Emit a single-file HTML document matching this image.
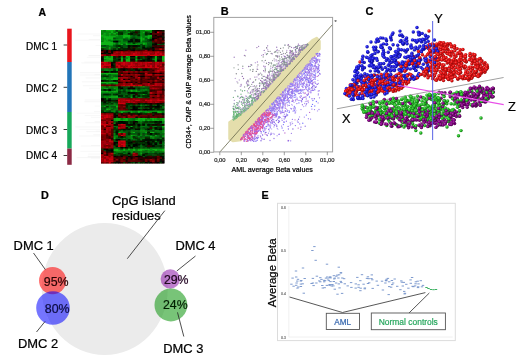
<!DOCTYPE html>
<html><head><meta charset="utf-8"><style>
html,body{margin:0;padding:0;background:#fff;width:520px;height:358px;overflow:hidden}
svg{display:block;font-family:"Liberation Sans", sans-serif}
</style></head><body>
<svg width="520" height="358" viewBox="0 0 520 358">
<defs><filter id="blur1" x="-5%" y="-5%" width="110%" height="110%"><feGaussianBlur stdDeviation="0.6"/></filter>
<radialGradient id="gb" cx="0.38" cy="0.38" r="0.62"><stop offset="0" stop-color="#5050ff"/><stop offset="0.5" stop-color="#1c1cdc"/><stop offset="1" stop-color="#0c0c8c"/></radialGradient>
<radialGradient id="gr" cx="0.38" cy="0.38" r="0.62"><stop offset="0" stop-color="#ff5050"/><stop offset="0.5" stop-color="#e01010"/><stop offset="1" stop-color="#8a0808"/></radialGradient>
<radialGradient id="gg" cx="0.38" cy="0.38" r="0.62"><stop offset="0" stop-color="#66e066"/><stop offset="0.55" stop-color="#22b422"/><stop offset="1" stop-color="#0e660e"/></radialGradient>
<radialGradient id="gp" cx="0.38" cy="0.38" r="0.62"><stop offset="0" stop-color="#b040b0"/><stop offset="0.55" stop-color="#800080"/><stop offset="1" stop-color="#400040"/></radialGradient>
<filter id="gblur" x="0" y="0" width="100%" height="100%"><feGaussianBlur stdDeviation="0.35"/></filter>
<filter id="blur2" x="-5%" y="-5%" width="110%" height="110%"><feGaussianBlur stdDeviation="0.3"/></filter></defs>
<rect width="520" height="358" fill="#fff"/>
<g filter="url(#gblur)">
<text x="38.4" y="15.9" font-size="10.5" font-weight="bold" stroke="#000" stroke-width="0.22">A</text>
<text x="26" y="50.2" font-size="10" stroke="#000" stroke-width="0.22">DMC 1</text>
<line x1="63.6" x2="67.4" y1="45.0" y2="45.0" stroke="#222" stroke-width="0.9"/>
<text x="26" y="91.8" font-size="10" stroke="#000" stroke-width="0.22">DMC 2</text>
<line x1="63.6" x2="67.4" y1="87.3" y2="87.3" stroke="#222" stroke-width="0.9"/>
<text x="26" y="134" font-size="10" stroke="#000" stroke-width="0.22">DMC 3</text>
<line x1="63.6" x2="67.4" y1="129.5" y2="129.5" stroke="#222" stroke-width="0.9"/>
<text x="26" y="158.8" font-size="10" stroke="#000" stroke-width="0.22">DMC 4</text>
<line x1="63.6" x2="67.4" y1="155.5" y2="155.5" stroke="#222" stroke-width="0.9"/>
<rect x="67.2" y="28.7" width="4.5" height="33.3" fill="#e8121c"/>
<rect x="67.2" y="62" width="4.5" height="50" fill="#2274b8"/>
<rect x="67.2" y="112" width="4.5" height="36.6" fill="#19a85a"/>
<rect x="67.2" y="148.6" width="4.5" height="16.2" fill="#8c2a45"/>
<g filter="url(#blur1)"><rect x="101" y="30" width="63.2" height="133.3" fill="#300"/><path fill="#07a013" d="M101 30h2.73v1.81h-2.73zM113.2 30h2.73v1.81h-2.73zM125.3 30h2.73v1.81h-2.73zM149.6 30h2.73v1.81h-2.73zM115.6 31.5h2.73v1.81h-2.73zM103.4 34.5h2.73v1.81h-2.73zM108.3 34.5h2.73v1.81h-2.73zM115.6 34.5h2.73v1.81h-2.73zM147.2 34.5h2.73v1.81h-2.73zM101 36.1h2.73v1.81h-2.73zM139.9 36.1h2.73v1.81h-2.73zM149.6 36.1h2.73v1.81h-2.73zM103.4 37.6h2.73v1.81h-2.73zM142.3 37.6h2.73v1.81h-2.73zM103.4 39.1h2.73v1.81h-2.73zM105.9 39.1h2.73v1.81h-2.73zM110.7 39.1h2.73v1.81h-2.73zM113.2 39.1h2.73v1.81h-2.73zM115.6 39.1h2.73v1.81h-2.73zM142.3 39.1h2.73v1.81h-2.73zM105.9 40.6h2.73v1.81h-2.73zM108.3 40.6h2.73v1.81h-2.73zM139.9 40.6h2.73v1.81h-2.73zM122.9 42.1h2.73v1.81h-2.73zM125.3 42.1h2.73v1.81h-2.73zM144.8 42.1h2.73v1.81h-2.73zM135 43.6h2.73v1.81h-2.73zM142.3 43.6h2.73v1.81h-2.73zM108.3 46.7h2.73v1.81h-2.73zM108.3 48.2h2.73v1.81h-2.73zM127.7 55.8h2.73v1.81h-2.73zM105.9 58.8h2.73v1.81h-2.73zM108.3 60.3h2.73v1.81h-2.73zM110.7 60.3h2.73v1.81h-2.73zM161.8 60.3h2.73v1.81h-2.73zM101 72.4h2.73v1.81h-2.73zM105.9 73.9h2.73v1.81h-2.73zM105.9 78.5h2.73v1.81h-2.73zM105.9 81.5h2.73v1.81h-2.73zM105.9 83h2.73v1.81h-2.73zM115.6 83h2.73v1.81h-2.73zM101 86h2.73v1.81h-2.73zM103.4 87.6h2.73v1.81h-2.73zM105.9 87.6h2.73v1.81h-2.73zM113.2 87.6h2.73v1.81h-2.73zM115.6 89.1h2.73v1.81h-2.73zM125.3 89.1h2.73v1.81h-2.73zM135 89.1h2.73v1.81h-2.73zM101 90.6h2.73v1.81h-2.73zM103.4 90.6h2.73v1.81h-2.73zM110.7 90.6h2.73v1.81h-2.73zM115.6 90.6h2.73v1.81h-2.73zM130.2 90.6h2.73v1.81h-2.73zM135 90.6h2.73v1.81h-2.73zM108.3 92.1h2.73v1.81h-2.73zM142.3 93.6h2.73v1.81h-2.73zM110.7 95.1h2.73v1.81h-2.73zM113.2 95.1h2.73v1.81h-2.73zM108.3 96.7h2.73v1.81h-2.73zM110.7 96.7h2.73v1.81h-2.73zM113.2 96.7h2.73v1.81h-2.73zM115.6 96.7h2.73v1.81h-2.73zM130.2 96.7h2.73v1.81h-2.73zM105.9 104.2h2.73v1.81h-2.73zM113.2 104.2h2.73v1.81h-2.73zM103.4 105.7h2.73v1.81h-2.73zM108.3 108.8h2.73v1.81h-2.73zM103.4 110.3h2.73v1.81h-2.73zM110.7 110.3h2.73v1.81h-2.73zM113.2 110.3h2.73v1.81h-2.73zM118 110.3h2.73v1.81h-2.73zM120.4 110.3h2.73v1.81h-2.73zM125.3 110.3h2.73v1.81h-2.73zM127.7 110.3h2.73v1.81h-2.73zM130.2 110.3h2.73v1.81h-2.73zM142.3 110.3h2.73v1.81h-2.73zM144.8 110.3h2.73v1.81h-2.73zM149.6 110.3h2.73v1.81h-2.73zM159.3 110.3h2.73v1.81h-2.73zM130.2 111.8h2.73v1.81h-2.73zM137.5 111.8h2.73v1.81h-2.73zM147.2 111.8h2.73v1.81h-2.73zM113.2 117.9h2.73v1.81h-2.73zM122.9 117.9h2.73v1.81h-2.73zM144.8 117.9h2.73v1.81h-2.73zM149.6 117.9h2.73v1.81h-2.73zM154.5 117.9h2.73v1.81h-2.73zM159.3 117.9h2.73v1.81h-2.73zM113.2 119.4h2.73v1.81h-2.73zM120.4 119.4h2.73v1.81h-2.73zM139.9 119.4h2.73v1.81h-2.73zM154.5 119.4h2.73v1.81h-2.73zM156.9 119.4h2.73v1.81h-2.73zM142.3 130h2.73v1.81h-2.73zM154.5 130h2.73v1.81h-2.73zM161.8 130h2.73v1.81h-2.73zM144.8 131.5h2.73v1.81h-2.73zM149.6 131.5h2.73v1.81h-2.73zM113.2 133h2.73v1.81h-2.73zM154.5 134.5h2.73v1.81h-2.73zM113.2 136h2.73v1.81h-2.73zM137.5 136h2.73v1.81h-2.73zM152 136h2.73v1.81h-2.73zM161.8 136h2.73v1.81h-2.73zM113.2 148.2h2.73v1.81h-2.73zM137.5 148.2h2.73v1.81h-2.73zM156.9 148.2h2.73v1.81h-2.73zM159.3 148.2h2.73v1.81h-2.73zM118 149.7h2.73v1.81h-2.73zM159.3 149.7h2.73v1.81h-2.73zM147.2 151.2h2.73v1.81h-2.73zM152 151.2h2.73v1.81h-2.73zM139.9 152.7h2.73v1.81h-2.73z"/><path fill="#057c0f" d="M103.4 30h2.73v1.81h-2.73zM132.6 30h2.73v1.81h-2.73zM113.2 31.5h2.73v1.81h-2.73zM125.3 31.5h2.73v1.81h-2.73zM101 33h2.73v1.81h-2.73zM110.7 33h2.73v1.81h-2.73zM115.6 33h2.73v1.81h-2.73zM122.9 33h2.73v1.81h-2.73zM142.3 33h2.73v1.81h-2.73zM118 34.5h2.73v1.81h-2.73zM142.3 34.5h2.73v1.81h-2.73zM118 36.1h2.73v1.81h-2.73zM120.4 36.1h2.73v1.81h-2.73zM130.2 36.1h2.73v1.81h-2.73zM135 36.1h2.73v1.81h-2.73zM142.3 36.1h2.73v1.81h-2.73zM118 37.6h2.73v1.81h-2.73zM120.4 37.6h2.73v1.81h-2.73zM122.9 37.6h2.73v1.81h-2.73zM108.3 39.1h2.73v1.81h-2.73zM144.8 39.1h2.73v1.81h-2.73zM101 40.6h2.73v1.81h-2.73zM110.7 40.6h2.73v1.81h-2.73zM125.3 40.6h2.73v1.81h-2.73zM115.6 42.1h2.73v1.81h-2.73zM135 42.1h2.73v1.81h-2.73zM108.3 45.1h2.73v1.81h-2.73zM110.7 45.1h2.73v1.81h-2.73zM105.9 48.2h2.73v1.81h-2.73zM120.4 55.8h2.73v1.81h-2.73zM103.4 58.8h2.73v1.81h-2.73zM152 58.8h2.73v1.81h-2.73zM135 60.3h2.73v1.81h-2.73zM103.4 67.9h2.73v1.81h-2.73zM105.9 67.9h2.73v1.81h-2.73zM110.7 67.9h2.73v1.81h-2.73zM103.4 69.4h2.73v1.81h-2.73zM108.3 69.4h2.73v1.81h-2.73zM110.7 69.4h2.73v1.81h-2.73zM101 73.9h2.73v1.81h-2.73zM110.7 73.9h2.73v1.81h-2.73zM113.2 73.9h2.73v1.81h-2.73zM101 77h2.73v1.81h-2.73zM105.9 77h2.73v1.81h-2.73zM108.3 77h2.73v1.81h-2.73zM110.7 77h2.73v1.81h-2.73zM101 78.5h2.73v1.81h-2.73zM103.4 78.5h2.73v1.81h-2.73zM132.6 86h2.73v1.81h-2.73zM127.7 89.1h2.73v1.81h-2.73zM147.2 89.1h2.73v1.81h-2.73zM132.6 90.6h2.73v1.81h-2.73zM110.7 92.1h2.73v1.81h-2.73zM115.6 92.1h2.73v1.81h-2.73zM147.2 92.1h2.73v1.81h-2.73zM105.9 95.1h2.73v1.81h-2.73zM137.5 96.7h2.73v1.81h-2.73zM139.9 96.7h2.73v1.81h-2.73zM105.9 98.2h2.73v1.81h-2.73zM113.2 102.7h2.73v1.81h-2.73zM108.3 104.2h2.73v1.81h-2.73zM135 104.2h2.73v1.81h-2.73zM154.5 104.2h2.73v1.81h-2.73zM101 105.7h2.73v1.81h-2.73zM108.3 105.7h2.73v1.81h-2.73zM105.9 107.3h2.73v1.81h-2.73zM115.6 107.3h2.73v1.81h-2.73zM137.5 107.3h2.73v1.81h-2.73zM139.9 107.3h2.73v1.81h-2.73zM152 107.3h2.73v1.81h-2.73zM113.2 108.8h2.73v1.81h-2.73zM115.6 108.8h2.73v1.81h-2.73zM135 110.3h2.73v1.81h-2.73zM149.6 111.8h2.73v1.81h-2.73zM120.4 117.9h2.73v1.81h-2.73zM130.2 117.9h2.73v1.81h-2.73zM147.2 117.9h2.73v1.81h-2.73zM127.7 119.4h2.73v1.81h-2.73zM130.2 119.4h2.73v1.81h-2.73zM144.8 119.4h2.73v1.81h-2.73zM161.8 120.9h2.73v1.81h-2.73zM161.8 122.4h2.73v1.81h-2.73zM113.2 125.4h2.73v1.81h-2.73zM125.3 125.4h2.73v1.81h-2.73zM139.9 125.4h2.73v1.81h-2.73zM142.3 125.4h2.73v1.81h-2.73zM152 125.4h2.73v1.81h-2.73zM154.5 125.4h2.73v1.81h-2.73zM161.8 126.9h2.73v1.81h-2.73zM139.9 128.5h2.73v1.81h-2.73zM120.4 130h2.73v1.81h-2.73zM130.2 130h2.73v1.81h-2.73zM137.5 130h2.73v1.81h-2.73zM159.3 130h2.73v1.81h-2.73zM120.4 131.5h2.73v1.81h-2.73zM122.9 131.5h2.73v1.81h-2.73zM139.9 131.5h2.73v1.81h-2.73zM142.3 131.5h2.73v1.81h-2.73zM139.9 133h2.73v1.81h-2.73zM113.2 134.5h2.73v1.81h-2.73zM135 134.5h2.73v1.81h-2.73zM147.2 134.5h2.73v1.81h-2.73zM161.8 134.5h2.73v1.81h-2.73zM127.7 136h2.73v1.81h-2.73zM154.5 136h2.73v1.81h-2.73zM122.9 137.5h2.73v1.81h-2.73zM142.3 137.5h2.73v1.81h-2.73zM159.3 137.5h2.73v1.81h-2.73zM132.6 139.1h2.73v1.81h-2.73zM139.9 139.1h2.73v1.81h-2.73zM154.5 140.6h2.73v1.81h-2.73zM161.8 142.1h2.73v1.81h-2.73zM118 148.2h2.73v1.81h-2.73zM135 148.2h2.73v1.81h-2.73zM135 149.7h2.73v1.81h-2.73zM152 149.7h2.73v1.81h-2.73zM115.6 151.2h2.73v1.81h-2.73zM120.4 151.2h2.73v1.81h-2.73zM125.3 151.2h2.73v1.81h-2.73zM144.8 151.2h2.73v1.81h-2.73zM159.3 151.2h2.73v1.81h-2.73zM161.8 151.2h2.73v1.81h-2.73zM122.9 152.7h2.73v1.81h-2.73zM139.9 154.2h2.73v1.81h-2.73z"/><path fill="#08b216" d="M105.9 30h2.73v1.81h-2.73zM108.3 30h2.73v1.81h-2.73zM110.7 30h2.73v1.81h-2.73zM144.8 30h2.73v1.81h-2.73zM147.2 30h2.73v1.81h-2.73zM110.7 31.5h2.73v1.81h-2.73zM142.3 31.5h2.73v1.81h-2.73zM103.4 33h2.73v1.81h-2.73zM108.3 33h2.73v1.81h-2.73zM113.2 33h2.73v1.81h-2.73zM101 34.5h2.73v1.81h-2.73zM122.9 34.5h2.73v1.81h-2.73zM125.3 34.5h2.73v1.81h-2.73zM127.7 34.5h2.73v1.81h-2.73zM149.6 34.5h2.73v1.81h-2.73zM103.4 36.1h2.73v1.81h-2.73zM105.9 36.1h2.73v1.81h-2.73zM108.3 36.1h2.73v1.81h-2.73zM110.7 36.1h2.73v1.81h-2.73zM113.2 36.1h2.73v1.81h-2.73zM122.9 36.1h2.73v1.81h-2.73zM125.3 36.1h2.73v1.81h-2.73zM127.7 36.1h2.73v1.81h-2.73zM144.8 36.1h2.73v1.81h-2.73zM147.2 36.1h2.73v1.81h-2.73zM105.9 37.6h2.73v1.81h-2.73zM108.3 37.6h2.73v1.81h-2.73zM110.7 37.6h2.73v1.81h-2.73zM139.9 37.6h2.73v1.81h-2.73zM147.2 37.6h2.73v1.81h-2.73zM139.9 39.1h2.73v1.81h-2.73zM103.4 40.6h2.73v1.81h-2.73zM101 42.1h2.73v1.81h-2.73zM103.4 42.1h2.73v1.81h-2.73zM105.9 42.1h2.73v1.81h-2.73zM108.3 42.1h2.73v1.81h-2.73zM110.7 42.1h2.73v1.81h-2.73zM113.2 42.1h2.73v1.81h-2.73zM118 42.1h2.73v1.81h-2.73zM142.3 42.1h2.73v1.81h-2.73zM101 43.6h2.73v1.81h-2.73zM103.4 43.6h2.73v1.81h-2.73zM105.9 43.6h2.73v1.81h-2.73zM108.3 43.6h2.73v1.81h-2.73zM110.7 43.6h2.73v1.81h-2.73zM120.4 43.6h2.73v1.81h-2.73zM125.3 43.6h2.73v1.81h-2.73zM105.9 55.8h2.73v1.81h-2.73zM110.7 55.8h2.73v1.81h-2.73zM125.3 55.8h2.73v1.81h-2.73zM135 55.8h2.73v1.81h-2.73zM154.5 55.8h2.73v1.81h-2.73zM161.8 55.8h2.73v1.81h-2.73zM103.4 57.3h2.73v1.81h-2.73zM105.9 57.3h2.73v1.81h-2.73zM108.3 57.3h2.73v1.81h-2.73zM110.7 57.3h2.73v1.81h-2.73zM120.4 57.3h2.73v1.81h-2.73zM127.7 57.3h2.73v1.81h-2.73zM154.5 57.3h2.73v1.81h-2.73zM161.8 57.3h2.73v1.81h-2.73zM108.3 58.8h2.73v1.81h-2.73zM110.7 58.8h2.73v1.81h-2.73zM120.4 58.8h2.73v1.81h-2.73zM125.3 58.8h2.73v1.81h-2.73zM127.7 58.8h2.73v1.81h-2.73zM135 58.8h2.73v1.81h-2.73zM154.5 58.8h2.73v1.81h-2.73zM161.8 58.8h2.73v1.81h-2.73zM103.4 60.3h2.73v1.81h-2.73zM105.9 60.3h2.73v1.81h-2.73zM120.4 60.3h2.73v1.81h-2.73zM125.3 60.3h2.73v1.81h-2.73zM127.7 60.3h2.73v1.81h-2.73zM154.5 60.3h2.73v1.81h-2.73zM103.4 72.4h2.73v1.81h-2.73zM105.9 72.4h2.73v1.81h-2.73zM108.3 72.4h2.73v1.81h-2.73zM110.7 72.4h2.73v1.81h-2.73zM113.2 72.4h2.73v1.81h-2.73zM115.6 72.4h2.73v1.81h-2.73zM103.4 77h2.73v1.81h-2.73zM113.2 77h2.73v1.81h-2.73zM115.6 77h2.73v1.81h-2.73zM110.7 78.5h2.73v1.81h-2.73zM113.2 78.5h2.73v1.81h-2.73zM115.6 78.5h2.73v1.81h-2.73zM101 81.5h2.73v1.81h-2.73zM103.4 81.5h2.73v1.81h-2.73zM108.3 81.5h2.73v1.81h-2.73zM110.7 81.5h2.73v1.81h-2.73zM113.2 81.5h2.73v1.81h-2.73zM108.3 86h2.73v1.81h-2.73zM142.3 86h2.73v1.81h-2.73zM120.4 89.1h2.73v1.81h-2.73zM130.2 89.1h2.73v1.81h-2.73zM142.3 89.1h2.73v1.81h-2.73zM144.8 89.1h2.73v1.81h-2.73zM105.9 90.6h2.73v1.81h-2.73zM113.2 90.6h2.73v1.81h-2.73zM115.6 95.1h2.73v1.81h-2.73zM115.6 105.7h2.73v1.81h-2.73zM105.9 108.8h2.73v1.81h-2.73zM122.9 110.3h2.73v1.81h-2.73zM137.5 110.3h2.73v1.81h-2.73zM139.9 110.3h2.73v1.81h-2.73zM152 110.3h2.73v1.81h-2.73zM154.5 110.3h2.73v1.81h-2.73zM156.9 110.3h2.73v1.81h-2.73zM120.4 111.8h2.73v1.81h-2.73zM156.9 111.8h2.73v1.81h-2.73zM159.3 111.8h2.73v1.81h-2.73zM115.6 117.9h2.73v1.81h-2.73zM118 117.9h2.73v1.81h-2.73zM125.3 117.9h2.73v1.81h-2.73zM137.5 117.9h2.73v1.81h-2.73zM139.9 117.9h2.73v1.81h-2.73zM142.3 117.9h2.73v1.81h-2.73zM152 117.9h2.73v1.81h-2.73zM161.8 117.9h2.73v1.81h-2.73zM115.6 119.4h2.73v1.81h-2.73zM118 119.4h2.73v1.81h-2.73zM122.9 119.4h2.73v1.81h-2.73zM125.3 119.4h2.73v1.81h-2.73zM135 119.4h2.73v1.81h-2.73zM137.5 119.4h2.73v1.81h-2.73zM142.3 119.4h2.73v1.81h-2.73zM147.2 119.4h2.73v1.81h-2.73zM152 119.4h2.73v1.81h-2.73zM161.8 119.4h2.73v1.81h-2.73zM130.2 125.4h2.73v1.81h-2.73zM161.8 125.4h2.73v1.81h-2.73zM118 131.5h2.73v1.81h-2.73zM132.6 131.5h2.73v1.81h-2.73zM152 131.5h2.73v1.81h-2.73zM130.2 134.5h2.73v1.81h-2.73zM149.6 136h2.73v1.81h-2.73zM113.2 137.5h2.73v1.81h-2.73zM115.6 148.2h2.73v1.81h-2.73zM122.9 148.2h2.73v1.81h-2.73zM127.7 148.2h2.73v1.81h-2.73zM132.6 148.2h2.73v1.81h-2.73zM139.9 148.2h2.73v1.81h-2.73zM142.3 148.2h2.73v1.81h-2.73zM144.8 148.2h2.73v1.81h-2.73zM147.2 148.2h2.73v1.81h-2.73zM152 148.2h2.73v1.81h-2.73zM154.5 148.2h2.73v1.81h-2.73zM161.8 148.2h2.73v1.81h-2.73zM113.2 149.7h2.73v1.81h-2.73zM115.6 149.7h2.73v1.81h-2.73zM122.9 149.7h2.73v1.81h-2.73zM132.6 149.7h2.73v1.81h-2.73zM137.5 149.7h2.73v1.81h-2.73zM139.9 149.7h2.73v1.81h-2.73zM154.5 149.7h2.73v1.81h-2.73zM161.8 149.7h2.73v1.81h-2.73z"/><path fill="#034708" d="M115.6 30h2.73v1.81h-2.73zM135 30h2.73v1.81h-2.73zM137.5 30h2.73v1.81h-2.73zM137.5 33h2.73v1.81h-2.73zM132.6 34.5h2.73v1.81h-2.73zM113.2 37.6h2.73v1.81h-2.73zM130.2 37.6h2.73v1.81h-2.73zM122.9 39.1h2.73v1.81h-2.73zM132.6 39.1h2.73v1.81h-2.73zM147.2 39.1h2.73v1.81h-2.73zM147.2 40.6h2.73v1.81h-2.73zM149.6 40.6h2.73v1.81h-2.73zM152 42.1h2.73v1.81h-2.73zM139.9 43.6h2.73v1.81h-2.73zM159.3 43.6h2.73v1.81h-2.73zM161.8 43.6h2.73v1.81h-2.73zM103.4 45.1h2.73v1.81h-2.73zM120.4 45.1h2.73v1.81h-2.73zM147.2 45.1h2.73v1.81h-2.73zM149.6 45.1h2.73v1.81h-2.73zM115.6 46.7h2.73v1.81h-2.73zM144.8 46.7h2.73v1.81h-2.73zM120.4 48.2h2.73v1.81h-2.73zM135 48.2h2.73v1.81h-2.73zM139.9 48.2h2.73v1.81h-2.73zM142.3 55.8h2.73v1.81h-2.73zM115.6 57.3h2.73v1.81h-2.73zM122.9 57.3h2.73v1.81h-2.73zM137.5 58.8h2.73v1.81h-2.73zM118 60.3h2.73v1.81h-2.73zM137.5 67.9h2.73v1.81h-2.73zM108.3 70.9h2.73v1.81h-2.73zM101 75.4h2.73v1.81h-2.73zM108.3 80h2.73v1.81h-2.73zM110.7 80h2.73v1.81h-2.73zM120.4 86h2.73v1.81h-2.73zM122.9 86h2.73v1.81h-2.73zM122.9 87.6h2.73v1.81h-2.73zM125.3 87.6h2.73v1.81h-2.73zM142.3 87.6h2.73v1.81h-2.73zM147.2 87.6h2.73v1.81h-2.73zM105.9 89.1h2.73v1.81h-2.73zM122.9 89.1h2.73v1.81h-2.73zM120.4 90.6h2.73v1.81h-2.73zM125.3 92.1h2.73v1.81h-2.73zM120.4 93.6h2.73v1.81h-2.73zM132.6 93.6h2.73v1.81h-2.73zM137.5 93.6h2.73v1.81h-2.73zM120.4 96.7h2.73v1.81h-2.73zM122.9 96.7h2.73v1.81h-2.73zM125.3 96.7h2.73v1.81h-2.73zM135 96.7h2.73v1.81h-2.73zM142.3 96.7h2.73v1.81h-2.73zM101 101.2h2.73v1.81h-2.73zM113.2 101.2h2.73v1.81h-2.73zM127.7 104.2h2.73v1.81h-2.73zM127.7 105.7h2.73v1.81h-2.73zM139.9 105.7h2.73v1.81h-2.73zM103.4 107.3h2.73v1.81h-2.73zM125.3 107.3h2.73v1.81h-2.73zM127.7 107.3h2.73v1.81h-2.73zM144.8 107.3h2.73v1.81h-2.73zM159.3 107.3h2.73v1.81h-2.73zM154.5 108.8h2.73v1.81h-2.73zM108.3 110.3h2.73v1.81h-2.73zM115.6 110.3h2.73v1.81h-2.73zM115.6 116.3h2.73v1.81h-2.73zM115.6 120.9h2.73v1.81h-2.73zM127.7 120.9h2.73v1.81h-2.73zM147.2 120.9h2.73v1.81h-2.73zM137.5 122.4h2.73v1.81h-2.73zM147.2 122.4h2.73v1.81h-2.73zM159.3 122.4h2.73v1.81h-2.73zM135 123.9h2.73v1.81h-2.73zM139.9 123.9h2.73v1.81h-2.73zM127.7 125.4h2.73v1.81h-2.73zM147.2 125.4h2.73v1.81h-2.73zM156.9 125.4h2.73v1.81h-2.73zM159.3 125.4h2.73v1.81h-2.73zM142.3 126.9h2.73v1.81h-2.73zM130.2 128.5h2.73v1.81h-2.73zM132.6 128.5h2.73v1.81h-2.73zM122.9 130h2.73v1.81h-2.73zM113.2 131.5h2.73v1.81h-2.73zM142.3 133h2.73v1.81h-2.73zM152 133h2.73v1.81h-2.73zM137.5 134.5h2.73v1.81h-2.73zM152 134.5h2.73v1.81h-2.73zM139.9 136h2.73v1.81h-2.73zM144.8 136h2.73v1.81h-2.73zM159.3 136h2.73v1.81h-2.73zM120.4 137.5h2.73v1.81h-2.73zM132.6 137.5h2.73v1.81h-2.73zM137.5 137.5h2.73v1.81h-2.73zM156.9 137.5h2.73v1.81h-2.73zM113.2 140.6h2.73v1.81h-2.73zM115.6 140.6h2.73v1.81h-2.73zM144.8 140.6h2.73v1.81h-2.73zM161.8 140.6h2.73v1.81h-2.73zM137.5 142.1h2.73v1.81h-2.73zM152 142.1h2.73v1.81h-2.73zM125.3 143.6h2.73v1.81h-2.73zM139.9 143.6h2.73v1.81h-2.73zM152 143.6h2.73v1.81h-2.73zM159.3 143.6h2.73v1.81h-2.73zM137.5 145.1h2.73v1.81h-2.73zM142.3 145.1h2.73v1.81h-2.73zM115.6 146.6h2.73v1.81h-2.73zM118 146.6h2.73v1.81h-2.73zM142.3 146.6h2.73v1.81h-2.73zM149.6 146.6h2.73v1.81h-2.73zM152 146.6h2.73v1.81h-2.73zM154.5 146.6h2.73v1.81h-2.73zM159.3 146.6h2.73v1.81h-2.73zM101 148.2h2.73v1.81h-2.73zM103.4 149.7h2.73v1.81h-2.73zM132.6 151.2h2.73v1.81h-2.73zM142.3 152.7h2.73v1.81h-2.73zM147.2 152.7h2.73v1.81h-2.73zM149.6 152.7h2.73v1.81h-2.73zM152 152.7h2.73v1.81h-2.73zM156.9 152.7h2.73v1.81h-2.73zM115.6 154.2h2.73v1.81h-2.73zM137.5 154.2h2.73v1.81h-2.73zM144.8 154.2h2.73v1.81h-2.73zM147.2 154.2h2.73v1.81h-2.73zM149.6 154.2h2.73v1.81h-2.73zM122.9 161.8h2.73v1.81h-2.73zM132.6 161.8h2.73v1.81h-2.73z"/><path fill="#068e11" d="M118 30h2.73v1.81h-2.73zM120.4 30h2.73v1.81h-2.73zM130.2 30h2.73v1.81h-2.73zM139.9 30h2.73v1.81h-2.73zM142.3 30h2.73v1.81h-2.73zM101 31.5h2.73v1.81h-2.73zM103.4 31.5h2.73v1.81h-2.73zM105.9 31.5h2.73v1.81h-2.73zM108.3 31.5h2.73v1.81h-2.73zM127.7 31.5h2.73v1.81h-2.73zM139.9 31.5h2.73v1.81h-2.73zM149.6 31.5h2.73v1.81h-2.73zM105.9 33h2.73v1.81h-2.73zM125.3 33h2.73v1.81h-2.73zM139.9 33h2.73v1.81h-2.73zM105.9 34.5h2.73v1.81h-2.73zM110.7 34.5h2.73v1.81h-2.73zM113.2 34.5h2.73v1.81h-2.73zM120.4 34.5h2.73v1.81h-2.73zM139.9 34.5h2.73v1.81h-2.73zM115.6 36.1h2.73v1.81h-2.73zM101 37.6h2.73v1.81h-2.73zM127.7 37.6h2.73v1.81h-2.73zM101 39.1h2.73v1.81h-2.73zM118 39.1h2.73v1.81h-2.73zM120.4 39.1h2.73v1.81h-2.73zM120.4 40.6h2.73v1.81h-2.73zM120.4 42.1h2.73v1.81h-2.73zM130.2 42.1h2.73v1.81h-2.73zM137.5 42.1h2.73v1.81h-2.73zM139.9 42.1h2.73v1.81h-2.73zM113.2 43.6h2.73v1.81h-2.73zM118 43.6h2.73v1.81h-2.73zM127.7 43.6h2.73v1.81h-2.73zM130.2 43.6h2.73v1.81h-2.73zM132.6 43.6h2.73v1.81h-2.73zM137.5 43.6h2.73v1.81h-2.73zM144.8 43.6h2.73v1.81h-2.73zM101 46.7h2.73v1.81h-2.73zM103.4 46.7h2.73v1.81h-2.73zM118 46.7h2.73v1.81h-2.73zM103.4 55.8h2.73v1.81h-2.73zM108.3 55.8h2.73v1.81h-2.73zM125.3 57.3h2.73v1.81h-2.73zM135 57.3h2.73v1.81h-2.73zM115.6 67.9h2.73v1.81h-2.73zM105.9 69.4h2.73v1.81h-2.73zM115.6 69.4h2.73v1.81h-2.73zM115.6 73.9h2.73v1.81h-2.73zM110.7 75.4h2.73v1.81h-2.73zM108.3 78.5h2.73v1.81h-2.73zM115.6 81.5h2.73v1.81h-2.73zM108.3 83h2.73v1.81h-2.73zM113.2 83h2.73v1.81h-2.73zM103.4 86h2.73v1.81h-2.73zM110.7 86h2.73v1.81h-2.73zM113.2 86h2.73v1.81h-2.73zM115.6 86h2.73v1.81h-2.73zM139.9 86h2.73v1.81h-2.73zM101 87.6h2.73v1.81h-2.73zM115.6 87.6h2.73v1.81h-2.73zM132.6 89.1h2.73v1.81h-2.73zM139.9 89.1h2.73v1.81h-2.73zM108.3 90.6h2.73v1.81h-2.73zM137.5 90.6h2.73v1.81h-2.73zM101 92.1h2.73v1.81h-2.73zM103.4 92.1h2.73v1.81h-2.73zM105.9 92.1h2.73v1.81h-2.73zM113.2 92.1h2.73v1.81h-2.73zM103.4 95.1h2.73v1.81h-2.73zM108.3 95.1h2.73v1.81h-2.73zM130.2 95.1h2.73v1.81h-2.73zM103.4 96.7h2.73v1.81h-2.73zM105.9 96.7h2.73v1.81h-2.73zM110.7 104.2h2.73v1.81h-2.73zM115.6 104.2h2.73v1.81h-2.73zM139.9 104.2h2.73v1.81h-2.73zM144.8 104.2h2.73v1.81h-2.73zM108.3 107.3h2.73v1.81h-2.73zM110.7 107.3h2.73v1.81h-2.73zM132.6 110.3h2.73v1.81h-2.73zM147.2 110.3h2.73v1.81h-2.73zM161.8 110.3h2.73v1.81h-2.73zM144.8 111.8h2.73v1.81h-2.73zM127.7 117.9h2.73v1.81h-2.73zM135 117.9h2.73v1.81h-2.73zM156.9 117.9h2.73v1.81h-2.73zM149.6 119.4h2.73v1.81h-2.73zM159.3 119.4h2.73v1.81h-2.73zM139.9 120.9h2.73v1.81h-2.73zM113.2 122.4h2.73v1.81h-2.73zM152 128.5h2.73v1.81h-2.73zM135 130h2.73v1.81h-2.73zM139.9 130h2.73v1.81h-2.73zM144.8 130h2.73v1.81h-2.73zM156.9 130h2.73v1.81h-2.73zM130.2 131.5h2.73v1.81h-2.73zM161.8 131.5h2.73v1.81h-2.73zM132.6 134.5h2.73v1.81h-2.73zM139.9 134.5h2.73v1.81h-2.73zM144.8 134.5h2.73v1.81h-2.73zM115.6 136h2.73v1.81h-2.73zM130.2 136h2.73v1.81h-2.73zM130.2 137.5h2.73v1.81h-2.73zM152 137.5h2.73v1.81h-2.73zM130.2 148.2h2.73v1.81h-2.73zM149.6 148.2h2.73v1.81h-2.73zM120.4 149.7h2.73v1.81h-2.73zM125.3 149.7h2.73v1.81h-2.73zM127.7 149.7h2.73v1.81h-2.73zM130.2 149.7h2.73v1.81h-2.73zM142.3 149.7h2.73v1.81h-2.73zM147.2 149.7h2.73v1.81h-2.73zM149.6 149.7h2.73v1.81h-2.73zM156.9 149.7h2.73v1.81h-2.73zM118 151.2h2.73v1.81h-2.73zM130.2 151.2h2.73v1.81h-2.73zM139.9 151.2h2.73v1.81h-2.73zM113.2 152.7h2.73v1.81h-2.73z"/><path fill="#046a0d" d="M122.9 30h2.73v1.81h-2.73zM122.9 31.5h2.73v1.81h-2.73zM130.2 34.5h2.73v1.81h-2.73zM137.5 36.1h2.73v1.81h-2.73zM115.6 37.6h2.73v1.81h-2.73zM125.3 37.6h2.73v1.81h-2.73zM137.5 37.6h2.73v1.81h-2.73zM149.6 37.6h2.73v1.81h-2.73zM127.7 39.1h2.73v1.81h-2.73zM118 40.6h2.73v1.81h-2.73zM122.9 40.6h2.73v1.81h-2.73zM142.3 40.6h2.73v1.81h-2.73zM127.7 42.1h2.73v1.81h-2.73zM147.2 42.1h2.73v1.81h-2.73zM156.9 43.6h2.73v1.81h-2.73zM105.9 45.1h2.73v1.81h-2.73zM144.8 45.1h2.73v1.81h-2.73zM105.9 46.7h2.73v1.81h-2.73zM110.7 46.7h2.73v1.81h-2.73zM113.2 46.7h2.73v1.81h-2.73zM125.3 46.7h2.73v1.81h-2.73zM115.6 48.2h2.73v1.81h-2.73zM139.9 58.8h2.73v1.81h-2.73zM101 67.9h2.73v1.81h-2.73zM108.3 67.9h2.73v1.81h-2.73zM113.2 67.9h2.73v1.81h-2.73zM103.4 73.9h2.73v1.81h-2.73zM108.3 73.9h2.73v1.81h-2.73zM108.3 75.4h2.73v1.81h-2.73zM113.2 75.4h2.73v1.81h-2.73zM101 83h2.73v1.81h-2.73zM103.4 83h2.73v1.81h-2.73zM110.7 83h2.73v1.81h-2.73zM105.9 86h2.73v1.81h-2.73zM127.7 86h2.73v1.81h-2.73zM137.5 86h2.73v1.81h-2.73zM144.8 86h2.73v1.81h-2.73zM108.3 87.6h2.73v1.81h-2.73zM110.7 87.6h2.73v1.81h-2.73zM113.2 89.1h2.73v1.81h-2.73zM118 89.1h2.73v1.81h-2.73zM125.3 90.6h2.73v1.81h-2.73zM139.9 90.6h2.73v1.81h-2.73zM110.7 93.6h2.73v1.81h-2.73zM125.3 93.6h2.73v1.81h-2.73zM130.2 93.6h2.73v1.81h-2.73zM139.9 93.6h2.73v1.81h-2.73zM101 95.1h2.73v1.81h-2.73zM122.9 95.1h2.73v1.81h-2.73zM135 95.1h2.73v1.81h-2.73zM101 96.7h2.73v1.81h-2.73zM118 96.7h2.73v1.81h-2.73zM110.7 98.2h2.73v1.81h-2.73zM113.2 98.2h2.73v1.81h-2.73zM115.6 98.2h2.73v1.81h-2.73zM110.7 101.2h2.73v1.81h-2.73zM101 104.2h2.73v1.81h-2.73zM103.4 104.2h2.73v1.81h-2.73zM130.2 104.2h2.73v1.81h-2.73zM142.3 104.2h2.73v1.81h-2.73zM147.2 104.2h2.73v1.81h-2.73zM152 104.2h2.73v1.81h-2.73zM159.3 104.2h2.73v1.81h-2.73zM161.8 105.7h2.73v1.81h-2.73zM113.2 107.3h2.73v1.81h-2.73zM130.2 107.3h2.73v1.81h-2.73zM147.2 107.3h2.73v1.81h-2.73zM161.8 107.3h2.73v1.81h-2.73zM105.9 110.3h2.73v1.81h-2.73zM118 111.8h2.73v1.81h-2.73zM132.6 111.8h2.73v1.81h-2.73zM142.3 111.8h2.73v1.81h-2.73zM161.8 111.8h2.73v1.81h-2.73zM132.6 117.9h2.73v1.81h-2.73zM132.6 119.4h2.73v1.81h-2.73zM137.5 120.9h2.73v1.81h-2.73zM139.9 122.4h2.73v1.81h-2.73zM152 122.4h2.73v1.81h-2.73zM144.8 123.9h2.73v1.81h-2.73zM115.6 125.4h2.73v1.81h-2.73zM144.8 125.4h2.73v1.81h-2.73zM115.6 126.9h2.73v1.81h-2.73zM127.7 126.9h2.73v1.81h-2.73zM139.9 126.9h2.73v1.81h-2.73zM142.3 128.5h2.73v1.81h-2.73zM113.2 130h2.73v1.81h-2.73zM132.6 130h2.73v1.81h-2.73zM147.2 130h2.73v1.81h-2.73zM149.6 130h2.73v1.81h-2.73zM156.9 131.5h2.73v1.81h-2.73zM159.3 131.5h2.73v1.81h-2.73zM144.8 133h2.73v1.81h-2.73zM159.3 133h2.73v1.81h-2.73zM161.8 133h2.73v1.81h-2.73zM115.6 134.5h2.73v1.81h-2.73zM149.6 134.5h2.73v1.81h-2.73zM156.9 134.5h2.73v1.81h-2.73zM125.3 136h2.73v1.81h-2.73zM142.3 136h2.73v1.81h-2.73zM156.9 136h2.73v1.81h-2.73zM127.7 137.5h2.73v1.81h-2.73zM139.9 137.5h2.73v1.81h-2.73zM149.6 137.5h2.73v1.81h-2.73zM130.2 139.1h2.73v1.81h-2.73zM135 139.1h2.73v1.81h-2.73zM161.8 143.6h2.73v1.81h-2.73zM113.2 145.1h2.73v1.81h-2.73zM130.2 145.1h2.73v1.81h-2.73zM139.9 145.1h2.73v1.81h-2.73zM139.9 146.6h2.73v1.81h-2.73zM125.3 148.2h2.73v1.81h-2.73zM144.8 149.7h2.73v1.81h-2.73zM113.2 151.2h2.73v1.81h-2.73zM135 151.2h2.73v1.81h-2.73zM137.5 151.2h2.73v1.81h-2.73zM142.3 151.2h2.73v1.81h-2.73zM149.6 151.2h2.73v1.81h-2.73zM156.9 151.2h2.73v1.81h-2.73zM125.3 152.7h2.73v1.81h-2.73zM130.2 152.7h2.73v1.81h-2.73zM137.5 152.7h2.73v1.81h-2.73zM127.7 154.2h2.73v1.81h-2.73z"/><path fill="#04590b" d="M127.7 30h2.73v1.81h-2.73zM147.2 31.5h2.73v1.81h-2.73zM135 34.5h2.73v1.81h-2.73zM144.8 34.5h2.73v1.81h-2.73zM132.6 36.1h2.73v1.81h-2.73zM135 37.6h2.73v1.81h-2.73zM144.8 37.6h2.73v1.81h-2.73zM125.3 39.1h2.73v1.81h-2.73zM144.8 40.6h2.73v1.81h-2.73zM149.6 42.1h2.73v1.81h-2.73zM115.6 43.6h2.73v1.81h-2.73zM122.9 43.6h2.73v1.81h-2.73zM147.2 43.6h2.73v1.81h-2.73zM149.6 43.6h2.73v1.81h-2.73zM101 45.1h2.73v1.81h-2.73zM113.2 45.1h2.73v1.81h-2.73zM122.9 45.1h2.73v1.81h-2.73zM125.3 45.1h2.73v1.81h-2.73zM139.9 45.1h2.73v1.81h-2.73zM122.9 46.7h2.73v1.81h-2.73zM137.5 46.7h2.73v1.81h-2.73zM139.9 46.7h2.73v1.81h-2.73zM103.4 48.2h2.73v1.81h-2.73zM110.7 48.2h2.73v1.81h-2.73zM142.3 57.3h2.73v1.81h-2.73zM152 57.3h2.73v1.81h-2.73zM101 69.4h2.73v1.81h-2.73zM115.6 75.4h2.73v1.81h-2.73zM125.3 86h2.73v1.81h-2.73zM135 86h2.73v1.81h-2.73zM147.2 86h2.73v1.81h-2.73zM135 87.6h2.73v1.81h-2.73zM139.9 87.6h2.73v1.81h-2.73zM144.8 87.6h2.73v1.81h-2.73zM101 89.1h2.73v1.81h-2.73zM110.7 89.1h2.73v1.81h-2.73zM137.5 89.1h2.73v1.81h-2.73zM127.7 90.6h2.73v1.81h-2.73zM142.3 90.6h2.73v1.81h-2.73zM147.2 90.6h2.73v1.81h-2.73zM120.4 92.1h2.73v1.81h-2.73zM122.9 92.1h2.73v1.81h-2.73zM101 93.6h2.73v1.81h-2.73zM118 93.6h2.73v1.81h-2.73zM122.9 93.6h2.73v1.81h-2.73zM144.8 93.6h2.73v1.81h-2.73zM127.7 95.1h2.73v1.81h-2.73zM139.9 95.1h2.73v1.81h-2.73zM147.2 96.7h2.73v1.81h-2.73zM105.9 101.2h2.73v1.81h-2.73zM101 102.7h2.73v1.81h-2.73zM108.3 102.7h2.73v1.81h-2.73zM115.6 102.7h2.73v1.81h-2.73zM137.5 104.2h2.73v1.81h-2.73zM110.7 105.7h2.73v1.81h-2.73zM113.2 105.7h2.73v1.81h-2.73zM101 107.3h2.73v1.81h-2.73zM142.3 107.3h2.73v1.81h-2.73zM101 108.8h2.73v1.81h-2.73zM103.4 108.8h2.73v1.81h-2.73zM110.7 108.8h2.73v1.81h-2.73zM113.2 111.8h2.73v1.81h-2.73zM122.9 111.8h2.73v1.81h-2.73zM125.3 111.8h2.73v1.81h-2.73zM135 111.8h2.73v1.81h-2.73zM139.9 111.8h2.73v1.81h-2.73zM113.2 120.9h2.73v1.81h-2.73zM142.3 120.9h2.73v1.81h-2.73zM127.7 122.4h2.73v1.81h-2.73zM144.8 122.4h2.73v1.81h-2.73zM149.6 122.4h2.73v1.81h-2.73zM135 125.4h2.73v1.81h-2.73zM135 126.9h2.73v1.81h-2.73zM144.8 126.9h2.73v1.81h-2.73zM147.2 126.9h2.73v1.81h-2.73zM152 126.9h2.73v1.81h-2.73zM161.8 128.5h2.73v1.81h-2.73zM118 130h2.73v1.81h-2.73zM125.3 130h2.73v1.81h-2.73zM127.7 130h2.73v1.81h-2.73zM152 130h2.73v1.81h-2.73zM125.3 131.5h2.73v1.81h-2.73zM135 131.5h2.73v1.81h-2.73zM137.5 131.5h2.73v1.81h-2.73zM154.5 131.5h2.73v1.81h-2.73zM125.3 133h2.73v1.81h-2.73zM130.2 133h2.73v1.81h-2.73zM132.6 133h2.73v1.81h-2.73zM135 133h2.73v1.81h-2.73zM125.3 134.5h2.73v1.81h-2.73zM127.7 134.5h2.73v1.81h-2.73zM142.3 134.5h2.73v1.81h-2.73zM159.3 134.5h2.73v1.81h-2.73zM135 136h2.73v1.81h-2.73zM147.2 136h2.73v1.81h-2.73zM115.6 137.5h2.73v1.81h-2.73zM118 137.5h2.73v1.81h-2.73zM125.3 137.5h2.73v1.81h-2.73zM154.5 137.5h2.73v1.81h-2.73zM113.2 139.1h2.73v1.81h-2.73zM125.3 139.1h2.73v1.81h-2.73zM142.3 142.1h2.73v1.81h-2.73zM156.9 142.1h2.73v1.81h-2.73zM156.9 143.6h2.73v1.81h-2.73zM161.8 145.1h2.73v1.81h-2.73zM113.2 146.6h2.73v1.81h-2.73zM132.6 146.6h2.73v1.81h-2.73zM144.8 146.6h2.73v1.81h-2.73zM156.9 146.6h2.73v1.81h-2.73zM161.8 146.6h2.73v1.81h-2.73zM120.4 148.2h2.73v1.81h-2.73zM122.9 151.2h2.73v1.81h-2.73zM127.7 151.2h2.73v1.81h-2.73zM154.5 151.2h2.73v1.81h-2.73zM115.6 152.7h2.73v1.81h-2.73zM118 154.2h2.73v1.81h-2.73zM152 154.2h2.73v1.81h-2.73zM154.5 154.2h2.73v1.81h-2.73zM161.8 154.2h2.73v1.81h-2.73zM142.3 155.7h2.73v1.81h-2.73zM137.5 161.8h2.73v1.81h-2.73z"/><path fill="#012304" d="M152 30h2.73v1.81h-2.73zM161.8 30h2.73v1.81h-2.73zM132.6 31.5h2.73v1.81h-2.73zM120.4 33h2.73v1.81h-2.73zM144.8 33h2.73v1.81h-2.73zM137.5 34.5h2.73v1.81h-2.73zM161.8 36.1h2.73v1.81h-2.73zM137.5 39.1h2.73v1.81h-2.73zM149.6 39.1h2.73v1.81h-2.73zM161.8 42.1h2.73v1.81h-2.73zM118 45.1h2.73v1.81h-2.73zM130.2 45.1h2.73v1.81h-2.73zM137.5 45.1h2.73v1.81h-2.73zM120.4 46.7h2.73v1.81h-2.73zM149.6 46.7h2.73v1.81h-2.73zM118 48.2h2.73v1.81h-2.73zM122.9 48.2h2.73v1.81h-2.73zM125.3 48.2h2.73v1.81h-2.73zM130.2 48.2h2.73v1.81h-2.73zM122.9 49.7h2.73v1.81h-2.73zM105.9 52.7h2.73v1.81h-2.73zM113.2 55.8h2.73v1.81h-2.73zM137.5 55.8h2.73v1.81h-2.73zM152 55.8h2.73v1.81h-2.73zM156.9 55.8h2.73v1.81h-2.73zM113.2 57.3h2.73v1.81h-2.73zM149.6 57.3h2.73v1.81h-2.73zM159.3 57.3h2.73v1.81h-2.73zM142.3 58.8h2.73v1.81h-2.73zM144.8 58.8h2.73v1.81h-2.73zM149.6 58.8h2.73v1.81h-2.73zM156.9 58.8h2.73v1.81h-2.73zM159.3 58.8h2.73v1.81h-2.73zM113.2 60.3h2.73v1.81h-2.73zM130.2 60.3h2.73v1.81h-2.73zM144.8 60.3h2.73v1.81h-2.73zM152 60.3h2.73v1.81h-2.73zM113.2 64.8h2.73v1.81h-2.73zM113.2 66.4h2.73v1.81h-2.73zM118 67.9h2.73v1.81h-2.73zM147.2 67.9h2.73v1.81h-2.73zM118 69.4h2.73v1.81h-2.73zM130.2 69.4h2.73v1.81h-2.73zM147.2 69.4h2.73v1.81h-2.73zM115.6 70.9h2.73v1.81h-2.73zM120.4 72.4h2.73v1.81h-2.73zM103.4 80h2.73v1.81h-2.73zM115.6 80h2.73v1.81h-2.73zM130.2 86h2.73v1.81h-2.73zM118 87.6h2.73v1.81h-2.73zM103.4 89.1h2.73v1.81h-2.73zM135 92.1h2.73v1.81h-2.73zM142.3 92.1h2.73v1.81h-2.73zM144.8 92.1h2.73v1.81h-2.73zM103.4 93.6h2.73v1.81h-2.73zM105.9 93.6h2.73v1.81h-2.73zM115.6 93.6h2.73v1.81h-2.73zM118 95.1h2.73v1.81h-2.73zM120.4 95.1h2.73v1.81h-2.73zM137.5 95.1h2.73v1.81h-2.73zM147.2 95.1h2.73v1.81h-2.73zM132.6 96.7h2.73v1.81h-2.73zM103.4 98.2h2.73v1.81h-2.73zM108.3 98.2h2.73v1.81h-2.73zM103.4 99.7h2.73v1.81h-2.73zM105.9 99.7h2.73v1.81h-2.73zM110.7 99.7h2.73v1.81h-2.73zM113.2 99.7h2.73v1.81h-2.73zM127.7 102.7h2.73v1.81h-2.73zM130.2 102.7h2.73v1.81h-2.73zM142.3 102.7h2.73v1.81h-2.73zM161.8 102.7h2.73v1.81h-2.73zM125.3 104.2h2.73v1.81h-2.73zM149.6 104.2h2.73v1.81h-2.73zM125.3 105.7h2.73v1.81h-2.73zM130.2 105.7h2.73v1.81h-2.73zM135 105.7h2.73v1.81h-2.73zM159.3 105.7h2.73v1.81h-2.73zM154.5 107.3h2.73v1.81h-2.73zM156.9 107.3h2.73v1.81h-2.73zM152 108.8h2.73v1.81h-2.73zM156.9 108.8h2.73v1.81h-2.73zM161.8 108.8h2.73v1.81h-2.73zM105.9 111.8h2.73v1.81h-2.73zM108.3 111.8h2.73v1.81h-2.73zM110.7 111.8h2.73v1.81h-2.73zM115.6 111.8h2.73v1.81h-2.73zM127.7 111.8h2.73v1.81h-2.73zM152 111.8h2.73v1.81h-2.73zM154.5 111.8h2.73v1.81h-2.73zM135 113.3h2.73v1.81h-2.73zM144.8 113.3h2.73v1.81h-2.73zM125.3 120.9h2.73v1.81h-2.73zM156.9 120.9h2.73v1.81h-2.73zM120.4 122.4h2.73v1.81h-2.73zM156.9 122.4h2.73v1.81h-2.73zM125.3 123.9h2.73v1.81h-2.73zM149.6 123.9h2.73v1.81h-2.73zM159.3 123.9h2.73v1.81h-2.73zM137.5 125.4h2.73v1.81h-2.73zM159.3 126.9h2.73v1.81h-2.73zM120.4 128.5h2.73v1.81h-2.73zM125.3 128.5h2.73v1.81h-2.73zM154.5 128.5h2.73v1.81h-2.73zM156.9 128.5h2.73v1.81h-2.73zM115.6 130h2.73v1.81h-2.73zM147.2 131.5h2.73v1.81h-2.73zM115.6 133h2.73v1.81h-2.73zM127.7 133h2.73v1.81h-2.73zM154.5 133h2.73v1.81h-2.73zM144.8 137.5h2.73v1.81h-2.73zM147.2 137.5h2.73v1.81h-2.73zM161.8 137.5h2.73v1.81h-2.73zM127.7 139.1h2.73v1.81h-2.73zM142.3 139.1h2.73v1.81h-2.73zM152 139.1h2.73v1.81h-2.73zM159.3 139.1h2.73v1.81h-2.73zM125.3 140.6h2.73v1.81h-2.73zM127.7 140.6h2.73v1.81h-2.73zM130.2 140.6h2.73v1.81h-2.73zM135 140.6h2.73v1.81h-2.73zM137.5 140.6h2.73v1.81h-2.73zM135 142.1h2.73v1.81h-2.73zM144.8 142.1h2.73v1.81h-2.73zM149.6 142.1h2.73v1.81h-2.73zM154.5 142.1h2.73v1.81h-2.73zM127.7 143.6h2.73v1.81h-2.73zM144.8 145.1h2.73v1.81h-2.73zM159.3 145.1h2.73v1.81h-2.73zM122.9 146.6h2.73v1.81h-2.73zM144.8 152.7h2.73v1.81h-2.73zM161.8 152.7h2.73v1.81h-2.73zM120.4 154.2h2.73v1.81h-2.73zM122.9 154.2h2.73v1.81h-2.73zM144.8 155.7h2.73v1.81h-2.73zM152 155.7h2.73v1.81h-2.73zM125.3 158.8h2.73v1.81h-2.73zM113.2 161.8h2.73v1.81h-2.73zM139.9 161.8h2.73v1.81h-2.73zM147.2 161.8h2.73v1.81h-2.73z"/><path fill="#140001" d="M154.5 30h2.73v1.81h-2.73zM159.3 30h2.73v1.81h-2.73zM154.5 37.6h2.73v1.81h-2.73zM161.8 37.6h2.73v1.81h-2.73zM161.8 39.1h2.73v1.81h-2.73zM135 40.6h2.73v1.81h-2.73zM154.5 42.1h2.73v1.81h-2.73zM127.7 46.7h2.73v1.81h-2.73zM115.6 49.7h2.73v1.81h-2.73zM118 49.7h2.73v1.81h-2.73zM120.4 49.7h2.73v1.81h-2.73zM130.2 49.7h2.73v1.81h-2.73zM161.8 49.7h2.73v1.81h-2.73zM103.4 51.2h2.73v1.81h-2.73zM137.5 57.3h2.73v1.81h-2.73zM149.6 60.3h2.73v1.81h-2.73zM159.3 60.3h2.73v1.81h-2.73zM110.7 61.8h2.73v1.81h-2.73zM113.2 61.8h2.73v1.81h-2.73zM132.6 67.9h2.73v1.81h-2.73zM135 69.4h2.73v1.81h-2.73zM144.8 69.4h2.73v1.81h-2.73zM105.9 70.9h2.73v1.81h-2.73zM137.5 72.4h2.73v1.81h-2.73zM142.3 72.4h2.73v1.81h-2.73zM154.5 72.4h2.73v1.81h-2.73zM161.8 75.4h2.73v1.81h-2.73zM127.7 78.5h2.73v1.81h-2.73zM161.8 78.5h2.73v1.81h-2.73zM118 81.5h2.73v1.81h-2.73zM130.2 81.5h2.73v1.81h-2.73zM135 81.5h2.73v1.81h-2.73zM152 81.5h2.73v1.81h-2.73zM130.2 87.6h2.73v1.81h-2.73zM152 96.7h2.73v1.81h-2.73zM101 99.7h2.73v1.81h-2.73zM115.6 99.7h2.73v1.81h-2.73zM149.6 102.7h2.73v1.81h-2.73zM159.3 102.7h2.73v1.81h-2.73zM149.6 105.7h2.73v1.81h-2.73zM130.2 108.8h2.73v1.81h-2.73zM142.3 108.8h2.73v1.81h-2.73zM120.4 113.3h2.73v1.81h-2.73zM130.2 113.3h2.73v1.81h-2.73zM139.9 113.3h2.73v1.81h-2.73zM113.2 114.8h2.73v1.81h-2.73zM152 114.8h2.73v1.81h-2.73zM113.2 116.3h2.73v1.81h-2.73zM132.6 120.9h2.73v1.81h-2.73zM115.6 122.4h2.73v1.81h-2.73zM115.6 123.9h2.73v1.81h-2.73zM127.7 123.9h2.73v1.81h-2.73zM132.6 123.9h2.73v1.81h-2.73zM152 123.9h2.73v1.81h-2.73zM161.8 123.9h2.73v1.81h-2.73zM125.3 126.9h2.73v1.81h-2.73zM103.4 128.5h2.73v1.81h-2.73zM139.9 140.6h2.73v1.81h-2.73zM147.2 140.6h2.73v1.81h-2.73zM159.3 142.1h2.73v1.81h-2.73zM115.6 145.1h2.73v1.81h-2.73zM105.9 151.2h2.73v1.81h-2.73zM110.7 151.2h2.73v1.81h-2.73zM105.9 154.2h2.73v1.81h-2.73zM115.6 155.7h2.73v1.81h-2.73zM130.2 155.7h2.73v1.81h-2.73zM139.9 155.7h2.73v1.81h-2.73zM159.3 155.7h2.73v1.81h-2.73zM144.8 157.2h2.73v1.81h-2.73zM147.2 157.2h2.73v1.81h-2.73zM154.5 157.2h2.73v1.81h-2.73zM139.9 158.8h2.73v1.81h-2.73zM125.3 160.3h2.73v1.81h-2.73zM142.3 160.3h2.73v1.81h-2.73zM147.2 160.3h2.73v1.81h-2.73zM154.5 160.3h2.73v1.81h-2.73zM154.5 161.8h2.73v1.81h-2.73z"/><path fill="#000000" d="M156.9 30h2.73v1.81h-2.73zM154.5 31.5h2.73v1.81h-2.73zM149.6 33h2.73v1.81h-2.73zM161.8 33h2.73v1.81h-2.73zM154.5 34.5h2.73v1.81h-2.73zM156.9 36.1h2.73v1.81h-2.73zM159.3 36.1h2.73v1.81h-2.73zM152 37.6h2.73v1.81h-2.73zM152 39.1h2.73v1.81h-2.73zM115.6 40.6h2.73v1.81h-2.73zM154.5 43.6h2.73v1.81h-2.73zM152 46.7h2.73v1.81h-2.73zM159.3 46.7h2.73v1.81h-2.73zM101 49.7h2.73v1.81h-2.73zM105.9 49.7h2.73v1.81h-2.73zM113.2 49.7h2.73v1.81h-2.73zM132.6 49.7h2.73v1.81h-2.73zM152 49.7h2.73v1.81h-2.73zM105.9 51.2h2.73v1.81h-2.73zM110.7 51.2h2.73v1.81h-2.73zM101 52.7h2.73v1.81h-2.73zM108.3 52.7h2.73v1.81h-2.73zM130.2 55.8h2.73v1.81h-2.73zM132.6 55.8h2.73v1.81h-2.73zM149.6 55.8h2.73v1.81h-2.73zM147.2 57.3h2.73v1.81h-2.73zM118 58.8h2.73v1.81h-2.73zM139.9 60.3h2.73v1.81h-2.73zM142.3 60.3h2.73v1.81h-2.73zM147.2 60.3h2.73v1.81h-2.73zM156.9 60.3h2.73v1.81h-2.73zM110.7 63.3h2.73v1.81h-2.73zM110.7 64.8h2.73v1.81h-2.73zM120.4 67.9h2.73v1.81h-2.73zM122.9 67.9h2.73v1.81h-2.73zM125.3 67.9h2.73v1.81h-2.73zM135 67.9h2.73v1.81h-2.73zM144.8 67.9h2.73v1.81h-2.73zM122.9 69.4h2.73v1.81h-2.73zM137.5 69.4h2.73v1.81h-2.73zM142.3 69.4h2.73v1.81h-2.73zM103.4 70.9h2.73v1.81h-2.73zM110.7 70.9h2.73v1.81h-2.73zM127.7 72.4h2.73v1.81h-2.73zM152 72.4h2.73v1.81h-2.73zM159.3 72.4h2.73v1.81h-2.73zM130.2 75.4h2.73v1.81h-2.73zM139.9 75.4h2.73v1.81h-2.73zM142.3 75.4h2.73v1.81h-2.73zM122.9 78.5h2.73v1.81h-2.73zM125.3 81.5h2.73v1.81h-2.73zM147.2 81.5h2.73v1.81h-2.73zM120.4 87.6h2.73v1.81h-2.73zM127.7 87.6h2.73v1.81h-2.73zM132.6 87.6h2.73v1.81h-2.73zM127.7 92.1h2.73v1.81h-2.73zM154.5 93.6h2.73v1.81h-2.73zM101 98.2h2.73v1.81h-2.73zM108.3 99.7h2.73v1.81h-2.73zM132.6 105.7h2.73v1.81h-2.73zM154.5 105.7h2.73v1.81h-2.73zM156.9 105.7h2.73v1.81h-2.73zM132.6 107.3h2.73v1.81h-2.73zM132.6 108.8h2.73v1.81h-2.73zM135 108.8h2.73v1.81h-2.73zM144.8 108.8h2.73v1.81h-2.73zM137.5 113.3h2.73v1.81h-2.73zM115.6 114.8h2.73v1.81h-2.73zM110.7 119.4h2.73v1.81h-2.73zM118 120.9h2.73v1.81h-2.73zM120.4 120.9h2.73v1.81h-2.73zM135 120.9h2.73v1.81h-2.73zM122.9 122.4h2.73v1.81h-2.73zM132.6 122.4h2.73v1.81h-2.73zM130.2 123.9h2.73v1.81h-2.73zM137.5 123.9h2.73v1.81h-2.73zM147.2 128.5h2.73v1.81h-2.73zM159.3 128.5h2.73v1.81h-2.73zM149.6 133h2.73v1.81h-2.73zM118 139.1h2.73v1.81h-2.73zM159.3 140.6h2.73v1.81h-2.73zM113.2 142.1h2.73v1.81h-2.73zM115.6 142.1h2.73v1.81h-2.73zM130.2 142.1h2.73v1.81h-2.73zM147.2 142.1h2.73v1.81h-2.73zM113.2 143.6h2.73v1.81h-2.73zM132.6 143.6h2.73v1.81h-2.73zM135 143.6h2.73v1.81h-2.73zM147.2 143.6h2.73v1.81h-2.73zM154.5 143.6h2.73v1.81h-2.73zM127.7 145.1h2.73v1.81h-2.73zM132.6 145.1h2.73v1.81h-2.73zM135 145.1h2.73v1.81h-2.73zM120.4 146.6h2.73v1.81h-2.73zM125.3 146.6h2.73v1.81h-2.73zM105.9 148.2h2.73v1.81h-2.73zM110.7 149.7h2.73v1.81h-2.73zM101 152.7h2.73v1.81h-2.73zM127.7 152.7h2.73v1.81h-2.73zM113.2 155.7h2.73v1.81h-2.73zM120.4 155.7h2.73v1.81h-2.73zM127.7 155.7h2.73v1.81h-2.73zM135 155.7h2.73v1.81h-2.73zM137.5 155.7h2.73v1.81h-2.73zM130.2 157.2h2.73v1.81h-2.73zM149.6 157.2h2.73v1.81h-2.73zM161.8 160.3h2.73v1.81h-2.73zM118 161.8h2.73v1.81h-2.73zM144.8 161.8h2.73v1.81h-2.73zM149.6 161.8h2.73v1.81h-2.73zM156.9 161.8h2.73v1.81h-2.73zM161.8 161.8h2.73v1.81h-2.73z"/><path fill="#023506" d="M118 31.5h2.73v1.81h-2.73zM120.4 31.5h2.73v1.81h-2.73zM130.2 31.5h2.73v1.81h-2.73zM137.5 31.5h2.73v1.81h-2.73zM144.8 31.5h2.73v1.81h-2.73zM118 33h2.73v1.81h-2.73zM127.7 33h2.73v1.81h-2.73zM132.6 33h2.73v1.81h-2.73zM135 33h2.73v1.81h-2.73zM147.2 33h2.73v1.81h-2.73zM132.6 37.6h2.73v1.81h-2.73zM132.6 40.6h2.73v1.81h-2.73zM132.6 42.1h2.73v1.81h-2.73zM115.6 45.1h2.73v1.81h-2.73zM142.3 45.1h2.73v1.81h-2.73zM130.2 46.7h2.73v1.81h-2.73zM135 46.7h2.73v1.81h-2.73zM147.2 46.7h2.73v1.81h-2.73zM101 48.2h2.73v1.81h-2.73zM113.2 48.2h2.73v1.81h-2.73zM137.5 48.2h2.73v1.81h-2.73zM142.3 48.2h2.73v1.81h-2.73zM139.9 55.8h2.73v1.81h-2.73zM118 57.3h2.73v1.81h-2.73zM130.2 57.3h2.73v1.81h-2.73zM132.6 57.3h2.73v1.81h-2.73zM139.9 57.3h2.73v1.81h-2.73zM144.8 57.3h2.73v1.81h-2.73zM156.9 57.3h2.73v1.81h-2.73zM113.2 58.8h2.73v1.81h-2.73zM115.6 58.8h2.73v1.81h-2.73zM122.9 58.8h2.73v1.81h-2.73zM115.6 60.3h2.73v1.81h-2.73zM113.2 63.3h2.73v1.81h-2.73zM130.2 67.9h2.73v1.81h-2.73zM139.9 67.9h2.73v1.81h-2.73zM113.2 69.4h2.73v1.81h-2.73zM125.3 69.4h2.73v1.81h-2.73zM132.6 69.4h2.73v1.81h-2.73zM139.9 69.4h2.73v1.81h-2.73zM103.4 75.4h2.73v1.81h-2.73zM105.9 75.4h2.73v1.81h-2.73zM105.9 80h2.73v1.81h-2.73zM137.5 87.6h2.73v1.81h-2.73zM118 90.6h2.73v1.81h-2.73zM122.9 90.6h2.73v1.81h-2.73zM144.8 90.6h2.73v1.81h-2.73zM118 92.1h2.73v1.81h-2.73zM137.5 92.1h2.73v1.81h-2.73zM139.9 92.1h2.73v1.81h-2.73zM108.3 93.6h2.73v1.81h-2.73zM113.2 93.6h2.73v1.81h-2.73zM127.7 93.6h2.73v1.81h-2.73zM147.2 93.6h2.73v1.81h-2.73zM125.3 95.1h2.73v1.81h-2.73zM142.3 95.1h2.73v1.81h-2.73zM144.8 95.1h2.73v1.81h-2.73zM127.7 96.7h2.73v1.81h-2.73zM144.8 96.7h2.73v1.81h-2.73zM108.3 101.2h2.73v1.81h-2.73zM115.6 101.2h2.73v1.81h-2.73zM103.4 102.7h2.73v1.81h-2.73zM105.9 102.7h2.73v1.81h-2.73zM110.7 102.7h2.73v1.81h-2.73zM125.3 102.7h2.73v1.81h-2.73zM139.9 102.7h2.73v1.81h-2.73zM132.6 104.2h2.73v1.81h-2.73zM161.8 104.2h2.73v1.81h-2.73zM105.9 105.7h2.73v1.81h-2.73zM142.3 105.7h2.73v1.81h-2.73zM127.7 108.8h2.73v1.81h-2.73zM139.9 108.8h2.73v1.81h-2.73zM159.3 108.8h2.73v1.81h-2.73zM101 110.3h2.73v1.81h-2.73zM101 111.8h2.73v1.81h-2.73zM115.6 113.3h2.73v1.81h-2.73zM142.3 113.3h2.73v1.81h-2.73zM152 113.3h2.73v1.81h-2.73zM130.2 120.9h2.73v1.81h-2.73zM144.8 120.9h2.73v1.81h-2.73zM149.6 120.9h2.73v1.81h-2.73zM152 120.9h2.73v1.81h-2.73zM130.2 122.4h2.73v1.81h-2.73zM135 122.4h2.73v1.81h-2.73zM142.3 122.4h2.73v1.81h-2.73zM154.5 122.4h2.73v1.81h-2.73zM132.6 125.4h2.73v1.81h-2.73zM149.6 125.4h2.73v1.81h-2.73zM113.2 126.9h2.73v1.81h-2.73zM132.6 126.9h2.73v1.81h-2.73zM137.5 126.9h2.73v1.81h-2.73zM156.9 126.9h2.73v1.81h-2.73zM113.2 128.5h2.73v1.81h-2.73zM115.6 128.5h2.73v1.81h-2.73zM144.8 128.5h2.73v1.81h-2.73zM149.6 128.5h2.73v1.81h-2.73zM127.7 131.5h2.73v1.81h-2.73zM137.5 133h2.73v1.81h-2.73zM147.2 133h2.73v1.81h-2.73zM156.9 133h2.73v1.81h-2.73zM118 136h2.73v1.81h-2.73zM122.9 136h2.73v1.81h-2.73zM132.6 136h2.73v1.81h-2.73zM135 137.5h2.73v1.81h-2.73zM120.4 139.1h2.73v1.81h-2.73zM122.9 139.1h2.73v1.81h-2.73zM137.5 139.1h2.73v1.81h-2.73zM154.5 139.1h2.73v1.81h-2.73zM161.8 139.1h2.73v1.81h-2.73zM149.6 140.6h2.73v1.81h-2.73zM156.9 140.6h2.73v1.81h-2.73zM125.3 142.1h2.73v1.81h-2.73zM132.6 142.1h2.73v1.81h-2.73zM139.9 142.1h2.73v1.81h-2.73zM115.6 143.6h2.73v1.81h-2.73zM130.2 143.6h2.73v1.81h-2.73zM144.8 143.6h2.73v1.81h-2.73zM125.3 145.1h2.73v1.81h-2.73zM154.5 145.1h2.73v1.81h-2.73zM156.9 145.1h2.73v1.81h-2.73zM127.7 146.6h2.73v1.81h-2.73zM135 146.6h2.73v1.81h-2.73zM137.5 146.6h2.73v1.81h-2.73zM147.2 146.6h2.73v1.81h-2.73zM108.3 148.2h2.73v1.81h-2.73zM118 152.7h2.73v1.81h-2.73zM120.4 152.7h2.73v1.81h-2.73zM154.5 152.7h2.73v1.81h-2.73zM159.3 152.7h2.73v1.81h-2.73zM113.2 154.2h2.73v1.81h-2.73zM125.3 154.2h2.73v1.81h-2.73zM130.2 154.2h2.73v1.81h-2.73zM156.9 154.2h2.73v1.81h-2.73zM159.3 154.2h2.73v1.81h-2.73zM130.2 161.8h2.73v1.81h-2.73zM142.3 161.8h2.73v1.81h-2.73zM159.3 161.8h2.73v1.81h-2.73z"/><path fill="#290002" d="M135 31.5h2.73v1.81h-2.73zM152 34.5h2.73v1.81h-2.73zM159.3 34.5h2.73v1.81h-2.73zM161.8 34.5h2.73v1.81h-2.73zM152 36.1h2.73v1.81h-2.73zM154.5 36.1h2.73v1.81h-2.73zM159.3 42.1h2.73v1.81h-2.73zM154.5 45.1h2.73v1.81h-2.73zM154.5 46.7h2.73v1.81h-2.73zM156.9 46.7h2.73v1.81h-2.73zM161.8 46.7h2.73v1.81h-2.73zM149.6 48.2h2.73v1.81h-2.73zM125.3 49.7h2.73v1.81h-2.73zM137.5 49.7h2.73v1.81h-2.73zM147.2 49.7h2.73v1.81h-2.73zM159.3 49.7h2.73v1.81h-2.73zM110.7 52.7h2.73v1.81h-2.73zM122.9 55.8h2.73v1.81h-2.73zM101 60.3h2.73v1.81h-2.73zM132.6 60.3h2.73v1.81h-2.73zM137.5 60.3h2.73v1.81h-2.73zM110.7 66.4h2.73v1.81h-2.73zM127.7 67.9h2.73v1.81h-2.73zM142.3 67.9h2.73v1.81h-2.73zM120.4 69.4h2.73v1.81h-2.73zM152 69.4h2.73v1.81h-2.73zM156.9 72.4h2.73v1.81h-2.73zM120.4 75.4h2.73v1.81h-2.73zM137.5 75.4h2.73v1.81h-2.73zM149.6 75.4h2.73v1.81h-2.73zM132.6 77h2.73v1.81h-2.73zM118 78.5h2.73v1.81h-2.73zM135 78.5h2.73v1.81h-2.73zM139.9 78.5h2.73v1.81h-2.73zM147.2 78.5h2.73v1.81h-2.73zM152 78.5h2.73v1.81h-2.73zM161.8 81.5h2.73v1.81h-2.73zM137.5 83h2.73v1.81h-2.73zM139.9 83h2.73v1.81h-2.73zM149.6 89.1h2.73v1.81h-2.73zM156.9 89.1h2.73v1.81h-2.73zM159.3 89.1h2.73v1.81h-2.73zM135 93.6h2.73v1.81h-2.73zM147.2 102.7h2.73v1.81h-2.73zM154.5 102.7h2.73v1.81h-2.73zM127.7 113.3h2.73v1.81h-2.73zM132.6 113.3h2.73v1.81h-2.73zM154.5 113.3h2.73v1.81h-2.73zM156.9 113.3h2.73v1.81h-2.73zM122.9 114.8h2.73v1.81h-2.73zM118 116.3h2.73v1.81h-2.73zM125.3 116.3h2.73v1.81h-2.73zM139.9 116.3h2.73v1.81h-2.73zM147.2 116.3h2.73v1.81h-2.73zM156.9 123.9h2.73v1.81h-2.73zM108.3 136h2.73v1.81h-2.73zM110.7 137.5h2.73v1.81h-2.73zM132.6 140.6h2.73v1.81h-2.73zM147.2 145.1h2.73v1.81h-2.73zM149.6 145.1h2.73v1.81h-2.73zM108.3 151.2h2.73v1.81h-2.73zM118 155.7h2.73v1.81h-2.73zM147.2 155.7h2.73v1.81h-2.73zM154.5 155.7h2.73v1.81h-2.73zM115.6 157.2h2.73v1.81h-2.73zM137.5 157.2h2.73v1.81h-2.73zM139.9 157.2h2.73v1.81h-2.73zM142.3 157.2h2.73v1.81h-2.73zM152 157.2h2.73v1.81h-2.73zM113.2 158.8h2.73v1.81h-2.73zM118 158.8h2.73v1.81h-2.73zM137.5 158.8h2.73v1.81h-2.73zM142.3 158.8h2.73v1.81h-2.73zM154.5 158.8h2.73v1.81h-2.73zM161.8 158.8h2.73v1.81h-2.73zM115.6 160.3h2.73v1.81h-2.73zM118 160.3h2.73v1.81h-2.73zM120.4 161.8h2.73v1.81h-2.73z"/><path fill="#3e0003" d="M152 31.5h2.73v1.81h-2.73zM161.8 31.5h2.73v1.81h-2.73zM156.9 33h2.73v1.81h-2.73zM156.9 37.6h2.73v1.81h-2.73zM156.9 39.1h2.73v1.81h-2.73zM159.3 39.1h2.73v1.81h-2.73zM159.3 40.6h2.73v1.81h-2.73zM152 45.1h2.73v1.81h-2.73zM156.9 45.1h2.73v1.81h-2.73zM159.3 45.1h2.73v1.81h-2.73zM132.6 46.7h2.73v1.81h-2.73zM103.4 49.7h2.73v1.81h-2.73zM135 49.7h2.73v1.81h-2.73zM139.9 49.7h2.73v1.81h-2.73zM154.5 49.7h2.73v1.81h-2.73zM156.9 49.7h2.73v1.81h-2.73zM101 55.8h2.73v1.81h-2.73zM144.8 55.8h2.73v1.81h-2.73zM122.9 60.3h2.73v1.81h-2.73zM149.6 67.9h2.73v1.81h-2.73zM127.7 69.4h2.73v1.81h-2.73zM132.6 72.4h2.73v1.81h-2.73zM135 72.4h2.73v1.81h-2.73zM147.2 72.4h2.73v1.81h-2.73zM161.8 72.4h2.73v1.81h-2.73zM142.3 73.9h2.73v1.81h-2.73zM125.3 75.4h2.73v1.81h-2.73zM147.2 75.4h2.73v1.81h-2.73zM139.9 77h2.73v1.81h-2.73zM149.6 77h2.73v1.81h-2.73zM152 77h2.73v1.81h-2.73zM154.5 77h2.73v1.81h-2.73zM149.6 78.5h2.73v1.81h-2.73zM156.9 78.5h2.73v1.81h-2.73zM139.9 80h2.73v1.81h-2.73zM159.3 80h2.73v1.81h-2.73zM120.4 81.5h2.73v1.81h-2.73zM127.7 81.5h2.73v1.81h-2.73zM139.9 81.5h2.73v1.81h-2.73zM156.9 81.5h2.73v1.81h-2.73zM159.3 81.5h2.73v1.81h-2.73zM149.6 83h2.73v1.81h-2.73zM161.8 87.6h2.73v1.81h-2.73zM154.5 89.1h2.73v1.81h-2.73zM149.6 90.6h2.73v1.81h-2.73zM152 93.6h2.73v1.81h-2.73zM159.3 93.6h2.73v1.81h-2.73zM132.6 102.7h2.73v1.81h-2.73zM152 102.7h2.73v1.81h-2.73zM122.9 104.2h2.73v1.81h-2.73zM118 107.3h2.73v1.81h-2.73zM122.9 107.3h2.73v1.81h-2.73zM125.3 113.3h2.73v1.81h-2.73zM159.3 113.3h2.73v1.81h-2.73zM120.4 114.8h2.73v1.81h-2.73zM125.3 114.8h2.73v1.81h-2.73zM130.2 114.8h2.73v1.81h-2.73zM137.5 114.8h2.73v1.81h-2.73zM147.2 114.8h2.73v1.81h-2.73zM161.8 114.8h2.73v1.81h-2.73zM144.8 116.3h2.73v1.81h-2.73zM156.9 116.3h2.73v1.81h-2.73zM161.8 116.3h2.73v1.81h-2.73zM105.9 122.4h2.73v1.81h-2.73zM110.7 122.4h2.73v1.81h-2.73zM108.3 125.4h2.73v1.81h-2.73zM149.6 126.9h2.73v1.81h-2.73zM118 128.5h2.73v1.81h-2.73zM105.9 134.5h2.73v1.81h-2.73zM110.7 134.5h2.73v1.81h-2.73zM108.3 137.5h2.73v1.81h-2.73zM110.7 139.1h2.73v1.81h-2.73zM101 151.2h2.73v1.81h-2.73zM105.9 152.7h2.73v1.81h-2.73zM103.4 154.2h2.73v1.81h-2.73zM125.3 155.7h2.73v1.81h-2.73zM132.6 155.7h2.73v1.81h-2.73zM149.6 155.7h2.73v1.81h-2.73zM118 157.2h2.73v1.81h-2.73zM127.7 157.2h2.73v1.81h-2.73zM132.6 157.2h2.73v1.81h-2.73zM122.9 158.8h2.73v1.81h-2.73zM130.2 158.8h2.73v1.81h-2.73zM139.9 160.3h2.73v1.81h-2.73zM125.3 161.8h2.73v1.81h-2.73zM152 161.8h2.73v1.81h-2.73z"/><path fill="#d0000a" d="M156.9 31.5h2.73v1.81h-2.73zM120.4 51.2h2.73v1.81h-2.73zM144.8 51.2h2.73v1.81h-2.73zM156.9 51.2h2.73v1.81h-2.73zM132.6 52.7h2.73v1.81h-2.73zM147.2 52.7h2.73v1.81h-2.73zM154.5 52.7h2.73v1.81h-2.73zM159.3 52.7h2.73v1.81h-2.73zM110.7 54.2h2.73v1.81h-2.73zM113.2 54.2h2.73v1.81h-2.73zM115.6 54.2h2.73v1.81h-2.73zM118 54.2h2.73v1.81h-2.73zM120.4 54.2h2.73v1.81h-2.73zM122.9 54.2h2.73v1.81h-2.73zM125.3 54.2h2.73v1.81h-2.73zM127.7 54.2h2.73v1.81h-2.73zM130.2 54.2h2.73v1.81h-2.73zM132.6 54.2h2.73v1.81h-2.73zM135 54.2h2.73v1.81h-2.73zM137.5 54.2h2.73v1.81h-2.73zM139.9 54.2h2.73v1.81h-2.73zM142.3 54.2h2.73v1.81h-2.73zM144.8 54.2h2.73v1.81h-2.73zM147.2 54.2h2.73v1.81h-2.73zM149.6 54.2h2.73v1.81h-2.73zM152 54.2h2.73v1.81h-2.73zM154.5 54.2h2.73v1.81h-2.73zM156.9 54.2h2.73v1.81h-2.73zM159.3 54.2h2.73v1.81h-2.73zM161.8 54.2h2.73v1.81h-2.73zM101 61.8h2.73v1.81h-2.73zM103.4 61.8h2.73v1.81h-2.73zM118 61.8h2.73v1.81h-2.73zM122.9 61.8h2.73v1.81h-2.73zM130.2 61.8h2.73v1.81h-2.73zM135 61.8h2.73v1.81h-2.73zM147.2 61.8h2.73v1.81h-2.73zM149.6 61.8h2.73v1.81h-2.73zM156.9 61.8h2.73v1.81h-2.73zM103.4 63.3h2.73v1.81h-2.73zM108.3 63.3h2.73v1.81h-2.73zM120.4 63.3h2.73v1.81h-2.73zM122.9 63.3h2.73v1.81h-2.73zM130.2 63.3h2.73v1.81h-2.73zM101 64.8h2.73v1.81h-2.73zM103.4 64.8h2.73v1.81h-2.73zM105.9 64.8h2.73v1.81h-2.73zM108.3 64.8h2.73v1.81h-2.73zM118 64.8h2.73v1.81h-2.73zM127.7 64.8h2.73v1.81h-2.73zM130.2 64.8h2.73v1.81h-2.73zM144.8 64.8h2.73v1.81h-2.73zM149.6 64.8h2.73v1.81h-2.73zM154.5 64.8h2.73v1.81h-2.73zM159.3 64.8h2.73v1.81h-2.73zM101 66.4h2.73v1.81h-2.73zM118 66.4h2.73v1.81h-2.73zM127.7 66.4h2.73v1.81h-2.73zM132.6 66.4h2.73v1.81h-2.73zM137.5 66.4h2.73v1.81h-2.73zM144.8 66.4h2.73v1.81h-2.73zM147.2 66.4h2.73v1.81h-2.73zM149.6 66.4h2.73v1.81h-2.73zM154.5 66.4h2.73v1.81h-2.73zM156.9 66.4h2.73v1.81h-2.73zM159.3 67.9h2.73v1.81h-2.73zM156.9 69.4h2.73v1.81h-2.73zM120.4 73.9h2.73v1.81h-2.73zM137.5 77h2.73v1.81h-2.73zM156.9 77h2.73v1.81h-2.73zM130.2 83h2.73v1.81h-2.73zM122.9 84.5h2.73v1.81h-2.73zM130.2 84.5h2.73v1.81h-2.73zM132.6 84.5h2.73v1.81h-2.73zM137.5 84.5h2.73v1.81h-2.73zM139.9 84.5h2.73v1.81h-2.73zM152 84.5h2.73v1.81h-2.73zM118 99.7h2.73v1.81h-2.73zM125.3 99.7h2.73v1.81h-2.73zM127.7 99.7h2.73v1.81h-2.73zM135 99.7h2.73v1.81h-2.73zM137.5 99.7h2.73v1.81h-2.73zM144.8 99.7h2.73v1.81h-2.73zM149.6 99.7h2.73v1.81h-2.73zM156.9 99.7h2.73v1.81h-2.73zM159.3 99.7h2.73v1.81h-2.73zM118 102.7h2.73v1.81h-2.73zM120.4 102.7h2.73v1.81h-2.73zM122.9 102.7h2.73v1.81h-2.73zM101 114.8h2.73v1.81h-2.73zM105.9 114.8h2.73v1.81h-2.73zM103.4 116.3h2.73v1.81h-2.73zM105.9 116.3h2.73v1.81h-2.73zM101 117.9h2.73v1.81h-2.73zM103.4 120.9h2.73v1.81h-2.73zM101 123.9h2.73v1.81h-2.73zM103.4 123.9h2.73v1.81h-2.73zM105.9 123.9h2.73v1.81h-2.73zM118 123.9h2.73v1.81h-2.73zM120.4 123.9h2.73v1.81h-2.73zM103.4 125.4h2.73v1.81h-2.73zM105.9 126.9h2.73v1.81h-2.73zM118 126.9h2.73v1.81h-2.73zM101 130h2.73v1.81h-2.73zM101 133h2.73v1.81h-2.73zM103.4 133h2.73v1.81h-2.73zM120.4 134.5h2.73v1.81h-2.73zM108.3 140.6h2.73v1.81h-2.73zM120.4 140.6h2.73v1.81h-2.73zM122.9 140.6h2.73v1.81h-2.73zM118 142.1h2.73v1.81h-2.73zM105.9 143.6h2.73v1.81h-2.73zM120.4 143.6h2.73v1.81h-2.73zM122.9 143.6h2.73v1.81h-2.73zM118 145.1h2.73v1.81h-2.73zM122.9 145.1h2.73v1.81h-2.73zM103.4 158.8h2.73v1.81h-2.73zM108.3 158.8h2.73v1.81h-2.73zM110.7 158.8h2.73v1.81h-2.73zM103.4 160.3h2.73v1.81h-2.73zM105.9 160.3h2.73v1.81h-2.73zM108.3 161.8h2.73v1.81h-2.73z"/><path fill="#680005" d="M159.3 31.5h2.73v1.81h-2.73zM159.3 37.6h2.73v1.81h-2.73zM154.5 40.6h2.73v1.81h-2.73zM154.5 48.2h2.73v1.81h-2.73zM156.9 48.2h2.73v1.81h-2.73zM161.8 48.2h2.73v1.81h-2.73zM101 51.2h2.73v1.81h-2.73zM108.3 51.2h2.73v1.81h-2.73zM108.3 54.2h2.73v1.81h-2.73zM161.8 64.8h2.73v1.81h-2.73zM152 67.9h2.73v1.81h-2.73zM154.5 67.9h2.73v1.81h-2.73zM118 70.9h2.73v1.81h-2.73zM132.6 70.9h2.73v1.81h-2.73zM142.3 70.9h2.73v1.81h-2.73zM147.2 70.9h2.73v1.81h-2.73zM152 70.9h2.73v1.81h-2.73zM159.3 70.9h2.73v1.81h-2.73zM118 73.9h2.73v1.81h-2.73zM122.9 75.4h2.73v1.81h-2.73zM132.6 75.4h2.73v1.81h-2.73zM144.8 75.4h2.73v1.81h-2.73zM152 75.4h2.73v1.81h-2.73zM156.9 75.4h2.73v1.81h-2.73zM130.2 78.5h2.73v1.81h-2.73zM142.3 78.5h2.73v1.81h-2.73zM118 80h2.73v1.81h-2.73zM132.6 80h2.73v1.81h-2.73zM135 80h2.73v1.81h-2.73zM137.5 80h2.73v1.81h-2.73zM144.8 80h2.73v1.81h-2.73zM147.2 80h2.73v1.81h-2.73zM156.9 80h2.73v1.81h-2.73zM161.8 80h2.73v1.81h-2.73zM149.6 81.5h2.73v1.81h-2.73zM135 83h2.73v1.81h-2.73zM103.4 84.5h2.73v1.81h-2.73zM142.3 84.5h2.73v1.81h-2.73zM161.8 84.5h2.73v1.81h-2.73zM152 86h2.73v1.81h-2.73zM159.3 86h2.73v1.81h-2.73zM154.5 92.1h2.73v1.81h-2.73zM154.5 96.7h2.73v1.81h-2.73zM156.9 96.7h2.73v1.81h-2.73zM161.8 96.7h2.73v1.81h-2.73zM147.2 98.2h2.73v1.81h-2.73zM161.8 101.2h2.73v1.81h-2.73zM118 104.2h2.73v1.81h-2.73zM120.4 105.7h2.73v1.81h-2.73zM120.4 107.3h2.73v1.81h-2.73zM118 108.8h2.73v1.81h-2.73zM122.9 108.8h2.73v1.81h-2.73zM139.9 114.8h2.73v1.81h-2.73zM142.3 114.8h2.73v1.81h-2.73zM144.8 114.8h2.73v1.81h-2.73zM149.6 114.8h2.73v1.81h-2.73zM159.3 114.8h2.73v1.81h-2.73zM120.4 116.3h2.73v1.81h-2.73zM137.5 116.3h2.73v1.81h-2.73zM152 116.3h2.73v1.81h-2.73zM154.5 116.3h2.73v1.81h-2.73zM101 119.4h2.73v1.81h-2.73zM103.4 119.4h2.73v1.81h-2.73zM105.9 120.9h2.73v1.81h-2.73zM101 125.4h2.73v1.81h-2.73zM118 125.4h2.73v1.81h-2.73zM105.9 133h2.73v1.81h-2.73zM118 134.5h2.73v1.81h-2.73zM101 136h2.73v1.81h-2.73zM110.7 136h2.73v1.81h-2.73zM105.9 137.5h2.73v1.81h-2.73zM103.4 145.1h2.73v1.81h-2.73zM105.9 145.1h2.73v1.81h-2.73zM135 152.7h2.73v1.81h-2.73zM110.7 154.2h2.73v1.81h-2.73zM156.9 155.7h2.73v1.81h-2.73zM135 157.2h2.73v1.81h-2.73zM120.4 158.8h2.73v1.81h-2.73zM144.8 158.8h2.73v1.81h-2.73zM152 158.8h2.73v1.81h-2.73zM113.2 160.3h2.73v1.81h-2.73zM122.9 160.3h2.73v1.81h-2.73zM127.7 160.3h2.73v1.81h-2.73zM130.2 160.3h2.73v1.81h-2.73zM144.8 160.3h2.73v1.81h-2.73zM149.6 160.3h2.73v1.81h-2.73zM101 161.8h2.73v1.81h-2.73zM105.9 161.8h2.73v1.81h-2.73z"/><path fill="#001102" d="M130.2 33h2.73v1.81h-2.73zM130.2 39.1h2.73v1.81h-2.73zM135 39.1h2.73v1.81h-2.73zM113.2 40.6h2.73v1.81h-2.73zM127.7 40.6h2.73v1.81h-2.73zM130.2 40.6h2.73v1.81h-2.73zM137.5 40.6h2.73v1.81h-2.73zM152 43.6h2.73v1.81h-2.73zM127.7 45.1h2.73v1.81h-2.73zM132.6 45.1h2.73v1.81h-2.73zM135 45.1h2.73v1.81h-2.73zM142.3 46.7h2.73v1.81h-2.73zM127.7 48.2h2.73v1.81h-2.73zM132.6 48.2h2.73v1.81h-2.73zM144.8 48.2h2.73v1.81h-2.73zM147.2 48.2h2.73v1.81h-2.73zM152 48.2h2.73v1.81h-2.73zM110.7 49.7h2.73v1.81h-2.73zM103.4 52.7h2.73v1.81h-2.73zM118 55.8h2.73v1.81h-2.73zM147.2 55.8h2.73v1.81h-2.73zM159.3 55.8h2.73v1.81h-2.73zM101 57.3h2.73v1.81h-2.73zM101 58.8h2.73v1.81h-2.73zM130.2 58.8h2.73v1.81h-2.73zM132.6 58.8h2.73v1.81h-2.73zM147.2 58.8h2.73v1.81h-2.73zM113.2 70.9h2.73v1.81h-2.73zM139.9 72.4h2.73v1.81h-2.73zM118 75.4h2.73v1.81h-2.73zM159.3 75.4h2.73v1.81h-2.73zM101 80h2.73v1.81h-2.73zM113.2 80h2.73v1.81h-2.73zM118 86h2.73v1.81h-2.73zM108.3 89.1h2.73v1.81h-2.73zM152 89.1h2.73v1.81h-2.73zM161.8 89.1h2.73v1.81h-2.73zM130.2 92.1h2.73v1.81h-2.73zM132.6 92.1h2.73v1.81h-2.73zM132.6 95.1h2.73v1.81h-2.73zM103.4 101.2h2.73v1.81h-2.73zM137.5 102.7h2.73v1.81h-2.73zM144.8 102.7h2.73v1.81h-2.73zM156.9 102.7h2.73v1.81h-2.73zM156.9 104.2h2.73v1.81h-2.73zM137.5 105.7h2.73v1.81h-2.73zM144.8 105.7h2.73v1.81h-2.73zM147.2 105.7h2.73v1.81h-2.73zM152 105.7h2.73v1.81h-2.73zM135 107.3h2.73v1.81h-2.73zM149.6 107.3h2.73v1.81h-2.73zM137.5 108.8h2.73v1.81h-2.73zM147.2 108.8h2.73v1.81h-2.73zM149.6 108.8h2.73v1.81h-2.73zM103.4 111.8h2.73v1.81h-2.73zM113.2 113.3h2.73v1.81h-2.73zM161.8 113.3h2.73v1.81h-2.73zM135 116.3h2.73v1.81h-2.73zM122.9 120.9h2.73v1.81h-2.73zM154.5 120.9h2.73v1.81h-2.73zM159.3 120.9h2.73v1.81h-2.73zM118 122.4h2.73v1.81h-2.73zM125.3 122.4h2.73v1.81h-2.73zM113.2 123.9h2.73v1.81h-2.73zM142.3 123.9h2.73v1.81h-2.73zM147.2 123.9h2.73v1.81h-2.73zM154.5 123.9h2.73v1.81h-2.73zM130.2 126.9h2.73v1.81h-2.73zM154.5 126.9h2.73v1.81h-2.73zM122.9 128.5h2.73v1.81h-2.73zM127.7 128.5h2.73v1.81h-2.73zM135 128.5h2.73v1.81h-2.73zM137.5 128.5h2.73v1.81h-2.73zM115.6 131.5h2.73v1.81h-2.73zM120.4 136h2.73v1.81h-2.73zM115.6 139.1h2.73v1.81h-2.73zM144.8 139.1h2.73v1.81h-2.73zM147.2 139.1h2.73v1.81h-2.73zM149.6 139.1h2.73v1.81h-2.73zM156.9 139.1h2.73v1.81h-2.73zM142.3 140.6h2.73v1.81h-2.73zM152 140.6h2.73v1.81h-2.73zM127.7 142.1h2.73v1.81h-2.73zM137.5 143.6h2.73v1.81h-2.73zM142.3 143.6h2.73v1.81h-2.73zM149.6 143.6h2.73v1.81h-2.73zM152 145.1h2.73v1.81h-2.73zM130.2 146.6h2.73v1.81h-2.73zM103.4 148.2h2.73v1.81h-2.73zM110.7 148.2h2.73v1.81h-2.73zM105.9 149.7h2.73v1.81h-2.73zM108.3 149.7h2.73v1.81h-2.73zM142.3 154.2h2.73v1.81h-2.73zM161.8 155.7h2.73v1.81h-2.73zM125.3 157.2h2.73v1.81h-2.73zM161.8 157.2h2.73v1.81h-2.73zM159.3 158.8h2.73v1.81h-2.73zM159.3 160.3h2.73v1.81h-2.73zM115.6 161.8h2.73v1.81h-2.73zM127.7 161.8h2.73v1.81h-2.73zM135 161.8h2.73v1.81h-2.73z"/><path fill="#530004" d="M152 33h2.73v1.81h-2.73zM154.5 33h2.73v1.81h-2.73zM159.3 33h2.73v1.81h-2.73zM156.9 34.5h2.73v1.81h-2.73zM152 40.6h2.73v1.81h-2.73zM156.9 40.6h2.73v1.81h-2.73zM156.9 42.1h2.73v1.81h-2.73zM161.8 45.1h2.73v1.81h-2.73zM108.3 49.7h2.73v1.81h-2.73zM127.7 49.7h2.73v1.81h-2.73zM142.3 49.7h2.73v1.81h-2.73zM149.6 49.7h2.73v1.81h-2.73zM105.9 54.2h2.73v1.81h-2.73zM115.6 55.8h2.73v1.81h-2.73zM161.8 63.3h2.73v1.81h-2.73zM149.6 69.4h2.73v1.81h-2.73zM101 70.9h2.73v1.81h-2.73zM120.4 70.9h2.73v1.81h-2.73zM137.5 70.9h2.73v1.81h-2.73zM149.6 70.9h2.73v1.81h-2.73zM118 72.4h2.73v1.81h-2.73zM122.9 72.4h2.73v1.81h-2.73zM125.3 72.4h2.73v1.81h-2.73zM130.2 72.4h2.73v1.81h-2.73zM149.6 72.4h2.73v1.81h-2.73zM139.9 73.9h2.73v1.81h-2.73zM152 73.9h2.73v1.81h-2.73zM127.7 75.4h2.73v1.81h-2.73zM154.5 75.4h2.73v1.81h-2.73zM130.2 77h2.73v1.81h-2.73zM142.3 77h2.73v1.81h-2.73zM159.3 77h2.73v1.81h-2.73zM125.3 78.5h2.73v1.81h-2.73zM144.8 78.5h2.73v1.81h-2.73zM154.5 78.5h2.73v1.81h-2.73zM130.2 80h2.73v1.81h-2.73zM142.3 80h2.73v1.81h-2.73zM152 80h2.73v1.81h-2.73zM132.6 81.5h2.73v1.81h-2.73zM142.3 81.5h2.73v1.81h-2.73zM144.8 81.5h2.73v1.81h-2.73zM154.5 81.5h2.73v1.81h-2.73zM132.6 83h2.73v1.81h-2.73zM152 83h2.73v1.81h-2.73zM105.9 84.5h2.73v1.81h-2.73zM110.7 84.5h2.73v1.81h-2.73zM113.2 84.5h2.73v1.81h-2.73zM154.5 86h2.73v1.81h-2.73zM156.9 86h2.73v1.81h-2.73zM161.8 86h2.73v1.81h-2.73zM152 90.6h2.73v1.81h-2.73zM154.5 90.6h2.73v1.81h-2.73zM161.8 90.6h2.73v1.81h-2.73zM161.8 92.1h2.73v1.81h-2.73zM149.6 93.6h2.73v1.81h-2.73zM161.8 93.6h2.73v1.81h-2.73zM159.3 95.1h2.73v1.81h-2.73zM159.3 96.7h2.73v1.81h-2.73zM135 102.7h2.73v1.81h-2.73zM120.4 104.2h2.73v1.81h-2.73zM125.3 108.8h2.73v1.81h-2.73zM118 113.3h2.73v1.81h-2.73zM122.9 113.3h2.73v1.81h-2.73zM147.2 113.3h2.73v1.81h-2.73zM149.6 113.3h2.73v1.81h-2.73zM154.5 114.8h2.73v1.81h-2.73zM156.9 114.8h2.73v1.81h-2.73zM142.3 116.3h2.73v1.81h-2.73zM149.6 116.3h2.73v1.81h-2.73zM159.3 116.3h2.73v1.81h-2.73zM105.9 125.4h2.73v1.81h-2.73zM110.7 128.5h2.73v1.81h-2.73zM110.7 130h2.73v1.81h-2.73zM110.7 131.5h2.73v1.81h-2.73zM110.7 133h2.73v1.81h-2.73zM120.4 133h2.73v1.81h-2.73zM105.9 136h2.73v1.81h-2.73zM101 139.1h2.73v1.81h-2.73zM108.3 145.1h2.73v1.81h-2.73zM101 149.7h2.73v1.81h-2.73zM122.9 155.7h2.73v1.81h-2.73zM113.2 157.2h2.73v1.81h-2.73zM120.4 157.2h2.73v1.81h-2.73zM156.9 157.2h2.73v1.81h-2.73zM159.3 157.2h2.73v1.81h-2.73zM127.7 158.8h2.73v1.81h-2.73zM135 158.8h2.73v1.81h-2.73zM147.2 158.8h2.73v1.81h-2.73zM132.6 160.3h2.73v1.81h-2.73zM135 160.3h2.73v1.81h-2.73zM137.5 160.3h2.73v1.81h-2.73zM156.9 160.3h2.73v1.81h-2.73zM110.7 161.8h2.73v1.81h-2.73z"/><path fill="#7c0006" d="M154.5 39.1h2.73v1.81h-2.73zM161.8 40.6h2.73v1.81h-2.73zM113.2 51.2h2.73v1.81h-2.73zM161.8 51.2h2.73v1.81h-2.73zM118 52.7h2.73v1.81h-2.73zM142.3 64.8h2.73v1.81h-2.73zM122.9 66.4h2.73v1.81h-2.73zM127.7 70.9h2.73v1.81h-2.73zM139.9 70.9h2.73v1.81h-2.73zM161.8 70.9h2.73v1.81h-2.73zM122.9 73.9h2.73v1.81h-2.73zM127.7 73.9h2.73v1.81h-2.73zM132.6 73.9h2.73v1.81h-2.73zM161.8 73.9h2.73v1.81h-2.73zM127.7 77h2.73v1.81h-2.73zM147.2 77h2.73v1.81h-2.73zM161.8 77h2.73v1.81h-2.73zM132.6 78.5h2.73v1.81h-2.73zM149.6 80h2.73v1.81h-2.73zM122.9 81.5h2.73v1.81h-2.73zM137.5 81.5h2.73v1.81h-2.73zM118 83h2.73v1.81h-2.73zM120.4 83h2.73v1.81h-2.73zM125.3 83h2.73v1.81h-2.73zM161.8 83h2.73v1.81h-2.73zM101 84.5h2.73v1.81h-2.73zM108.3 84.5h2.73v1.81h-2.73zM118 84.5h2.73v1.81h-2.73zM149.6 86h2.73v1.81h-2.73zM159.3 87.6h2.73v1.81h-2.73zM152 92.1h2.73v1.81h-2.73zM159.3 92.1h2.73v1.81h-2.73zM156.9 93.6h2.73v1.81h-2.73zM152 95.1h2.73v1.81h-2.73zM154.5 95.1h2.73v1.81h-2.73zM161.8 95.1h2.73v1.81h-2.73zM149.6 96.7h2.73v1.81h-2.73zM130.2 98.2h2.73v1.81h-2.73zM139.9 98.2h2.73v1.81h-2.73zM142.3 98.2h2.73v1.81h-2.73zM159.3 98.2h2.73v1.81h-2.73zM142.3 99.7h2.73v1.81h-2.73zM137.5 101.2h2.73v1.81h-2.73zM139.9 101.2h2.73v1.81h-2.73zM144.8 101.2h2.73v1.81h-2.73zM159.3 101.2h2.73v1.81h-2.73zM118 105.7h2.73v1.81h-2.73zM120.4 108.8h2.73v1.81h-2.73zM103.4 113.3h2.73v1.81h-2.73zM118 114.8h2.73v1.81h-2.73zM132.6 114.8h2.73v1.81h-2.73zM105.9 117.9h2.73v1.81h-2.73zM108.3 117.9h2.73v1.81h-2.73zM110.7 117.9h2.73v1.81h-2.73zM108.3 119.4h2.73v1.81h-2.73zM101 126.9h2.73v1.81h-2.73zM103.4 126.9h2.73v1.81h-2.73zM101 128.5h2.73v1.81h-2.73zM103.4 130h2.73v1.81h-2.73zM103.4 131.5h2.73v1.81h-2.73zM108.3 131.5h2.73v1.81h-2.73zM101 134.5h2.73v1.81h-2.73zM103.4 134.5h2.73v1.81h-2.73zM108.3 134.5h2.73v1.81h-2.73zM103.4 136h2.73v1.81h-2.73zM101 137.5h2.73v1.81h-2.73zM103.4 137.5h2.73v1.81h-2.73zM103.4 139.1h2.73v1.81h-2.73zM105.9 140.6h2.73v1.81h-2.73zM110.7 142.1h2.73v1.81h-2.73zM110.7 143.6h2.73v1.81h-2.73zM103.4 151.2h2.73v1.81h-2.73zM108.3 152.7h2.73v1.81h-2.73zM108.3 155.7h2.73v1.81h-2.73zM122.9 157.2h2.73v1.81h-2.73zM132.6 158.8h2.73v1.81h-2.73zM156.9 158.8h2.73v1.81h-2.73zM120.4 160.3h2.73v1.81h-2.73z"/><path fill="#bb0009" d="M159.3 48.2h2.73v1.81h-2.73zM115.6 51.2h2.73v1.81h-2.73zM135 51.2h2.73v1.81h-2.73zM142.3 51.2h2.73v1.81h-2.73zM147.2 51.2h2.73v1.81h-2.73zM154.5 51.2h2.73v1.81h-2.73zM120.4 52.7h2.73v1.81h-2.73zM135 52.7h2.73v1.81h-2.73zM101 54.2h2.73v1.81h-2.73zM105.9 61.8h2.73v1.81h-2.73zM120.4 61.8h2.73v1.81h-2.73zM125.3 61.8h2.73v1.81h-2.73zM139.9 61.8h2.73v1.81h-2.73zM144.8 61.8h2.73v1.81h-2.73zM154.5 61.8h2.73v1.81h-2.73zM161.8 61.8h2.73v1.81h-2.73zM105.9 63.3h2.73v1.81h-2.73zM115.6 63.3h2.73v1.81h-2.73zM125.3 63.3h2.73v1.81h-2.73zM132.6 63.3h2.73v1.81h-2.73zM139.9 63.3h2.73v1.81h-2.73zM144.8 63.3h2.73v1.81h-2.73zM154.5 63.3h2.73v1.81h-2.73zM156.9 63.3h2.73v1.81h-2.73zM115.6 64.8h2.73v1.81h-2.73zM122.9 64.8h2.73v1.81h-2.73zM132.6 64.8h2.73v1.81h-2.73zM137.5 64.8h2.73v1.81h-2.73zM103.4 66.4h2.73v1.81h-2.73zM108.3 66.4h2.73v1.81h-2.73zM120.4 66.4h2.73v1.81h-2.73zM125.3 66.4h2.73v1.81h-2.73zM130.2 66.4h2.73v1.81h-2.73zM135 66.4h2.73v1.81h-2.73zM139.9 66.4h2.73v1.81h-2.73zM142.3 66.4h2.73v1.81h-2.73zM159.3 69.4h2.73v1.81h-2.73zM161.8 69.4h2.73v1.81h-2.73zM156.9 70.9h2.73v1.81h-2.73zM144.8 72.4h2.73v1.81h-2.73zM147.2 73.9h2.73v1.81h-2.73zM149.6 73.9h2.73v1.81h-2.73zM120.4 78.5h2.73v1.81h-2.73zM147.2 83h2.73v1.81h-2.73zM154.5 83h2.73v1.81h-2.73zM127.7 84.5h2.73v1.81h-2.73zM147.2 84.5h2.73v1.81h-2.73zM154.5 84.5h2.73v1.81h-2.73zM159.3 84.5h2.73v1.81h-2.73zM152 87.6h2.73v1.81h-2.73zM149.6 92.1h2.73v1.81h-2.73zM132.6 98.2h2.73v1.81h-2.73zM156.9 98.2h2.73v1.81h-2.73zM122.9 99.7h2.73v1.81h-2.73zM147.2 99.7h2.73v1.81h-2.73zM161.8 99.7h2.73v1.81h-2.73zM118 101.2h2.73v1.81h-2.73zM127.7 101.2h2.73v1.81h-2.73zM132.6 101.2h2.73v1.81h-2.73zM149.6 101.2h2.73v1.81h-2.73zM154.5 101.2h2.73v1.81h-2.73zM103.4 114.8h2.73v1.81h-2.73zM108.3 114.8h2.73v1.81h-2.73zM108.3 116.3h2.73v1.81h-2.73zM101 122.4h2.73v1.81h-2.73zM108.3 122.4h2.73v1.81h-2.73zM122.9 123.9h2.73v1.81h-2.73zM108.3 126.9h2.73v1.81h-2.73zM105.9 128.5h2.73v1.81h-2.73zM122.9 133h2.73v1.81h-2.73zM108.3 139.1h2.73v1.81h-2.73zM110.7 140.6h2.73v1.81h-2.73zM118 140.6h2.73v1.81h-2.73zM122.9 142.1h2.73v1.81h-2.73zM105.9 146.6h2.73v1.81h-2.73zM110.7 152.7h2.73v1.81h-2.73zM132.6 152.7h2.73v1.81h-2.73zM101 154.2h2.73v1.81h-2.73zM103.4 155.7h2.73v1.81h-2.73zM105.9 155.7h2.73v1.81h-2.73zM110.7 155.7h2.73v1.81h-2.73zM101 157.2h2.73v1.81h-2.73zM105.9 157.2h2.73v1.81h-2.73zM108.3 157.2h2.73v1.81h-2.73zM110.7 157.2h2.73v1.81h-2.73zM108.3 160.3h2.73v1.81h-2.73zM110.7 160.3h2.73v1.81h-2.73z"/><path fill="#910007" d="M144.8 49.7h2.73v1.81h-2.73zM118 51.2h2.73v1.81h-2.73zM122.9 51.2h2.73v1.81h-2.73zM127.7 51.2h2.73v1.81h-2.73zM132.6 51.2h2.73v1.81h-2.73zM139.9 51.2h2.73v1.81h-2.73zM152 51.2h2.73v1.81h-2.73zM115.6 52.7h2.73v1.81h-2.73zM125.3 52.7h2.73v1.81h-2.73zM127.7 52.7h2.73v1.81h-2.73zM139.9 52.7h2.73v1.81h-2.73zM149.6 52.7h2.73v1.81h-2.73zM152 52.7h2.73v1.81h-2.73zM161.8 52.7h2.73v1.81h-2.73zM103.4 54.2h2.73v1.81h-2.73zM108.3 61.8h2.73v1.81h-2.73zM152 61.8h2.73v1.81h-2.73zM118 63.3h2.73v1.81h-2.73zM135 63.3h2.73v1.81h-2.73zM149.6 63.3h2.73v1.81h-2.73zM152 63.3h2.73v1.81h-2.73zM120.4 64.8h2.73v1.81h-2.73zM152 64.8h2.73v1.81h-2.73zM156.9 64.8h2.73v1.81h-2.73zM105.9 66.4h2.73v1.81h-2.73zM159.3 66.4h2.73v1.81h-2.73zM161.8 66.4h2.73v1.81h-2.73zM156.9 67.9h2.73v1.81h-2.73zM161.8 67.9h2.73v1.81h-2.73zM154.5 69.4h2.73v1.81h-2.73zM122.9 70.9h2.73v1.81h-2.73zM130.2 70.9h2.73v1.81h-2.73zM135 70.9h2.73v1.81h-2.73zM144.8 70.9h2.73v1.81h-2.73zM125.3 73.9h2.73v1.81h-2.73zM130.2 73.9h2.73v1.81h-2.73zM137.5 73.9h2.73v1.81h-2.73zM159.3 73.9h2.73v1.81h-2.73zM135 75.4h2.73v1.81h-2.73zM118 77h2.73v1.81h-2.73zM135 77h2.73v1.81h-2.73zM144.8 77h2.73v1.81h-2.73zM137.5 78.5h2.73v1.81h-2.73zM159.3 78.5h2.73v1.81h-2.73zM120.4 80h2.73v1.81h-2.73zM125.3 80h2.73v1.81h-2.73zM127.7 83h2.73v1.81h-2.73zM142.3 83h2.73v1.81h-2.73zM144.8 83h2.73v1.81h-2.73zM115.6 84.5h2.73v1.81h-2.73zM144.8 84.5h2.73v1.81h-2.73zM149.6 87.6h2.73v1.81h-2.73zM156.9 87.6h2.73v1.81h-2.73zM156.9 92.1h2.73v1.81h-2.73zM149.6 95.1h2.73v1.81h-2.73zM125.3 98.2h2.73v1.81h-2.73zM127.7 98.2h2.73v1.81h-2.73zM135 98.2h2.73v1.81h-2.73zM137.5 98.2h2.73v1.81h-2.73zM144.8 98.2h2.73v1.81h-2.73zM152 98.2h2.73v1.81h-2.73zM154.5 98.2h2.73v1.81h-2.73zM161.8 98.2h2.73v1.81h-2.73zM132.6 99.7h2.73v1.81h-2.73zM139.9 99.7h2.73v1.81h-2.73zM125.3 101.2h2.73v1.81h-2.73zM135 101.2h2.73v1.81h-2.73zM142.3 101.2h2.73v1.81h-2.73zM152 101.2h2.73v1.81h-2.73zM122.9 105.7h2.73v1.81h-2.73zM108.3 113.3h2.73v1.81h-2.73zM110.7 113.3h2.73v1.81h-2.73zM135 114.8h2.73v1.81h-2.73zM110.7 116.3h2.73v1.81h-2.73zM122.9 116.3h2.73v1.81h-2.73zM127.7 116.3h2.73v1.81h-2.73zM130.2 116.3h2.73v1.81h-2.73zM132.6 116.3h2.73v1.81h-2.73zM105.9 119.4h2.73v1.81h-2.73zM110.7 125.4h2.73v1.81h-2.73zM120.4 125.4h2.73v1.81h-2.73zM108.3 130h2.73v1.81h-2.73zM105.9 139.1h2.73v1.81h-2.73zM101 142.1h2.73v1.81h-2.73zM105.9 142.1h2.73v1.81h-2.73zM108.3 142.1h2.73v1.81h-2.73zM103.4 143.6h2.73v1.81h-2.73zM108.3 143.6h2.73v1.81h-2.73zM110.7 145.1h2.73v1.81h-2.73zM120.4 145.1h2.73v1.81h-2.73zM101 146.6h2.73v1.81h-2.73zM103.4 146.6h2.73v1.81h-2.73zM108.3 146.6h2.73v1.81h-2.73zM110.7 146.6h2.73v1.81h-2.73zM108.3 154.2h2.73v1.81h-2.73zM132.6 154.2h2.73v1.81h-2.73zM135 154.2h2.73v1.81h-2.73zM101 155.7h2.73v1.81h-2.73zM103.4 157.2h2.73v1.81h-2.73zM105.9 158.8h2.73v1.81h-2.73zM115.6 158.8h2.73v1.81h-2.73zM149.6 158.8h2.73v1.81h-2.73zM152 160.3h2.73v1.81h-2.73zM103.4 161.8h2.73v1.81h-2.73z"/><path fill="#a60008" d="M125.3 51.2h2.73v1.81h-2.73zM130.2 51.2h2.73v1.81h-2.73zM137.5 51.2h2.73v1.81h-2.73zM149.6 51.2h2.73v1.81h-2.73zM159.3 51.2h2.73v1.81h-2.73zM113.2 52.7h2.73v1.81h-2.73zM122.9 52.7h2.73v1.81h-2.73zM130.2 52.7h2.73v1.81h-2.73zM137.5 52.7h2.73v1.81h-2.73zM142.3 52.7h2.73v1.81h-2.73zM144.8 52.7h2.73v1.81h-2.73zM156.9 52.7h2.73v1.81h-2.73zM115.6 61.8h2.73v1.81h-2.73zM127.7 61.8h2.73v1.81h-2.73zM132.6 61.8h2.73v1.81h-2.73zM137.5 61.8h2.73v1.81h-2.73zM142.3 61.8h2.73v1.81h-2.73zM159.3 61.8h2.73v1.81h-2.73zM101 63.3h2.73v1.81h-2.73zM127.7 63.3h2.73v1.81h-2.73zM137.5 63.3h2.73v1.81h-2.73zM142.3 63.3h2.73v1.81h-2.73zM147.2 63.3h2.73v1.81h-2.73zM159.3 63.3h2.73v1.81h-2.73zM125.3 64.8h2.73v1.81h-2.73zM135 64.8h2.73v1.81h-2.73zM139.9 64.8h2.73v1.81h-2.73zM147.2 64.8h2.73v1.81h-2.73zM115.6 66.4h2.73v1.81h-2.73zM152 66.4h2.73v1.81h-2.73zM125.3 70.9h2.73v1.81h-2.73zM154.5 70.9h2.73v1.81h-2.73zM135 73.9h2.73v1.81h-2.73zM144.8 73.9h2.73v1.81h-2.73zM154.5 73.9h2.73v1.81h-2.73zM156.9 73.9h2.73v1.81h-2.73zM120.4 77h2.73v1.81h-2.73zM122.9 77h2.73v1.81h-2.73zM125.3 77h2.73v1.81h-2.73zM122.9 80h2.73v1.81h-2.73zM127.7 80h2.73v1.81h-2.73zM154.5 80h2.73v1.81h-2.73zM122.9 83h2.73v1.81h-2.73zM156.9 83h2.73v1.81h-2.73zM159.3 83h2.73v1.81h-2.73zM120.4 84.5h2.73v1.81h-2.73zM125.3 84.5h2.73v1.81h-2.73zM135 84.5h2.73v1.81h-2.73zM149.6 84.5h2.73v1.81h-2.73zM156.9 84.5h2.73v1.81h-2.73zM154.5 87.6h2.73v1.81h-2.73zM156.9 90.6h2.73v1.81h-2.73zM159.3 90.6h2.73v1.81h-2.73zM156.9 95.1h2.73v1.81h-2.73zM118 98.2h2.73v1.81h-2.73zM120.4 98.2h2.73v1.81h-2.73zM122.9 98.2h2.73v1.81h-2.73zM149.6 98.2h2.73v1.81h-2.73zM120.4 99.7h2.73v1.81h-2.73zM130.2 99.7h2.73v1.81h-2.73zM152 99.7h2.73v1.81h-2.73zM154.5 99.7h2.73v1.81h-2.73zM120.4 101.2h2.73v1.81h-2.73zM122.9 101.2h2.73v1.81h-2.73zM130.2 101.2h2.73v1.81h-2.73zM147.2 101.2h2.73v1.81h-2.73zM156.9 101.2h2.73v1.81h-2.73zM101 113.3h2.73v1.81h-2.73zM105.9 113.3h2.73v1.81h-2.73zM110.7 114.8h2.73v1.81h-2.73zM127.7 114.8h2.73v1.81h-2.73zM101 116.3h2.73v1.81h-2.73zM103.4 117.9h2.73v1.81h-2.73zM101 120.9h2.73v1.81h-2.73zM108.3 120.9h2.73v1.81h-2.73zM110.7 120.9h2.73v1.81h-2.73zM103.4 122.4h2.73v1.81h-2.73zM108.3 123.9h2.73v1.81h-2.73zM110.7 123.9h2.73v1.81h-2.73zM122.9 125.4h2.73v1.81h-2.73zM110.7 126.9h2.73v1.81h-2.73zM120.4 126.9h2.73v1.81h-2.73zM122.9 126.9h2.73v1.81h-2.73zM108.3 128.5h2.73v1.81h-2.73zM105.9 130h2.73v1.81h-2.73zM101 131.5h2.73v1.81h-2.73zM105.9 131.5h2.73v1.81h-2.73zM108.3 133h2.73v1.81h-2.73zM118 133h2.73v1.81h-2.73zM122.9 134.5h2.73v1.81h-2.73zM101 140.6h2.73v1.81h-2.73zM103.4 140.6h2.73v1.81h-2.73zM103.4 142.1h2.73v1.81h-2.73zM120.4 142.1h2.73v1.81h-2.73zM101 143.6h2.73v1.81h-2.73zM118 143.6h2.73v1.81h-2.73zM101 145.1h2.73v1.81h-2.73zM103.4 152.7h2.73v1.81h-2.73zM101 158.8h2.73v1.81h-2.73zM101 160.3h2.73v1.81h-2.73z"/></g>
<path d="M94 111.6H100M88.2 154.1H100M88.7 39.5H100M95.6 45.4H100M80.8 146H100M89.3 55.5H100M95.7 131.1H100M76.8 113.2H100M75.3 126.9H100M90.9 145.5H100M93.2 134.7H100M94.8 106.1H100M84.8 115.4H100M81.8 81.8H100M77.5 34H100M79 136H100M91.1 117.3H100M85.3 122.7H100M80 72.7H100M88.3 55.7H100M94.7 121.6H100M94.4 74.6H100M80.4 151.3H100M87.6 156.7H100M91 158.1H100M80.1 75H100M84.7 100H100M93 35.7H100M84.4 101.7H100M79.5 129.3H100M86.8 57.3H100M81.2 62.9H100M75.1 40.2H100M85.6 77.9H100M88.1 156.3H100M82.9 85.7H100M84.4 62.1H100M76.7 157.6H100M89.1 88.2H100M86.2 131.6H100" stroke="#eee" stroke-width="0.5" fill="none"/>
<text x="220.8" y="14.5" font-size="11" font-weight="bold" stroke="#000" stroke-width="0.22">B</text>
<polygon points="229,139 229,122 240,114.5 253,103 277,76 304,47.5 312,40 316.9,37.5 320,41 320,49 318,52 315,56.3 302,71.9 283,92.7 264,114 245,134 241,140.5 233,141.5" fill="#e4deac" stroke="#e4deac" stroke-width="1.5" stroke-linejoin="round"/>
<g stroke-width="1.35" stroke-linecap="round" fill="none" filter="url(#blur2)"><path stroke="#c0a8d8" d="M265.1 52.8h0M255.3 62.7h0M259.1 96.4h0M271.1 83.7h0M279.1 55.3h0M274.4 77.3h0M261.5 74.1h0M264.1 90.9h0M247.4 84.4h0M275.9 77.2h0M306.1 44.9h0M297.2 47.9h0M280.6 70.6h0M256.3 96.8h0M283.3 66.9h0M253.7 95.8h0M261.6 55.4h0M305.6 46.6h0M287.4 55.1h0M285.1 65.8h0M285.6 66.4h0M271.8 83.1h0M257.2 66.8h0M235.3 78.4h0M272.8 77.4h0M263.6 85.4h0M302.7 48.9h0M239.3 80h0M290 52.5h0M282.9 60.7h0M276.1 66.7h0M289 57h0M237 81.7h0M251.5 64.9h0M263.5 92.6h0M290.1 57.1h0M256.8 92.1h0M279.3 64.1h0M287.2 65.1h0M267.2 81.2h0M277.4 65.5h0M272 81.2h0M264.9 67.7h0M290.7 50.7h0M258 96.9h0M274.1 79.7h0M289.6 63.9h0M286.8 50.5h0M275.9 73.9h0M295 47.3h0M277.3 71.6h0M273.7 78.2h0M284.5 59.3h0M300.1 47.4h0M293.6 57h0M270.3 77.5h0M293.8 52.5h0M249.9 93.2h0M267.3 83.2h0M297.7 54.6h0M306.1 46.5h0M256 94.7h0M269.5 85.9h0M297.3 47.6h0M298.3 51.2h0M277.1 55.6h0M241.3 85.7h0M274.7 60.9h0M284.9 61h0M265.2 80.1h0M266.1 79.7h0M288 63.1h0M261.7 89.2h0M269.7 77.1h0M289.7 56.3h0M258.1 95.6h0M256.9 77h0M272.7 69.8h0M264 62.1h0M283.8 55.8h0M285.7 67.2h0M274.4 77.5h0M286.8 61.2h0M266.1 89.4h0M253.4 95.2h0"/><path stroke="#b090d0" d="M279.5 74.7h0M287.4 61.9h0M263.9 76.6h0M267.9 76.1h0M280.6 73.1h0M266.6 81.9h0M273.7 77.5h0M287 65.5h0M269.6 74.7h0M297.1 54.5h0M278.5 63.9h0M265.8 86.7h0M285.2 67.8h0M280.2 70.8h0M269.3 79.2h0M268.4 86.7h0M242.8 68.4h0M273 80.4h0M267.6 86.4h0M290.3 51.3h0M287.2 64.4h0M274.9 78.6h0M258.4 94.2h0M256.2 94.5h0M293.6 47.9h0M266.8 48.1h0M287.4 64.7h0M276.9 61.1h0M257.4 62h0M270.8 68.2h0M298.1 45.8h0M285.2 66.3h0M294.2 58.6h0M258.5 97.9h0M264.6 76.4h0M282 54.3h0M278.6 75.7h0M281.2 66.2h0M253.1 86.4h0M245.9 50.2h0M256 92.3h0M263.1 82.2h0M266.9 88.1h0M272.1 74h0M266.4 87.3h0M254.9 98h0M265.4 80.1h0M302.7 46.9h0M282.5 67h0M277.2 68.4h0M292.4 58.1h0M278.3 63h0M299 45.4h0M266.4 54.5h0M272.6 82.2h0M284.2 60.5h0M252.6 82.5h0M269 75.3h0M286.5 66.2h0M255.1 88.2h0M268.3 81.1h0M279.1 68.1h0M267.7 49.8h0M283.9 61.4h0M262.2 90.9h0M285.3 56.7h0M266.5 84h0M285.2 45.1h0M247.4 91h0M263.5 90.3h0"/><path stroke="#a890c8" d="M245.4 110.2h0M238.9 108.5h0M246 109.1h0M247.2 100.8h0M241.6 101.6h0M252.1 102.6h0M245.8 110.7h0M243.1 107.6h0M242.2 111h0M240.8 112h0M244.3 111.9h0M243.4 103h0M243.3 102.3h0M251.9 100.7h0M234.2 103.4h0M244.2 108.7h0M246.4 103.9h0M239.9 111.4h0M249.5 104.4h0M247.8 108h0M246.8 109.6h0M238.1 108.6h0M234.3 100.3h0M242.9 97.2h0M254.7 99.1h0M252 105.2h0M237.1 108.3h0M253.8 98.4h0M240.4 112.9h0M246.6 108.6h0M237 111.5h0M241.5 109.1h0M253 97.3h0M244.6 99.4h0M237.8 104.7h0M249.5 107.1h0M251.9 105h0M249.4 96.7h0M247.9 100.8h0M245.7 110.4h0M247 101.7h0M255.9 100.8h0M238.4 112.5h0M242.9 103.4h0M237.7 105.6h0M244.6 100.6h0M251.5 97.8h0M234.8 109.7h0"/><path stroke="#a0a0a8" d="M276.9 72.6h0M290.4 57.7h0M283 69.4h0M256.9 100.1h0M256.7 89.1h0M280.3 68.7h0M282.6 51h0M258.2 95.9h0M271.5 71.2h0M281.4 67.2h0M277.9 70.7h0M251.7 84.4h0M304.4 45h0M237.8 82.9h0M244.6 87h0M285.2 68.5h0M261.7 93.8h0M258.4 97.9h0M273 76.9h0M283.4 53.5h0M272.8 79.1h0M274.2 58.9h0M299.2 53.4h0M298.9 53.2h0M248.6 81.8h0M301.3 50.3h0M252.8 92.3h0M292 51h0M301.1 47.9h0M274.4 52.3h0M292.6 58.8h0M270.9 80.5h0M272 79.1h0M298.7 52.4h0M283.6 59.3h0M294.7 47.6h0M307.2 45.2h0M280 69.4h0M285.6 64.7h0M253.6 90.1h0M286.1 65.1h0M288.5 48h0M292.8 60h0M279 50.7h0M270 79.9h0M274.8 74.8h0M292.3 50.9h0M289.9 58.2h0M253 69.4h0M256.7 99.8h0M289.7 64.1h0M264.5 83.9h0M296.3 57h0M251.5 94.6h0M282.7 64.1h0M303.4 44.9h0M284.4 58.6h0M277.8 52.7h0M279.9 60.4h0M293.6 54.4h0M290 46.4h0M260.4 73.1h0M269.1 71.4h0M255.1 89.1h0M289.1 63.7h0M291.9 60.8h0M266.4 88.2h0M283.3 65h0M293 54.8h0M306.4 46.3h0M283.6 60.7h0M273.2 75.8h0M296.7 52.2h0M272.6 60.6h0M300.5 52.3h0M282.7 58.3h0M245.3 55.9h0M246.9 81.7h0M293.1 57.7h0"/><path stroke="#8a8a90" d="M306.6 46.4h0M273.9 79.5h0M287 66.5h0M256.4 96.6h0M262 88.6h0M276.7 56h0M291.4 51.4h0M276 74.6h0M285.4 53.6h0M300 51.7h0M280.2 73.3h0M273.9 75.8h0M253.3 89.4h0M307.5 44.9h0M254.5 85.9h0M263.2 76.3h0M236.3 73.7h0M277.5 75.6h0M266.5 63.2h0M275.2 51.4h0M267 85.1h0M307.4 44h0M280.6 48.4h0M295.7 54.6h0M266.6 47.7h0M299.8 49.9h0M295.9 56.6h0M276.5 69h0M259.4 83.6h0M275.6 55.8h0M301.2 49.6h0M238.1 64.8h0M276.1 74.9h0M284.6 62.5h0M268.5 71.9h0M281.6 57h0M263.2 92.6h0M268.5 64.6h0M304.3 48.4h0M289.8 55.2h0M286.7 52.2h0M262.3 82h0M257.7 88.3h0M269.6 83h0M291.1 60.7h0M265.9 89.7h0M280.4 52.3h0M292.8 54.3h0M265.7 86.8h0M292.1 52.7h0M293.2 53.7h0M268.4 86.9h0M274.9 72.5h0M272.4 81.1h0M248.7 88.7h0M273.1 78.9h0M273.2 70.6h0M256.3 71.4h0M247.9 80.2h0M289.5 63.3h0M269.6 84.7h0M274.4 76.1h0M297 56.2h0M283.4 62h0M301.3 49.4h0M289 61h0M282.8 59.5h0M281.2 54.4h0M271.4 63h0M270.1 51.3h0M285.8 65.6h0M252.7 71.4h0M274.6 65.1h0M289.2 46.5h0M257.9 64.9h0M286.6 62.6h0M261.8 89.1h0M288 45.3h0M281.3 67.8h0M263.5 85.3h0M255 93.7h0M268.2 51.4h0M300.8 46.9h0M257.1 69.1h0M265.3 60.4h0M295.2 54.2h0M259.8 90.9h0M289.6 56.4h0M278.3 60.6h0M253.6 82h0M271.2 53.5h0M286.1 64.5h0M283 69.9h0M274.3 71.3h0M258.3 90.4h0M284.2 61.5h0"/><path stroke="#a080c0" d="M288.2 64.5h0M259 78.8h0M279.4 61.8h0M271.3 79.7h0M291.4 56.2h0M280.7 66.9h0M281.3 64.6h0M260 91.9h0M295.7 49.3h0M287.5 63.1h0M265.7 88.3h0M261.8 81.1h0M276.7 77h0M298 54.7h0M263.2 83.9h0M260.7 95.3h0M282.1 61.8h0M250.6 92.9h0M278.1 71.5h0M258.3 74.9h0M288.1 60.1h0M251 64.7h0M295.8 50.9h0M253.1 94.1h0M247.7 81.1h0M264.9 80.5h0M285 57.9h0M279.6 66.5h0M254.4 98h0M234.2 57.2h0M291.2 59h0M266 84.9h0M267.8 76.5h0M258.6 91.1h0M278.5 71.9h0M290.5 60.1h0M268.6 84.5h0M249.5 87.3h0M281.7 69.1h0M291.3 60.8h0M305.7 44.7h0M299 54h0M283.2 65.8h0M256.7 85.8h0M280.6 65.7h0M271.4 75.8h0M269.4 79.4h0M276.8 50.7h0M295.9 46.5h0M263.5 86.9h0M298.6 50.3h0M285.2 62.2h0M276.7 47.2h0M299.9 45.6h0M305.2 47.2h0M286.9 65.8h0M290.3 62.4h0M259.4 88.5h0M247.9 84.2h0M261.5 92.3h0M280.3 71.3h0M255.8 93.7h0M248.1 85.4h0M265.1 66.5h0M262.5 82.9h0M263.9 79.9h0M256.8 90h0M256.5 96.6h0M258.3 93.6h0M258.3 74.1h0M267.1 83.9h0M269.3 79.6h0"/><path stroke="#8a9a90" d="M269.8 81h0M262.1 60.7h0M304 46.9h0M282.2 63.5h0M291 55.1h0M274.3 76.8h0M271.6 63.8h0M302 47.4h0M292.5 51h0M242.8 66.2h0M277 64h0M265.4 70.2h0M257.1 91.4h0M267.1 87.8h0M292.1 57.2h0M259.9 95.1h0M301.7 46.2h0M261.9 75h0M286.6 66.2h0M275.2 74h0M268.2 83.8h0M291.6 59.7h0M286.2 57.9h0M272.9 81.7h0M255.7 93.9h0M277.5 56.2h0M302.3 45.3h0M283.3 47.8h0M299 49.2h0M279 74.8h0M284.1 63.5h0M265.5 87.3h0M255.1 94.8h0M270.5 83.4h0M255.9 87h0M270.8 66.1h0M274.1 80.2h0M265.2 83.2h0M279 66.6h0M280.7 69.8h0M280.9 64.9h0M282.7 70.4h0M297.4 48.4h0M281 68.7h0M275.6 77.8h0M274.4 77.5h0M281.9 70.2h0M290.4 63.3h0M277.5 76.5h0M266.8 81h0M262.5 83.3h0M286.9 60h0M269.1 72.4h0M286.4 63.9h0M234 67.8h0M261.5 92.1h0M251.8 65.1h0M259.2 74.2h0M299.6 47.3h0M267.5 77.3h0M299.5 49.8h0M258.4 95.5h0M274.2 75.1h0M304.3 48.4h0M238.3 69.3h0M276.8 72.1h0M255.5 80h0M265.4 79.3h0M286 64.5h0M241.8 73.5h0M259.1 93.3h0M255.7 79.7h0M268.2 78.2h0M253 69.8h0M289.8 63.8h0M302 49.2h0M266 77.2h0M293 58.3h0M253.1 89.4h0M280.7 70.1h0M279.2 56.7h0M275 77.1h0M288.7 57.7h0M257.8 96.5h0M284 58.9h0M265.6 87.2h0M263.2 56.9h0M254.9 91.1h0M287.5 64.9h0M250.8 86.3h0"/><path stroke="#9a78b8" d="M287.5 66h0M295.1 55.2h0M279.8 74h0M279.6 71.8h0M294.1 59.2h0M258.6 46.3h0M260.6 94.6h0M300.8 49.7h0M304.5 47.4h0M276.2 75h0M262.9 88.3h0M268.7 86h0M252 90.1h0M248.1 81.1h0M276.8 66.3h0M257.7 69.3h0M274.1 73.1h0M295.7 52h0M265.2 82.4h0M299.2 53.8h0M255.6 90.6h0M265.9 83h0M296.9 56.3h0M272.3 53.8h0M270.2 84.6h0M279.2 65.5h0M282.4 61.2h0M296.3 56.7h0M297.4 48h0M261.8 78.1h0M267.6 85.5h0M295.8 55.1h0M278.1 66.3h0M292.8 54.1h0M267.6 45.8h0M272.7 67.6h0M292.3 58.4h0M300.9 49.5h0M264.4 88.1h0M265.9 87.6h0M284.7 56.5h0M290.1 61.5h0M264.2 50.4h0M277.3 49.8h0M267.6 78.5h0M253 91.2h0M242.4 76.4h0M294 58.2h0M291.1 53.7h0M246.5 83h0M263.7 84.4h0M271.9 81.3h0M255.4 97.4h0M263.8 88.4h0M281.6 71h0M285.2 68.4h0M276 78h0M257.4 98.8h0M268.6 62.6h0M268.6 84.7h0M274.1 78.7h0M269.3 73h0M280.9 67.6h0M293.8 56.7h0M283.2 68.9h0M306.8 44.8h0M282 70h0M304.6 48.2h0M257.3 95.5h0M268.9 84.9h0M266.3 88.7h0M282 69.5h0M295.4 49.7h0"/><path stroke="#b098d0" d="M248.5 104.6h0M241.5 96.5h0M246.4 108.5h0M246.8 105.4h0M242.2 109.2h0M251.4 103.7h0M245.9 95.9h0M239.9 102h0M242.8 99.7h0M246.6 105.5h0M252.6 99.3h0M254.3 98.2h0M248.4 102.4h0M246.3 96.4h0M249.3 104.2h0M248.6 98.2h0M247 103.8h0M235.3 90.9h0M233.1 106.7h0M244.8 105.2h0M235 108.3h0M239.1 106.5h0M242.2 111.6h0M245.4 107.7h0M246.5 103.6h0M244.9 109.2h0M242 108.8h0M238 96.8h0M245 108.5h0M244.8 105.9h0M244.8 98.1h0M248 98.6h0M253.5 102.3h0M252.6 99.2h0M249.7 103.3h0M241.7 111.6h0M248.2 100.5h0M241.6 112.9h0M251.9 98h0M238.1 102.6h0M249.2 105.1h0M239.8 98.2h0M245.6 105.7h0M240.3 86.2h0M249 102.4h0M246.6 109.4h0"/><path stroke="#6ab878" d="M233.3 116.1h0M235.5 112.2h0M236.8 113.6h0M238.6 116.1h0M233.3 115.9h0M234.8 118.3h0M233.5 109.8h0M236.5 115.9h0M236.9 113.9h0M233.3 111.6h0M236.2 118.2h0M237.2 116.1h0M235.5 117h0"/><path stroke="#6aa878" d="M241.9 104.3h0M233.9 106.2h0M244.7 90.6h0M242.7 105.6h0M254.7 100.6h0M247.7 101.9h0M241 111.1h0M238.2 111.2h0M254.5 100h0M237.5 111.7h0M248.1 92.8h0M255.2 101h0M250.5 105.2h0M241.1 110.9h0M240.7 97.5h0M242.4 97.2h0M249.8 106.1h0M250.4 96.2h0M250.2 97.5h0M250.1 104.8h0M246.4 108.3h0M236.5 108.6h0M239.5 113.5h0M252.4 100.5h0M243.7 110.4h0M237.8 108h0M244.7 106.4h0M239.4 101.1h0M251.6 100.7h0M247.8 102.8h0M241.9 111.7h0M236.9 102.6h0M242.4 91h0M253.2 97.7h0M248.3 108.4h0M244.4 111.1h0M247.3 99.5h0M244.2 102.5h0M252.9 98.9h0M243.4 110.8h0M233.4 97.3h0M251.4 97.1h0M237.8 96.2h0M239 108.9h0M249.7 101.6h0M246.3 98.4h0M241 114.7h0M237.2 107.7h0M244 101.1h0"/><path stroke="#9870b0" d="M250.9 92h0M277.2 66.7h0M292 59.3h0M260.2 92.7h0M281.6 70.9h0M302.1 48.6h0M289.4 63.8h0M291.5 47.3h0M259.7 85.5h0M277.8 72.4h0M263.6 70.7h0M254.7 98.2h0M292.1 61.5h0M274 80h0M283.9 64.1h0M244.4 55.3h0M277.1 74.2h0M260.6 80.4h0M274.9 79.6h0M302.2 45.8h0M266.9 83h0M290.7 52.1h0M257.9 93.8h0M275.6 72.6h0M301.7 49.4h0M267.6 75.2h0M278.4 75.6h0M284.9 64.6h0M263.3 54.7h0M272.5 75.8h0M290.1 50.4h0M265.1 71.8h0M299.5 48.3h0M261.9 81.9h0M298.4 44.1h0M295.5 47.3h0M256.8 98.5h0M289.8 53h0M288.2 56.2h0M266.2 85.6h0M299.3 49.6h0M258.1 98.3h0M272.6 71.7h0M250.2 78.9h0M286.6 58.3h0M263.7 66.1h0M294 55h0M260.5 94.1h0M269.5 79.2h0M254.9 77.1h0M258 98.5h0M256.9 47.6h0M257.4 90h0M293.4 53.5h0M283.8 69.8h0M277.5 57h0M292.1 55.4h0M298.3 54.9h0M269.6 82.2h0M288.3 44.7h0M266.7 77.7h0M241.1 84.3h0M273.7 76h0M289.5 57.5h0M287 55.1h0M248.6 66.5h0M258.5 96.5h0M257.1 99.4h0M276.1 59.8h0M294.2 59h0M243.5 78.5h0M281.2 62.5h0M300.3 50.5h0M302.6 50.1h0"/><path stroke="#90b0a0" d="M254.4 98.6h0M240.2 107.6h0M245 105.7h0M252.4 104.2h0M240.8 112.9h0M251.4 97.3h0M243 112.5h0M247.6 97.8h0M245.7 108.9h0M239.1 113.1h0M248 105.1h0M246.1 105.7h0M245.7 107.6h0M248.8 106.5h0M235 90.6h0M254.2 100.8h0M242.5 99.6h0M235.6 107.8h0M252.8 103.1h0M250.8 105.1h0M254.2 98.4h0M242.8 111.3h0M244.8 104.5h0M248.1 97.1h0M248.3 100.7h0M249.3 102h0M253.4 97.4h0M244.3 103h0M243.3 108.4h0M246.1 110.1h0M246.8 108.5h0M255.2 99.4h0M252.4 98.4h0M248 106.2h0M248 105.6h0M251.9 103.3h0M240.8 113.8h0M249.4 96.3h0"/><path stroke="#7a9a88" d="M277.2 70.2h0M270.1 70.1h0M295.5 50h0M264.3 91.6h0M298.5 54.6h0M297.8 45.8h0M276.6 69.5h0M306.8 44.8h0M275.1 67.7h0M308.2 44.8h0M273.9 77.1h0M287.3 57.3h0M259.6 86.3h0M279.9 58.9h0M293.2 57.5h0M269.9 63h0M295.1 56.2h0M254.7 98.1h0M264.3 86.6h0M284.8 45.1h0M299.4 50.8h0M289.9 59h0M258.5 97.5h0M273.8 64.9h0M306 46.9h0M297.5 46.3h0M308 44.7h0M278.2 76h0M303.7 49.1h0M273.1 66h0M285.2 62.9h0M263.6 83.9h0M273.5 80.3h0M280.1 71.5h0M264.6 90.9h0M293.2 57.6h0M264.8 82.8h0M247.4 85.9h0M255.1 93.9h0M289.5 56.8h0M303.5 47.8h0M265.3 69h0M293.2 58.2h0M261.7 91.5h0M275.5 65.1h0M261 83.8h0M278.4 74h0M285.1 58.5h0M280.1 70.2h0M282.9 70.5h0M274.5 69.6h0M296.1 46.7h0M275.8 52.1h0M270.3 71.3h0M284.2 64.9h0M278.6 70.9h0M302.2 49.8h0M263.4 92h0M266.6 54.2h0M287.7 55.4h0M262.2 78.4h0M275.4 69.1h0M284 61.8h0M270.3 78.9h0M302 47.9h0M257.4 91.3h0M290.2 62.1h0M250.3 69.9h0M267.5 53.6h0M293.1 59.6h0M257.3 91.6h0M283.3 70.2h0M282 59.3h0M296.5 48.3h0M273.5 74.2h0M250.1 66.4h0M259.8 82.8h0M248.9 85.1h0"/><path stroke="#78b888" d="M250.5 105.7h0M254.8 99.8h0M251.9 101.6h0M244.2 109.6h0M251 104h0M238 103.4h0M249.7 95.9h0M234.3 104.1h0M244.1 107.5h0M241 94.2h0M243.5 110.9h0M235.4 107.3h0M248.9 106.8h0M252 99.9h0M240.7 89.9h0M253.1 101.3h0M241.9 113.2h0M244.7 110.8h0M250.9 95.4h0M236.7 104.6h0M249.2 98.5h0M254.9 100.1h0M246.6 100.7h0M252.3 104.5h0M241.7 102.7h0M243.3 99.8h0M235.8 106h0M240.3 109.1h0M242.8 109.2h0M244.5 109.7h0M240.6 109.7h0M247.6 105.2h0M251.9 102.7h0M235.8 107.3h0M243.3 97.9h0M245.7 102.3h0M238.7 107.3h0M241.5 112.1h0M245.4 110.6h0M247.3 108.7h0"/><path stroke="#58a868" d="M235 119h0M236.4 116.5h0M233.2 108.5h0M238.9 115.6h0M239 114.3h0M233.9 117.6h0M234.8 118.9h0M233.8 109.4h0M236.7 116.6h0M233.6 112.2h0M233.8 114.7h0M236.7 117.5h0M233.7 113.9h0M238.7 113.7h0M238.2 116h0M233.7 119.9h0M237.5 114.7h0M234.2 117.2h0M236.4 115h0M234.5 111.8h0"/><path stroke="#60b070" d="M233.3 116.7h0M233.1 116.9h0M235.7 111.2h0M236.9 114.4h0M236.9 115.6h0M240.3 114.9h0M235.2 116.7h0M235.2 116h0M237.2 116.4h0M240.4 115h0M235.4 117.4h0M238.3 115h0M235.1 116.2h0M237.2 117.3h0"/><path stroke="#78c088" d="M236.1 117.9h0M233.3 119.7h0M236.2 111.9h0M237.4 117.1h0M235.1 117.2h0M237.2 117.5h0M233 119.5h0M238.9 115.6h0M234.2 113.9h0M236.3 113.8h0M234 112.9h0"/><path stroke="#8fb8a0" d="M238.9 116.2h0M233.1 117.7h0M234.2 115.7h0M233.5 118.7h0"/><path stroke="#c070d0" d="M305.6 67.7h0M308.5 72.4h0M277.3 105h0M302.6 78.5h0M281.8 99.2h0M285.5 95.7h0M293.8 82.7h0M314.3 71.1h0M288.3 91.4h0M297.9 87.8h0M279.2 107.7h0M260.6 136.7h0M295.9 80.4h0M318.1 69.3h0M276.4 116.7h0M292.8 90.2h0M296.6 77.7h0M265.1 134h0M268.5 124.2h0M292.9 89h0M264.2 139.2h0M284.9 133h0M277.8 103.4h0M300.4 97.6h0M311.4 61.1h0M285.4 106h0M299.5 73.2h0M273.2 102.6h0M277.1 108.9h0M269.8 106.4h0M305.2 96.8h0M295.4 79.3h0M311.8 75.7h0M278.7 96.9h0M276.4 104h0M278.2 102.3h0M283.6 98.2h0M294.4 88.3h0M299.9 80.7h0M316.6 54.3h0M274.8 104.6h0M305.7 88.1h0M309.6 67.3h0M317.7 55.5h0M282.1 103h0M317.2 61h0M291.9 93.2h0M281.9 101h0M287.4 99.6h0M285 94.4h0M296.9 99.5h0M301.3 71.5h0M304.1 77.3h0M285.2 111.3h0M288.4 90.1h0M287.5 100.3h0M275.6 109.5h0M306 72h0M311.7 59.4h0M289.5 90.6h0M280.9 113.6h0M311 69.9h0M299.9 78.7h0M312.8 57.9h0M309.1 64.7h0M282.4 106.8h0M304.9 93.6h0M315.9 76.6h0M272.2 121.2h0M298.2 128.1h0M298.8 77.4h0M306.7 81.8h0M287.5 87.8h0M301.4 82h0M318.2 68.2h0M315.5 62.2h0M281.7 94h0M270.1 125h0M310.4 79.5h0M294.8 84.7h0M288.3 86.3h0M275.6 114.3h0M257.1 138.5h0M310.3 65h0M283.2 95.4h0M287.5 97.5h0M272.8 108.7h0M308.1 101h0M280.2 102.1h0M302.1 83.6h0M306.3 68.3h0M313.6 68.5h0M309.6 112.4h0M283.1 92.1h0M285.8 108.3h0M293.1 100.5h0M269.4 109.8h0M285.3 111h0M291.7 84.8h0M296.9 86.5h0M274.1 106.5h0M253 139.9h0M282.5 103.2h0M260.6 131.4h0M285.6 104.1h0M288.1 140.4h0M272.1 121.3h0M284.6 97.5h0M266.8 134.6h0M314.5 58h0M276.7 114.9h0M317.7 76.3h0M317.6 53.6h0M313.1 82.4h0M276.7 115.1h0M309.6 76h0M300.8 77.2h0M265.1 129.9h0M289.6 95.1h0M315.2 69.7h0M272.6 113.1h0M295 119.8h0M297.9 84.6h0M301.4 78.6h0M300 90.3h0M299.7 78.3h0M304.2 68.2h0M280 106.7h0M314.6 56.3h0M297.4 84.1h0M308.4 93.2h0M274.5 105.6h0M305.2 93h0"/><path stroke="#c058c8" d="M266.7 112.6h0M257.8 126.1h0M256.2 131h0M262.2 120.3h0M261.3 124.6h0M264.8 116h0M260.6 124.2h0M254.7 124h0M274.2 115.5h0M250.3 138.2h0M264.1 121.8h0M256.3 132.1h0M261.3 117.6h0M259.8 123.3h0M251.1 134.6h0M255.9 130.6h0M261.2 122.7h0M258.7 126.9h0M258 123.8h0M246.9 137.1h0M259 121.2h0M265.2 117.1h0M258.5 127.4h0M265.5 119.5h0M261.3 124.6h0M241.1 139.2h0M261.7 118.3h0M267 120h0M244.6 139.6h0M270.1 119h0M268.7 113h0M268.9 111.1h0M262.4 128.5h0M252 133.3h0M249.5 138.1h0M261.8 124.1h0M245.8 133.8h0M255.7 134h0M244.4 135.9h0M243.4 134.8h0M258 119h0M252.6 130.8h0M265.1 114.9h0M253.8 133.7h0M271.8 116.9h0M266.2 120.4h0M258 120.5h0M250.1 134.9h0M254.9 135.6h0M257.2 131.4h0M257.2 125h0M257.3 127.9h0M267.5 113.9h0M258.5 128.2h0M255.9 123h0M254.5 125.5h0"/><path stroke="#8060e0" d="M313.9 85.5h0M278.4 117h0M288.4 101.7h0M319.6 73.3h0M302.4 99.5h0M281.7 99.5h0M291.5 108.8h0M291.1 95.8h0M309.8 73h0M283.9 112.3h0M311.1 80.2h0M306.3 104.1h0M306.4 76.9h0M292.8 101.2h0M305.2 72.4h0M286.4 115.8h0M284.2 97.3h0M303.5 83.8h0M284.8 98.5h0M294.8 90.7h0M310.7 69.5h0M313.5 74.6h0M311.1 73.9h0M288.2 94.6h0M256.6 137.4h0M288.6 140.6h0M290.6 96.8h0M285.2 117.7h0M273.6 109.2h0M289 90.1h0M305.9 66.2h0M305 70.6h0M271.2 112.3h0M312.5 86.7h0M298.1 77.6h0M298.3 87.6h0M305.3 71.9h0M286.8 93.6h0M278.8 120.6h0M277.4 105h0M281.2 107.9h0M279.5 121.4h0M278.3 102.9h0M287.8 94.8h0M293.2 85.5h0M292.8 93.5h0M312.1 64.6h0M272.8 104.1h0M261 140.7h0M282.7 95h0M318.3 71.3h0M273.5 107.8h0M276.8 126.6h0M291.7 92.3h0M283.8 100h0M303.1 84.2h0M270.6 110.3h0M267.2 135.5h0M315.7 87.4h0M274.8 111.6h0M311.7 87.6h0M307.2 66.2h0M285.3 90.8h0M316.5 60.1h0M262.6 135h0M277 98.4h0M277.5 101.8h0M285.1 94.3h0M314.3 98.7h0M289.9 89.2h0M276.5 115.1h0M309.2 75h0M311.7 81h0M309.8 77.6h0M292.5 85.5h0M297.7 83.4h0M271.9 104.2h0M291.1 89.3h0M290 86.5h0M303.5 92.4h0M271.5 120.3h0M316.2 53.8h0M295.3 83h0M282.4 96.1h0M273.6 109.2h0M297.6 76.8h0M271 134.4h0M300.9 89.5h0M288.3 90.4h0M283.4 100.1h0M284 94.6h0M311.1 70.2h0M278.4 122.5h0M276.3 120.5h0M280.3 105h0M308.6 70.7h0M312 88.3h0M305.2 67.8h0M295.7 83.6h0M301 127.1h0M282.1 95.2h0M302.2 86.1h0M272.1 107.1h0M318 68.8h0M301.1 79.6h0M289.1 105.4h0M279.8 98.5h0M306.4 84.9h0M275.2 100.7h0M285.4 116.4h0M261.4 131.7h0M319.1 65.5h0M289 100.4h0M316.1 66.6h0M276.1 101.9h0M282.6 96.9h0M316 61.9h0M307.2 74.3h0M275.3 106.2h0M275.3 106.1h0M312.3 83.5h0M280.6 100.1h0M292.3 84.3h0M284 104.6h0M285 89.8h0M298.5 119.2h0M290.8 124.1h0M292.9 129h0M261.9 138.9h0M309.9 88.8h0M300.9 73h0M283 102.5h0M307 78h0M274.3 108.6h0M307.8 66.4h0M291 97.8h0M307.5 79.8h0M279.8 97.2h0M276.4 100.9h0M254.7 138h0M319.5 61.8h0M265.4 132.4h0M287.4 91.5h0"/><path stroke="#d850b0" d="M254.1 124.5h0M258.2 122.5h0M255 125.9h0M260.5 119.6h0M255.2 132h0M255.8 125.5h0M247.4 133.4h0M240.7 139.7h0M261.7 115.2h0M257.1 123.6h0M271.8 118.1h0M247.8 133.3h0M248.4 129.5h0M252 132.5h0M252.6 138h0M250.9 133.8h0M263 117.2h0M249 137.9h0M245.4 133.8h0M257.7 119.4h0M260.1 120h0M247.7 135.5h0M249.8 134.5h0M263.3 121.6h0M264.7 115.8h0M252.6 136.7h0M260.4 128.2h0M242.6 137.8h0M268.4 110.4h0M254.5 133.1h0M250.9 126.7h0M268.2 120h0M262.3 117.8h0M251.7 126.6h0M252.1 127.5h0M270.7 113.8h0M269.6 114.4h0M251.8 135.1h0M256.6 129.6h0M244.8 133.9h0M268.6 118.5h0M247.5 141.1h0M261.9 117h0M262.7 114h0M252.6 133.3h0M249.6 139.2h0M254.5 131.8h0M259.3 120.6h0M265.8 120.7h0M262.9 124.7h0M250.1 127.8h0M267.5 117.9h0M272.1 114.5h0M256.6 121.9h0M261.3 120.3h0M256.8 131.5h0M250.3 134.1h0M250.2 135.6h0M259.6 124h0M265.7 111.1h0M249.2 140.1h0M262.4 116.7h0M257.2 130.8h0M270.1 112.9h0M268.3 121.9h0M252 139.3h0M243.8 140.9h0M260.4 130h0M247.8 132.6h0M267.6 118.1h0M260 117.8h0M246.8 133.8h0M273.3 114.8h0M261.1 123.2h0M263.5 117.3h0M259.9 118h0M256.6 125h0M260.6 121.6h0M262.9 114.2h0M253.2 127.6h0M262.3 117.4h0M270.5 113.3h0M262.1 118.9h0M242.4 139.1h0"/><path stroke="#9070f0" d="M280.9 97.4h0M308.2 73h0M298.1 122.2h0M257.2 140.3h0M271.2 122.5h0M270.5 122.2h0M283.9 103.3h0M317.6 68.7h0M252.5 140.3h0M309.2 82.4h0M270.4 127.8h0M317.6 53.6h0M295.7 94.8h0M284.9 95.6h0M276.8 102.2h0M310 78.2h0M292.6 91.2h0M272.8 119.5h0M296.9 103.6h0M306.4 79.3h0M289.4 97.4h0M286 100.3h0M305 78h0M271.2 111.6h0M316.1 86.3h0M275 104.4h0M317.7 56.4h0M307.2 69.4h0M282.6 102.3h0M310.5 82h0M274.2 104h0M312 98.7h0M277.9 97.1h0M307 94.5h0M312.6 90.4h0M314.4 70.4h0M310 69h0M312.5 80.7h0M287.8 110.3h0M299.8 84.8h0M292.2 95.1h0M300.9 73.6h0M311.5 66.9h0M299.7 78.6h0M292.2 92.3h0M307.1 75.4h0M315.1 58.1h0M303 89.5h0M283.9 95.6h0M292.1 95h0M278.7 105.7h0M316.1 58h0M295.4 125.6h0M282.6 92.7h0M273.8 119.8h0M298.1 75.6h0M303.4 92.8h0M303.2 80h0M319.5 53.5h0M253.5 141.2h0M288.4 129h0M269.9 109.9h0M271.6 111.3h0M280.4 111.5h0M272.1 123.6h0M312.8 65.6h0M278.4 110.3h0M305.9 87.5h0M257.4 137.7h0M293.1 111.1h0M278.1 102.1h0M292.4 90.2h0M292 101.2h0M279.1 106.1h0M279 134.3h0M291.9 86.6h0M293.5 85.2h0M306.9 79.1h0M299 100.4h0M304.8 75.1h0M268 124.9h0M275.5 106.7h0M274.6 113.5h0M268.6 129.4h0M307.5 75.2h0M295.4 78.4h0M312.1 90.2h0M288.4 98.7h0M288.1 126.4h0M278.1 98.2h0M307.6 95.2h0M292.4 119.3h0M284.2 116.5h0M275 106.6h0M319.9 54.2h0M301.1 90.8h0M310.6 119.1h0M314.4 61.2h0M307 84.5h0M289.4 111.1h0M272.3 106.9h0M294.2 79.6h0M297.2 76.1h0M312.5 73.7h0M269.2 125.7h0M275 114.9h0M310.9 63.3h0M293.4 81.2h0M306 80.1h0M301.7 101.7h0M314.7 77.5h0M308.6 81.3h0M315.1 74.3h0M275.2 109.8h0M281.5 100.6h0M303.9 77.4h0M308.4 78.3h0M301.4 96.1h0M292.7 90h0M319.4 70.6h0M270.9 122.2h0M302.2 80.6h0M278.2 104.2h0M301.9 83.5h0M298.7 76h0M308.1 82.6h0M311.9 109.1h0M316 66.4h0M307.9 86.5h0M291.2 84.7h0M275.4 123.8h0M306.2 69h0"/><path stroke="#9868e8" d="M248.6 136h0M265.8 122.8h0M256 123.4h0M255 129.7h0M267.1 122.3h0M258.9 118h0M258 131.3h0M252.4 129.7h0M252 137.4h0M263.7 113.6h0M266.9 121h0M262.7 119.9h0M261.6 119.7h0M270.1 114h0M248.2 140.9h0M256.7 122.7h0M262.3 116h0M265.9 122.5h0M260.4 124.9h0M250.5 131.2h0M265.9 116.5h0M259.5 122.2h0M244.4 137.1h0M250 128.3h0M259.5 121.8h0M252.7 132.9h0M262.6 126h0M266.2 110.3h0M257 123.1h0M266.5 110.4h0M264.7 121.2h0M251.7 128.3h0M270.9 118.1h0M265.3 115.9h0M264.5 113.1h0M267.9 112.9h0M250.9 140.7h0M258.4 130.9h0M250.9 138.8h0M256.2 128.5h0M243.7 134.9h0M266.9 116.7h0M246.5 132.7h0M266.4 112.4h0M256.7 127.4h0M258.7 118.3h0M243.2 136.4h0M243.2 135.8h0M258.2 120.8h0M269.2 119.6h0M261.7 116.1h0M259 123.2h0M257 125.3h0M262.9 116h0M259.5 124.1h0M251 130.3h0M255.4 121.7h0M262.2 127.2h0M257.3 132.6h0M252.2 130.3h0M266.8 118.1h0M258.7 122.2h0M249.6 137.2h0M271.1 117.6h0"/><path stroke="#b8a0f4" d="M277.5 119.5h0M293.4 108.2h0M271.9 111.5h0M298.3 79.8h0M307.4 77.3h0M273.4 103.9h0M310.9 80.8h0M287.5 105.8h0M310.1 75.7h0M310.8 91.9h0M314.4 82h0M269.7 108.9h0M288.2 88.5h0M313 69.4h0M302.5 90.1h0M290.5 98h0M318.6 64.2h0M297.7 81.7h0M303.7 106.5h0M285.9 89.2h0M311 60.6h0M282.7 108.5h0M300.8 100.6h0M295.8 84h0M296.7 89.8h0M294.4 80.9h0M275.9 99.8h0M279.2 100.9h0M311.3 78.5h0M318 59.2h0M316.1 67.4h0M287.2 90.2h0M270.8 125.8h0M297.3 91h0M301.7 71.7h0M288.2 141.3h0M272.4 108.2h0M277.5 102.9h0M318.1 59.5h0M296.2 88.4h0M284.5 95.1h0M290.2 94.3h0M261.4 131.8h0M314.5 79h0M277.1 135.7h0M256.3 138.2h0M295.5 97.3h0M299.5 116.9h0M313.7 71h0M282.7 101.8h0M301.9 98.4h0M294.9 79h0M269.3 131h0M284.4 114.2h0M269.2 128.9h0M261.2 133.6h0M289.5 88.4h0M276.7 102h0M296.5 90.7h0M278.5 107h0M315.2 77.5h0M278.2 104.2h0M313.1 67h0M275.4 116.2h0M267.9 125.9h0M316.8 70.8h0M301.9 74.6h0M298.1 87.4h0M288.1 86.7h0M310.9 65.6h0M286.5 100.5h0M292.6 99.3h0M276.3 108.3h0M310.6 70.7h0M312.9 69h0M315.4 59h0M314.1 77.4h0M298.4 90.9h0M271.5 111.2h0M308.4 102.6h0M273.2 111.9h0M313.6 74.8h0M317.8 70.1h0M258 135.5h0M286.8 109.6h0M310.2 73.7h0M272.9 105.8h0M297.4 121h0M283.2 116.1h0M307.7 85.1h0M317.5 110.9h0M315.2 81.8h0M294 102.3h0M277.3 128.4h0M274.2 110.1h0M309.9 92h0M268.2 108.7h0M304.6 103.5h0M284.9 97.4h0M305.9 97.3h0M299.7 84.8h0M273.8 109.6h0M270.7 109.2h0M289.7 85.4h0M317.9 80.3h0M299.5 80.9h0M262.8 130.1h0M270.9 108.4h0M305.6 69h0M273.9 126.9h0M309.5 64.7h0M297.7 85.5h0M298.5 74.5h0M308.1 78.6h0M280.6 94.4h0M297.5 99.7h0M275.3 102.2h0M275.7 106.1h0M296.5 91.7h0M279.1 103.7h0"/><path stroke="#e86898" d="M254.2 130.2h0M252.2 136.5h0M250.4 133.6h0M245.3 139.2h0M264.1 123.8h0M261.7 120.1h0M267.3 115.2h0M256.1 129.4h0M246.6 141.2h0M264.9 115.3h0M255.1 123h0M265.4 114.2h0M242.3 137.5h0M248.1 129.3h0M243.1 138h0M263.2 115.6h0M263.9 123.4h0M249.5 137.7h0M272.7 116h0M256.4 125.6h0M260 126.1h0M255.1 123.6h0M266.2 120.4h0M255.2 122.8h0M256.4 125.9h0M256.3 133.4h0M271.5 117.6h0M261.5 121h0M255.2 130.7h0M247.1 139.5h0M251.6 125.7h0M259.2 125.4h0M258.8 120.2h0M247.9 135.9h0M260.5 122.2h0M257.4 119.7h0M267.1 119.3h0M246.8 141.4h0M255.8 121.2h0M252.8 132h0M256.9 121.7h0M251.6 135.7h0M245.6 135.9h0M270.5 113.6h0M262 120h0M261.6 119.9h0M262.6 127.6h0M265.4 120.7h0M260.7 123.7h0M269 111.1h0M259.9 128.1h0M244 139.6h0M261.6 117.1h0M246.9 132.2h0M257 124.6h0M248.3 138.6h0M253.4 123.8h0M267.2 113.6h0M245.4 138.9h0M254.2 130.8h0M247.3 139h0M268.4 115.2h0M273.5 115.4h0M261.3 127.2h0M243.1 136.7h0"/><path stroke="#7878ff" d="M298.6 75h0M282.1 128h0M316.5 60.2h0M282.7 107.2h0M276.6 115.7h0M295.3 78.5h0M290.4 95.6h0M294.5 79.6h0M313.8 77.1h0M285.4 92.1h0M308.5 88.9h0M306.2 86.9h0M280.2 103.4h0M271.7 103.9h0M294.3 93.6h0M300.9 76.6h0M309.4 82.9h0M314.4 75.2h0M308.7 65.2h0M264.9 128.8h0M304.4 73.5h0M318.6 67.9h0M316.7 61.8h0M276.3 100.7h0M270.7 109.4h0M282.5 110.8h0M285.3 91.6h0M288.5 94.1h0M279.4 117.7h0M305 67.3h0M282.9 104.6h0M314.9 89.8h0M302.3 75.9h0M288.3 91.9h0M291 83.2h0M283.4 104.1h0M300.2 90.7h0M314.8 106h0M294.8 95.5h0M271.4 110.5h0M284.4 100h0M284.8 101.1h0M294.2 97.3h0M273.9 110.2h0M291 95.3h0M311.5 64.5h0M298.9 102.9h0M310.5 62.6h0M308.3 81h0M287.1 102.5h0M272.7 105.1h0M312.3 62h0M311 65.6h0M297.4 90.1h0M283.4 124.6h0M316.4 68h0M280.3 99.2h0M269.8 108.4h0M305.6 75.1h0M314.4 60.7h0M276 114.3h0M302.6 71h0M274.8 105.6h0M283.7 99.3h0M294.4 110.7h0M300 81.3h0M316.4 101.5h0M271.5 110.1h0M286.3 94.1h0M273.6 102.7h0M312.5 104.4h0M298.1 75.7h0M300.4 80.2h0M283.7 100h0M298.6 90.8h0M307.1 72.5h0M313.2 57.9h0M293 84.5h0M312.9 100.5h0M270.1 126.8h0M311.3 81.2h0M300.9 84.4h0M297.1 98.1h0M305.2 77.8h0M301.8 90.9h0M309.5 97h0M294.3 106.3h0M256.1 141h0M281.3 100.1h0M296.9 82.7h0M287.6 115h0M288 98.7h0M290.4 86.6h0M264 127.9h0M317.7 53.4h0M311.5 106.4h0M257.7 138.6h0M303.2 69.9h0M291.2 95.5h0M280.2 111.7h0M273.9 114.8h0M319 55.9h0M308.4 80.1h0M293 85.4h0M276.3 113.2h0M271.6 108.3h0M294.6 90.8h0M299.9 82.9h0M289.5 102.8h0M306.4 115.1h0M295.2 87.2h0M311.8 58.8h0M263.7 131.5h0M285.9 96.1h0M278.6 106.5h0M303.3 85.1h0M312.1 66.2h0M301.3 79h0M316.2 59h0M283.1 105.6h0M292 92.9h0M279 103.1h0M295.2 107.9h0M266.6 126.5h0M272.4 108.7h0M297.1 91.7h0M302.8 123.2h0M282.7 92.9h0M286 88.3h0M304.4 69.9h0M303 79h0M287.1 111.6h0M299.8 77.9h0M305.9 79.5h0M315.4 79.1h0M289.2 112.4h0M295.5 91.3h0M296 79.4h0M315.7 73.1h0M280.4 98.3h0M284.1 122.2h0"/><path stroke="#a890f0" d="M300.6 129.3h0M316.6 54.7h0M282.2 120.4h0M279.8 106.1h0M264 139.4h0M309.3 85.6h0M280.2 111.1h0M270 106h0M300.8 95.8h0M293.5 92.1h0M319.8 55.9h0M318.8 69.1h0M269.4 121.6h0M271 111.4h0M310.2 66.5h0M303.7 73h0M290.8 108.5h0M295.1 78.7h0M300.3 77.3h0M287.4 115.6h0M310.7 60.5h0M293.8 91.2h0M288.5 89.3h0M318.6 55.3h0M297.9 77.6h0M292.6 123.6h0M291.4 91.5h0M310.6 62.7h0M305.2 68h0M295.6 112h0M281.3 107.1h0M292.4 96.7h0M318.8 55h0M285.5 110.8h0M303 73.7h0M282.4 95.8h0M276.6 124.8h0M289.3 90.3h0M288.7 93.4h0M277.1 101.3h0M317.1 61.9h0M253.8 138.5h0M270.6 107.7h0M277.8 108.1h0M317.2 69.2h0M285.9 103.2h0M315 60.4h0M270.5 134.8h0M307.9 67.5h0M290.7 95.4h0M280.4 112.9h0M276.7 125.5h0M308.4 118.7h0M265.8 128.3h0M310.2 62.9h0M312.3 59.7h0M297.5 87.6h0M313.9 57.9h0M283.3 99.9h0M314.4 89.5h0M314.1 86.6h0M293.9 109.9h0M297.4 79.2h0M271.2 108.7h0M299.2 86.2h0M315.3 71h0M270.7 109.3h0M274.4 122.2h0M298 84.6h0M295.6 100.9h0M295 80.5h0M304.3 82h0M291.4 83.5h0M307.9 75.4h0M260.4 131.6h0M274.2 101.5h0M315.2 76.9h0M299.1 76.9h0M308.1 91.4h0M298 87.2h0M291 95.7h0M306.2 67.1h0M274 108h0M306.4 72.1h0M267.6 124.1h0M316.9 62.8h0M310 70.1h0M297.3 85.8h0M295.1 85.4h0M273.6 110.6h0M318.3 94.9h0M307.4 90.3h0M296.3 80.4h0M302.7 86.5h0M287.5 94.4h0M277.4 114.2h0M307.3 78.2h0M305.3 80.7h0M289.9 94.7h0M297.4 80.1h0M300.2 80.4h0M314.4 57.4h0M303.8 74.2h0M314.6 65.4h0M310.1 67.3h0M294.2 85.9h0M280.2 111.4h0M283.3 130.6h0M303 90.3h0M318.1 64.4h0M268.5 133.2h0M318.4 93.8h0M283.8 102.4h0M309.4 71.8h0M319.8 59.6h0M261.7 138.2h0M314.3 71.2h0M280.6 97.8h0M283.7 100.5h0M318.3 83.5h0M299.9 81.1h0M288.7 92.7h0M300.3 80h0M308.4 94.4h0M312.6 76.9h0M309.9 80.7h0M266.3 132.3h0M318.1 102.9h0M307.8 90.1h0M271.6 110h0M306.2 84.2h0M282.3 108.9h0M277.3 113h0M306.4 89.2h0M291.8 83.9h0"/><path stroke="#9a78e8" d="M302.7 98.2h0M309.4 85.5h0M301.9 79.4h0M295.2 94.5h0M316 62.7h0M288.9 94.4h0M283.7 100.1h0M319.8 54.3h0M298.4 93.6h0M277.4 97.9h0M307.2 69.6h0M316.3 54h0M314.5 109.6h0M271.1 133.2h0M300.1 80.6h0M306.7 73.3h0M295 109h0M305 71.2h0M306.3 65.4h0M279.2 110h0M297.3 85h0M289.8 92.1h0M318.5 75.3h0M304.1 97.4h0M275 117.6h0M284 98.3h0M274.3 106.6h0M290.2 122.8h0M307.2 72.7h0M284.2 94.3h0M317.9 68.4h0M281.6 126.1h0M296.3 89.9h0M276 99.8h0M298.1 91.8h0M276.9 98.2h0M309.8 69h0M282.9 92.2h0M302.4 104.7h0M305.1 78.5h0M278.6 103.2h0M307.5 68.7h0M312.7 83.4h0M286.5 114.1h0M315.4 65.2h0M300.8 72.9h0M272.5 110.2h0M319.5 97.8h0M295.9 81h0M275.5 115.4h0M282.7 103.2h0M294.6 107.1h0M309.5 71.3h0M310.2 82.8h0M255.1 141.3h0M288.1 85.8h0M285.1 90.1h0M315.4 75.6h0M285.9 97.7h0M314.1 88.1h0M285.2 94.7h0M307.1 66.1h0M287.4 96.2h0M301.7 78h0M267.9 124.3h0M301 109.6h0M272.8 117.8h0M295.8 78.9h0M318.7 67.1h0M307.8 71.3h0M313.3 79.4h0M274.4 122.2h0M319.8 54.1h0M315.5 63.2h0M276.8 113.9h0M319.5 60.9h0M291.4 91.7h0M281.7 112h0M279.4 101h0M279.7 101h0M272.6 122.7h0M315.9 63h0M309.5 72.3h0M272.5 110h0M285.8 89.1h0M277 107.9h0M308.1 64h0M308.8 69.7h0M304.7 89.6h0M304.8 76.7h0M277.2 102.2h0M313.3 90.4h0M316.9 67.2h0M311.2 74h0M292 93.5h0M307.2 66.5h0M317.2 59.6h0M319.1 90.7h0M310.1 65.6h0M286.2 88.8h0M280.3 94.3h0M285.1 98.6h0M274 138.5h0M284 96.5h0M317.5 84.3h0M282.6 94.6h0M285.6 96.7h0M314.1 72.1h0M309 81.2h0M299.5 83h0M298.8 75.4h0M291 89.1h0M258.5 137.3h0M296.3 91.2h0M295 89.9h0M278.2 118.3h0M273.7 106.9h0M312.6 84.7h0M301.4 100.7h0M289.1 88.2h0M314.2 66.4h0M288.7 93.7h0M303 87.4h0M283.1 106.8h0M309.4 89.4h0M274.9 108.1h0M305.2 126.2h0M290.1 83.8h0M307.4 68.2h0M317.9 60.2h0M295.8 83.9h0M272.3 110.3h0M291.4 133.3h0M272.4 119.6h0"/><path stroke="#c8b8f8" d="M305.8 77.9h0M309.9 89h0M289.3 101.5h0M282.8 93.7h0M301.4 74.9h0M297 83.4h0M297.4 98.3h0M277.9 129.3h0M301.6 83.8h0M311.8 62h0M306.3 73.5h0M316.2 68.1h0M312 60.1h0M292.3 105.2h0M267.5 124.6h0M298.7 81.4h0M276.3 111h0M307.4 73.4h0M266.4 128.5h0M296.6 80.1h0M304.4 75.8h0M288.4 86.5h0M310 80.2h0M271.8 103.8h0M271.6 129h0M311 83.5h0M300.7 72.8h0M295.9 96.4h0M311.6 66.6h0M312.1 77.3h0M280.9 99.3h0M311.3 72h0M253.8 137.8h0M294.1 92.3h0M299.2 85.4h0M311.5 60.7h0M272.5 106h0M314.4 68.1h0M293.2 84.9h0M269.2 110.2h0M273.1 133.5h0M288.7 87h0M301.3 84.1h0M269.7 107.4h0M301.8 86.1h0M306.7 67.8h0M312.7 73.1h0M306.2 67h0M294.1 92.4h0M280.7 110.9h0M292 121.9h0M278.4 99.1h0M295.6 97.6h0M298.3 75.2h0M308.1 85.1h0M296 110.3h0M296.2 82.8h0M306.9 65.7h0M306.4 96.1h0M306 66.6h0M303.3 92.4h0M283.4 94.1h0M265.5 126.7h0M285.3 93.7h0M311.4 68.3h0M285.2 106h0M283.2 103.7h0M296.1 79.4h0M287.6 104.7h0M270.4 109.3h0M313.6 62.6h0M282.8 105.6h0M291.6 104.4h0M264.7 128.4h0M281.5 96.9h0M306.7 83.5h0M303.5 72.7h0M304 85.2h0M291.4 97h0M281.8 118.7h0M292.7 98h0M295.9 92h0M276.1 109.7h0M304.7 70.6h0M272.9 113.2h0M295.7 78.7h0M305.7 70h0M278.3 97.4h0M278.6 106.6h0M284.3 105.4h0M254.1 140.1h0M287 93.6h0M283.8 96.5h0M276.7 112.2h0M278.6 102.5h0M257.9 136.7h0M255.9 139.3h0M270.6 123.7h0M285.2 91.7h0M308 72h0M269.7 126h0M284.3 95.1h0M290.5 92.5h0M320 74.3h0M290.3 125.4h0M318.4 66.2h0M305.4 101.5h0M295.6 85.7h0M309.7 67.8h0M286.6 90h0M284.4 93.6h0M298.3 80.5h0M271.2 122.3h0M291.3 98.4h0M286.3 88.9h0M300.8 78h0M277.4 99.9h0"/><path stroke="#a080f0" d="M306.3 98.9h0M254.4 139.5h0M318.5 66.6h0M287.6 92.2h0M289.6 86.9h0M295.1 113h0M279.5 101.7h0M279.6 108.9h0M274.5 111.3h0M283.9 122h0M291.2 97.7h0M279.3 107.9h0M290.7 140.8h0M302.3 86.3h0M295 85.7h0M284 97.8h0M273.2 121.7h0M310.6 76h0M299.3 90h0M315.4 83.2h0M279.5 104.1h0M283.7 103.3h0M299.8 96.8h0M290.5 84.4h0M283.2 100.8h0M303.6 82.9h0M316.8 84.1h0M309 87.7h0M302.9 83.4h0M313.4 60.2h0M272 107.5h0M318.2 72.2h0M276.1 115.9h0M295.4 100h0M280.2 117.4h0M310.7 82.7h0M317.7 72.5h0M287.5 97.4h0M304.4 83.2h0M264.3 128h0M310.9 92.7h0M305.3 86.4h0M298 89.8h0M316.8 66.6h0M312.4 90.1h0M294.9 79.9h0M294.5 87.3h0M299.7 123.9h0M292.9 85.7h0M317.5 72.2h0M284.2 119h0M283.7 92h0M295.8 87.9h0M304.3 117.1h0M285.1 108h0M274.2 134.1h0M309.9 69.4h0M307.6 69.2h0M255.4 138.3h0M288.6 91h0M277.6 111.7h0M270 140.5h0M279.5 116.6h0M287.5 94h0M286.4 121.2h0M284.3 90.3h0M286.1 95.5h0M314.6 60.5h0M319 109.5h0M303.4 84.5h0M269.2 109h0M296.7 88.9h0M264.1 130.1h0M310.4 63.7h0M297.6 86.8h0M303.8 97.3h0M293.2 95.9h0M309.5 78.3h0M279.1 121.7h0M260.3 135.8h0M277 109h0M316.4 60.4h0M318.2 91.1h0M320 74h0M306.6 85h0M308 90.2h0M283.7 92.8h0M308.4 72.9h0M282.5 101.1h0M299.6 93.6h0M299 87.4h0M317.4 59.8h0M301.2 93.3h0M309.4 84.3h0M292 89.7h0M274.6 125.5h0M312 71.6h0M270 107.9h0M274.7 113.8h0M275.5 106.2h0M282.6 91.8h0M292.8 83.5h0M311 90.7h0M280.6 103.6h0M302.1 75h0M311.5 67.9h0M269.9 108.3h0M279.2 134.2h0M309.7 63.6h0M315.9 68.2h0M306.7 103.6h0M277 107.7h0M309.1 78.7h0M295.4 90h0M305 69.1h0M300.3 92.7h0M309 64.4h0M315.3 58.3h0M285.4 111.1h0M307.1 64.7h0M310.9 69h0M306.1 67h0M278.5 107.8h0M306.4 77.6h0M291.1 89.2h0M278.7 99.8h0M275.1 113.3h0M281.9 101.2h0M283.2 112.5h0M276 107.6h0M278.8 98.2h0M309.9 61.2h0M277.5 104.8h0M315.1 63.9h0M280.4 99.7h0M273.9 124.6h0M282.1 112.5h0M311.4 83.8h0M283.3 95.1h0M305.8 105.8h0M291 86.7h0M272.2 103.6h0M272.6 108.2h0M306.9 101.2h0"/><path stroke="#b060d8" d="M268 110.4h0M257.9 121.6h0M256.3 129.9h0M251.1 128.4h0M258 122h0M254.2 126.9h0M261.5 119.4h0M263.5 126.1h0M252.1 128.7h0M251.8 127.3h0M245.4 136.3h0M246.7 131.2h0M250.5 127.2h0M267.5 113.7h0M255.9 126.7h0M265.9 115.7h0M266.1 114.5h0M255.1 131.6h0M258.7 120h0M252.9 138.2h0M265.3 114h0M268.4 121.1h0M254.9 136.5h0M261.5 115.3h0M260.4 119.8h0M259.4 129.8h0M261.8 120h0M257 124.4h0M251.4 139.4h0M259.3 125.6h0M248.5 137.7h0M265.9 118.1h0M273.2 115.5h0M249.2 128.5h0M255.5 127.9h0M249.6 129.5h0M265.9 120h0M241.5 138.5h0M261.7 127.1h0M244.8 140.9h0M264.1 124.4h0M268.9 112.5h0M255.9 134.5h0M245.8 134.2h0M262 114.8h0M249.1 137.8h0M259.6 120.6h0M249.6 139.5h0M263.7 117.9h0M246.9 139.3h0M246.6 134.8h0M247.6 134.6h0M265.5 120.2h0M249.4 129.3h0M265 120.1h0M261.7 122.1h0M250.4 140.1h0M252.2 125.7h0M263.7 114h0M263.4 122.7h0M255.8 131.1h0M252.5 130.4h0M269.5 115.1h0M244.9 138.5h0"/><path stroke="#e84878" d="M254.3 124.7h0M268.5 119h0M253.8 125.3h0M257.4 128.5h0M247.6 140.3h0M256 129.5h0M261.8 120.1h0M267.2 115.7h0M253.9 124.6h0M261.7 121.6h0M248 136.5h0M268.6 114h0M272.4 115.8h0M266.7 114.3h0M257.5 128.4h0M259.7 120.1h0M262.3 114.7h0M264.2 112.4h0M255.8 121.9h0M240.8 139.2h0M254.8 125h0M262.8 121.2h0M255 133.9h0M267.8 121.1h0M260.4 126.7h0M248.7 132.6h0M249 128.6h0M264.6 119.6h0M259.4 119h0M267.4 118.6h0M252.6 127.2h0M251.3 136.9h0M262.3 121.8h0M253.6 125.1h0M264.5 114.2h0M241.6 137.8h0M249.8 138.5h0M256.3 133.5h0M256.5 129.5h0M257.2 121.3h0M267.2 112.6h0M255.3 126.6h0M253.1 129h0M252.9 133.6h0M270.2 117.5h0M262.6 120.1h0M249.4 132.5h0M256.7 133.2h0M260.4 123h0M250 134.2h0M254.8 132.5h0M269.7 112.9h0M247.9 131h0M254.1 126.7h0M269.3 114.2h0M266 115.2h0M249.3 133.2h0M256.2 126.5h0M250.4 130.9h0M259.1 117.8h0M262 127.7h0M270.4 112.7h0"/><path stroke="#a070f0" d="M248.1 132.9h0M263.7 117.5h0M263.5 125.5h0M272.2 113.6h0M254.5 131.8h0M248.2 137.3h0M266.9 111.9h0M251.2 127.2h0M258.2 121.9h0M262.8 118.2h0M267.3 109.7h0M268.7 116.7h0M248.3 132.6h0M254.7 128.9h0M264.1 113.2h0M251.4 128.6h0M249.8 132.6h0M258.1 131h0M248.5 131.6h0M247.7 140.4h0M255.7 121.7h0M263.2 123.7h0M244.7 140.9h0M260.3 120.9h0M263.4 121.4h0M263.3 118h0M267.4 121.3h0M252.6 127.8h0M263.2 118.9h0M247.4 133.6h0M254.9 134.5h0M254.6 131.2h0M251.1 135h0M254.9 131.6h0M248.1 135.7h0M254.2 126.6h0M258.6 121h0M272.7 116h0M265 115.5h0M259.1 130.6h0M262.1 119.1h0M247.6 137.4h0M258.8 124.6h0M252.4 128.9h0M262.2 120.2h0"/><path stroke="#e8509a" d="M250.6 133h0M260.7 116.2h0M245.7 132.4h0M259.5 120.5h0M265.5 121.8h0M269.1 121h0M268.3 115.9h0M269 113.9h0M252.5 128.1h0M262.4 118.6h0M256.1 133.2h0M247.2 133.4h0M259 125.9h0M257.2 132.6h0M264.7 113.1h0M261 122.5h0M262.9 125.8h0M274 114.9h0M256.5 122.9h0M264.2 115.6h0M248.3 137.7h0M244.5 139.3h0M262.6 127.5h0M248.6 133.8h0M247.9 131.2h0M257.2 129.1h0M264.9 113.8h0M250.1 128.8h0M247.8 135.7h0M254.7 129h0M264.9 120.3h0M245.6 132h0M247.1 131.7h0M266.3 112.9h0M271.8 116.6h0M264.3 123h0M262.3 126.4h0M244.3 137h0M262.2 125.8h0M258.6 128.1h0M248.5 137.7h0M269.7 114.9h0M251 134.4h0M258 125.4h0M264.1 114.4h0M257.6 129.3h0M250 128.1h0M244.3 137.6h0M258.6 128.9h0M256.6 129h0M261.8 124.3h0M248.3 138.2h0M268.5 114.8h0M252.4 128.1h0M244.1 134.1h0M258.7 121.9h0M250.3 134.3h0M257.5 127.7h0M252 131.2h0M268.7 115.9h0M260.2 128.9h0"/></g>
<line x1="219.8" y1="152.1" x2="332.6" y2="24.4" stroke="#66664a" stroke-width="0.8"/>
<rect x="213.8" y="17.4" width="118.8" height="134.5" fill="none" stroke="#a0a0a0" stroke-width="1"/>
<text x="334.6" y="23.5" font-size="5.5" fill="#666" stroke="#666" stroke-width="0.22">*</text>
<line x1="210.20000000000002" x2="213.8" y1="152.3" y2="152.3" stroke="#777" stroke-width="0.7"/>
<text x="210.3" y="154.4" font-size="5.8" text-anchor="end" fill="#262626" stroke="#262626" stroke-width="0.22">0,00</text>
<line x1="219.8" x2="219.8" y1="151.9" y2="155.2" stroke="#777" stroke-width="0.7"/>
<text x="219.8" y="162.1" font-size="5.8" text-anchor="middle" fill="#262626" stroke="#262626" stroke-width="0.22">0,00</text>
<line x1="210.20000000000002" x2="213.8" y1="128.3" y2="128.3" stroke="#777" stroke-width="0.7"/>
<text x="210.3" y="130.4" font-size="5.8" text-anchor="end" fill="#262626" stroke="#262626" stroke-width="0.22">0,20</text>
<line x1="241.3" x2="241.3" y1="151.9" y2="155.2" stroke="#777" stroke-width="0.7"/>
<text x="241.3" y="162.1" font-size="5.8" text-anchor="middle" fill="#262626" stroke="#262626" stroke-width="0.22">0,20</text>
<line x1="210.20000000000002" x2="213.8" y1="104.3" y2="104.3" stroke="#777" stroke-width="0.7"/>
<text x="210.3" y="106.4" font-size="5.8" text-anchor="end" fill="#262626" stroke="#262626" stroke-width="0.22">0,40</text>
<line x1="262.8" x2="262.8" y1="151.9" y2="155.2" stroke="#777" stroke-width="0.7"/>
<text x="262.8" y="162.1" font-size="5.8" text-anchor="middle" fill="#262626" stroke="#262626" stroke-width="0.22">0,40</text>
<line x1="210.20000000000002" x2="213.8" y1="80.3" y2="80.3" stroke="#777" stroke-width="0.7"/>
<text x="210.3" y="82.4" font-size="5.8" text-anchor="end" fill="#262626" stroke="#262626" stroke-width="0.22">0,60</text>
<line x1="284.3" x2="284.3" y1="151.9" y2="155.2" stroke="#777" stroke-width="0.7"/>
<text x="284.3" y="162.1" font-size="5.8" text-anchor="middle" fill="#262626" stroke="#262626" stroke-width="0.22">0,60</text>
<line x1="210.20000000000002" x2="213.8" y1="56.3" y2="56.3" stroke="#777" stroke-width="0.7"/>
<text x="210.3" y="58.4" font-size="5.8" text-anchor="end" fill="#262626" stroke="#262626" stroke-width="0.22">0,80</text>
<line x1="305.8" x2="305.8" y1="151.9" y2="155.2" stroke="#777" stroke-width="0.7"/>
<text x="305.8" y="162.1" font-size="5.8" text-anchor="middle" fill="#262626" stroke="#262626" stroke-width="0.22">0,80</text>
<line x1="210.20000000000002" x2="213.8" y1="32.3" y2="32.3" stroke="#777" stroke-width="0.7"/>
<text x="210.3" y="34.4" font-size="5.8" text-anchor="end" fill="#262626" stroke="#262626" stroke-width="0.22">01,00</text>
<line x1="327.3" x2="327.3" y1="151.9" y2="155.2" stroke="#777" stroke-width="0.7"/>
<text x="327.3" y="162.1" font-size="5.8" text-anchor="middle" fill="#262626" stroke="#262626" stroke-width="0.22">01,00</text>
<text x="272.2" y="172.3" font-size="7.15" text-anchor="middle" stroke="#000" stroke-width="0.22">AML average Beta values</text>
<text transform="translate(190.8,81.9) rotate(-90)" font-size="7.1" text-anchor="middle" stroke="#000" stroke-width="0.22">CD34+, CMP &amp; GMP average Beta values</text>
<text x="365.6" y="15.4" font-size="11" font-weight="bold" stroke="#000" stroke-width="0.22">C</text>
<text x="434.3" y="22.8" font-size="12.8" stroke="#000" stroke-width="0.22">Y</text>
<text x="342.1" y="122.6" font-size="12.8" stroke="#000" stroke-width="0.22">X</text>
<text x="508" y="110.5" font-size="12.8" stroke="#000" stroke-width="0.22">Z</text>
<g><circle cx="425.4" cy="70" r="1.7" fill="url(#gb)"/><circle cx="378.8" cy="72.1" r="1.7" fill="url(#gb)"/><circle cx="369.9" cy="89" r="1.7" fill="url(#gb)"/><circle cx="357.8" cy="79" r="1.7" fill="url(#gb)"/><circle cx="413.9" cy="78.2" r="1.7" fill="url(#gb)"/><circle cx="368.2" cy="88.1" r="1.7" fill="url(#gb)"/><circle cx="371" cy="90.9" r="1.7" fill="url(#gb)"/><circle cx="372.2" cy="54.7" r="1.7" fill="url(#gb)"/><circle cx="436.2" cy="49.9" r="1.7" fill="url(#gb)"/><circle cx="410.8" cy="46.5" r="1.7" fill="url(#gb)"/><circle cx="411.1" cy="45" r="1.7" fill="url(#gb)"/><circle cx="403.5" cy="64.5" r="1.7" fill="url(#gb)"/><circle cx="428.1" cy="48.3" r="1.7" fill="url(#gb)"/><circle cx="353.4" cy="85.7" r="1.7" fill="url(#gb)"/><circle cx="428" cy="71.2" r="1.7" fill="url(#gb)"/><circle cx="366.5" cy="57.3" r="1.7" fill="url(#gb)"/><circle cx="405.9" cy="52.1" r="1.7" fill="url(#gb)"/><circle cx="400.3" cy="54.7" r="1.7" fill="url(#gb)"/><circle cx="364.2" cy="62.4" r="1.7" fill="url(#gb)"/><circle cx="417.4" cy="66.8" r="1.7" fill="url(#gb)"/><circle cx="359.2" cy="77.3" r="1.7" fill="url(#gb)"/><circle cx="375.9" cy="87.2" r="1.7" fill="url(#gb)"/><circle cx="358.5" cy="76.4" r="1.7" fill="url(#gb)"/><circle cx="378.7" cy="91.8" r="1.7" fill="url(#gb)"/><circle cx="414.7" cy="67.1" r="1.7" fill="url(#gb)"/><circle cx="404.3" cy="43.1" r="1.7" fill="url(#gb)"/><circle cx="372.2" cy="57.4" r="1.7" fill="url(#gb)"/><circle cx="416.5" cy="55.9" r="1.7" fill="url(#gb)"/><circle cx="384.6" cy="73.9" r="1.7" fill="url(#gb)"/><circle cx="434.9" cy="51.5" r="1.7" fill="url(#gb)"/><circle cx="382.3" cy="47.4" r="1.7" fill="url(#gb)"/><circle cx="359.3" cy="66" r="1.7" fill="url(#gb)"/><circle cx="434.4" cy="40" r="1.7" fill="url(#gb)"/><circle cx="397.1" cy="65" r="1.7" fill="url(#gb)"/><circle cx="354.4" cy="86.4" r="1.7" fill="url(#gb)"/><circle cx="403.9" cy="76.1" r="1.7" fill="url(#gb)"/><circle cx="403" cy="62.1" r="1.7" fill="url(#gb)"/><circle cx="394.3" cy="55.6" r="1.7" fill="url(#gb)"/><circle cx="390.8" cy="66.4" r="1.7" fill="url(#gb)"/><circle cx="349.6" cy="88.8" r="1.7" fill="url(#gb)"/><circle cx="381.9" cy="81.6" r="1.7" fill="url(#gb)"/><circle cx="348.5" cy="91.9" r="1.7" fill="url(#gb)"/><circle cx="405.2" cy="62.3" r="1.7" fill="url(#gb)"/><circle cx="356.9" cy="89.8" r="1.7" fill="url(#gb)"/><circle cx="434.4" cy="57.7" r="1.7" fill="url(#gb)"/><circle cx="425.3" cy="42.6" r="1.7" fill="url(#gb)"/><circle cx="420.8" cy="59.7" r="1.7" fill="url(#gb)"/><circle cx="383.3" cy="49.9" r="1.7" fill="url(#gb)"/><circle cx="393.4" cy="66.4" r="1.7" fill="url(#gb)"/><circle cx="400.9" cy="70.2" r="1.7" fill="url(#gb)"/><circle cx="404.7" cy="57.1" r="1.7" fill="url(#gb)"/><circle cx="410.2" cy="56.3" r="1.7" fill="url(#gb)"/><circle cx="370.2" cy="61" r="1.7" fill="url(#gb)"/><circle cx="402.8" cy="36.5" r="1.7" fill="url(#gb)"/><circle cx="362.8" cy="68.6" r="1.7" fill="url(#gb)"/><circle cx="416.9" cy="62" r="1.7" fill="url(#gb)"/><circle cx="399" cy="69.4" r="1.7" fill="url(#gb)"/><circle cx="356.7" cy="89.1" r="1.7" fill="url(#gb)"/><circle cx="370.3" cy="71.1" r="1.7" fill="url(#gb)"/><circle cx="386.4" cy="85.1" r="1.7" fill="url(#gb)"/><circle cx="401.4" cy="49.7" r="1.7" fill="url(#gb)"/><circle cx="422.2" cy="33.4" r="1.7" fill="url(#gb)"/><circle cx="428.5" cy="67.3" r="1.7" fill="url(#gb)"/><circle cx="388.3" cy="65.2" r="1.7" fill="url(#gb)"/><circle cx="375.8" cy="47.2" r="1.7" fill="url(#gb)"/><circle cx="415" cy="40.5" r="1.7" fill="url(#gb)"/><circle cx="374.2" cy="58.1" r="1.7" fill="url(#gb)"/><circle cx="405" cy="39.9" r="1.7" fill="url(#gb)"/><circle cx="356.5" cy="91.1" r="1.7" fill="url(#gb)"/><circle cx="421.6" cy="41.9" r="1.7" fill="url(#gb)"/><circle cx="356.9" cy="66.9" r="1.7" fill="url(#gb)"/><circle cx="430.6" cy="51.9" r="1.7" fill="url(#gb)"/><circle cx="419.2" cy="32.4" r="1.7" fill="url(#gb)"/><circle cx="393.1" cy="44.7" r="1.7" fill="url(#gb)"/><circle cx="383.5" cy="43.9" r="1.7" fill="url(#gb)"/><circle cx="374.7" cy="74.9" r="1.7" fill="url(#gb)"/><circle cx="383.6" cy="52.3" r="1.7" fill="url(#gb)"/><circle cx="382.9" cy="38.1" r="1.7" fill="url(#gb)"/><circle cx="410.5" cy="59.3" r="1.7" fill="url(#gb)"/><circle cx="415.9" cy="70.4" r="1.7" fill="url(#gb)"/><circle cx="426.7" cy="73.6" r="1.7" fill="url(#gb)"/><circle cx="410" cy="79.6" r="1.7" fill="url(#gb)"/><circle cx="366.8" cy="87.2" r="1.7" fill="url(#gb)"/><circle cx="377.8" cy="84.7" r="1.7" fill="url(#gb)"/><circle cx="355.1" cy="87.1" r="1.7" fill="url(#gb)"/><circle cx="427.5" cy="64.5" r="1.7" fill="url(#gb)"/><circle cx="406.2" cy="57.8" r="1.7" fill="url(#gb)"/><circle cx="373.6" cy="47.2" r="1.7" fill="url(#gb)"/><circle cx="390.6" cy="69.7" r="1.7" fill="url(#gb)"/><circle cx="401" cy="81.7" r="1.7" fill="url(#gb)"/><circle cx="373.6" cy="65.7" r="1.7" fill="url(#gb)"/><circle cx="370.7" cy="58.8" r="1.7" fill="url(#gb)"/><circle cx="356.9" cy="83.2" r="1.7" fill="url(#gb)"/><circle cx="377.5" cy="81.5" r="1.7" fill="url(#gb)"/><circle cx="430.2" cy="56.5" r="1.7" fill="url(#gb)"/><circle cx="411.9" cy="53.3" r="1.7" fill="url(#gb)"/><circle cx="388" cy="79.4" r="1.7" fill="url(#gb)"/><circle cx="386.6" cy="40.7" r="1.7" fill="url(#gb)"/><circle cx="390.3" cy="77.2" r="1.7" fill="url(#gb)"/><circle cx="373.2" cy="65.8" r="1.7" fill="url(#gb)"/><circle cx="398.2" cy="53.3" r="1.7" fill="url(#gb)"/><circle cx="392.4" cy="82.3" r="1.7" fill="url(#gr)"/><circle cx="382.4" cy="76.7" r="1.7" fill="url(#gb)"/><circle cx="417.8" cy="40.1" r="1.7" fill="url(#gb)"/><circle cx="414.4" cy="58" r="1.7" fill="url(#gr)"/><circle cx="380.3" cy="89" r="1.7" fill="url(#gb)"/><circle cx="391.4" cy="78.5" r="1.7" fill="url(#gr)"/><circle cx="396.4" cy="89.3" r="1.7" fill="url(#gr)"/><circle cx="404.9" cy="75.2" r="1.7" fill="url(#gb)"/><circle cx="428.1" cy="41.3" r="1.7" fill="url(#gb)"/><circle cx="376.4" cy="84.3" r="1.7" fill="url(#gr)"/><circle cx="405.1" cy="80.5" r="1.7" fill="url(#gb)"/><circle cx="348.6" cy="91.8" r="1.7" fill="url(#gr)"/><circle cx="405.3" cy="79.7" r="1.7" fill="url(#gb)"/><circle cx="421.3" cy="51" r="1.7" fill="url(#gb)"/><circle cx="398.2" cy="84" r="1.7" fill="url(#gr)"/><circle cx="399.3" cy="64.3" r="1.7" fill="url(#gb)"/><circle cx="380.7" cy="37.9" r="1.7" fill="url(#gb)"/><circle cx="413.5" cy="66.6" r="1.7" fill="url(#gb)"/><circle cx="393.1" cy="86.6" r="1.7" fill="url(#gr)"/><circle cx="407.1" cy="43.7" r="1.7" fill="url(#gb)"/><circle cx="430.4" cy="60.8" r="1.7" fill="url(#gb)"/><circle cx="388.7" cy="85.1" r="1.7" fill="url(#gr)"/><circle cx="416.6" cy="42.2" r="1.7" fill="url(#gb)"/><circle cx="400" cy="31.1" r="1.7" fill="url(#gb)"/><circle cx="346.4" cy="88.5" r="1.7" fill="url(#gb)"/><circle cx="380.7" cy="82.3" r="1.7" fill="url(#gr)"/><circle cx="396.7" cy="74.9" r="1.7" fill="url(#gr)"/><circle cx="357.6" cy="86.7" r="1.7" fill="url(#gb)"/><circle cx="411.9" cy="59.6" r="1.7" fill="url(#gr)"/><circle cx="410.1" cy="61.5" r="1.7" fill="url(#gb)"/><circle cx="372.7" cy="61.1" r="1.7" fill="url(#gb)"/><circle cx="424.7" cy="58.3" r="1.7" fill="url(#gb)"/><circle cx="378.7" cy="87.7" r="1.7" fill="url(#gr)"/><circle cx="427.3" cy="61.6" r="1.7" fill="url(#gb)"/><circle cx="390.5" cy="84.9" r="1.7" fill="url(#gb)"/><circle cx="423.8" cy="49.2" r="1.7" fill="url(#gb)"/><circle cx="402.2" cy="61.9" r="1.7" fill="url(#gb)"/><circle cx="369.3" cy="65.8" r="1.7" fill="url(#gb)"/><circle cx="374" cy="80.5" r="1.7" fill="url(#gr)"/><circle cx="359.2" cy="80.5" r="1.7" fill="url(#gb)"/><circle cx="378.1" cy="87.8" r="1.7" fill="url(#gb)"/><circle cx="386.6" cy="44.3" r="1.7" fill="url(#gb)"/><circle cx="351" cy="90.9" r="1.7" fill="url(#gr)"/><circle cx="373.4" cy="75.7" r="1.7" fill="url(#gb)"/><circle cx="395.2" cy="61.8" r="1.7" fill="url(#gb)"/><circle cx="384.3" cy="89.1" r="1.7" fill="url(#gr)"/><circle cx="360.1" cy="89.4" r="1.7" fill="url(#gb)"/><circle cx="373" cy="83.6" r="1.7" fill="url(#gb)"/><circle cx="413.9" cy="68.3" r="1.7" fill="url(#gb)"/><circle cx="425.4" cy="56.6" r="1.7" fill="url(#gr)"/><circle cx="406.5" cy="67.3" r="1.7" fill="url(#gb)"/><circle cx="367.1" cy="46.8" r="1.7" fill="url(#gb)"/><circle cx="380.3" cy="77.6" r="1.7" fill="url(#gb)"/><circle cx="370.1" cy="78.8" r="1.7" fill="url(#gb)"/><circle cx="385.9" cy="39" r="1.7" fill="url(#gb)"/><circle cx="417.8" cy="55.8" r="1.7" fill="url(#gb)"/><circle cx="368.4" cy="57.9" r="1.7" fill="url(#gb)"/><circle cx="419.2" cy="62.3" r="1.7" fill="url(#gb)"/><circle cx="415.6" cy="56.5" r="1.7" fill="url(#gb)"/><circle cx="413.7" cy="64.7" r="1.7" fill="url(#gb)"/><circle cx="407.6" cy="64.2" r="1.7" fill="url(#gr)"/><circle cx="398.7" cy="85.8" r="1.7" fill="url(#gb)"/><circle cx="399.8" cy="86.7" r="1.7" fill="url(#gb)"/><circle cx="382.1" cy="89.5" r="1.7" fill="url(#gr)"/><circle cx="373.7" cy="87.7" r="1.7" fill="url(#gr)"/><circle cx="413.1" cy="56.8" r="1.7" fill="url(#gb)"/><circle cx="415.7" cy="78.5" r="1.7" fill="url(#gr)"/><circle cx="383.1" cy="90.3" r="1.7" fill="url(#gb)"/><circle cx="359.8" cy="88" r="1.7" fill="url(#gb)"/><circle cx="373" cy="91.2" r="1.7" fill="url(#gr)"/><circle cx="418.2" cy="32.1" r="1.7" fill="url(#gb)"/><circle cx="371.5" cy="63.2" r="1.7" fill="url(#gb)"/><circle cx="361" cy="87.6" r="1.7" fill="url(#gb)"/><circle cx="428.7" cy="67.1" r="1.7" fill="url(#gb)"/><circle cx="397.7" cy="84.5" r="1.7" fill="url(#gr)"/><circle cx="435.8" cy="64.9" r="1.7" fill="url(#gb)"/><circle cx="376.9" cy="66.9" r="1.7" fill="url(#gb)"/><circle cx="423.3" cy="64.3" r="1.7" fill="url(#gb)"/><circle cx="379.5" cy="87.9" r="1.7" fill="url(#gr)"/><circle cx="361.3" cy="82.1" r="1.7" fill="url(#gr)"/><circle cx="464.8" cy="65.9" r="1.7" fill="url(#gr)"/><circle cx="419.2" cy="59.5" r="1.7" fill="url(#gb)"/><circle cx="418" cy="66.5" r="1.7" fill="url(#gb)"/><circle cx="394.6" cy="69.8" r="1.7" fill="url(#gb)"/><circle cx="397.1" cy="54.8" r="1.7" fill="url(#gb)"/><circle cx="413.2" cy="57.2" r="1.7" fill="url(#gr)"/><circle cx="349.9" cy="91.2" r="1.7" fill="url(#gb)"/><circle cx="386.6" cy="71.2" r="1.7" fill="url(#gb)"/><circle cx="409.3" cy="73.9" r="1.7" fill="url(#gr)"/><circle cx="405.1" cy="76.9" r="1.7" fill="url(#gb)"/><circle cx="444.9" cy="49.1" r="1.7" fill="url(#gr)"/><circle cx="386.2" cy="87.2" r="1.7" fill="url(#gb)"/><circle cx="476.5" cy="71.2" r="1.7" fill="url(#gr)"/><circle cx="419.8" cy="59" r="1.7" fill="url(#gb)"/><circle cx="375.8" cy="80" r="1.7" fill="url(#gb)"/><circle cx="375.7" cy="49.6" r="1.7" fill="url(#gb)"/><circle cx="397.4" cy="84.3" r="1.7" fill="url(#gb)"/><circle cx="395.6" cy="76.8" r="1.7" fill="url(#gr)"/><circle cx="459.4" cy="53.7" r="1.7" fill="url(#gr)"/><circle cx="372.9" cy="92.8" r="1.7" fill="url(#gr)"/><circle cx="377.7" cy="39.5" r="1.7" fill="url(#gb)"/><circle cx="403.1" cy="86.6" r="1.7" fill="url(#gr)"/><circle cx="393.1" cy="77.3" r="1.7" fill="url(#gb)"/><circle cx="362.6" cy="76.2" r="1.7" fill="url(#gb)"/><circle cx="411.2" cy="77.9" r="1.7" fill="url(#gb)"/><circle cx="450.1" cy="70.3" r="1.7" fill="url(#gr)"/><circle cx="368.6" cy="88.7" r="1.7" fill="url(#gb)"/><circle cx="471.9" cy="63.7" r="1.7" fill="url(#gr)"/><circle cx="443.5" cy="73.8" r="1.7" fill="url(#gr)"/><circle cx="388.1" cy="59.3" r="1.7" fill="url(#gb)"/><circle cx="428.4" cy="69.7" r="1.7" fill="url(#gb)"/><circle cx="432.4" cy="74" r="1.7" fill="url(#gr)"/><circle cx="472.6" cy="67.2" r="1.7" fill="url(#gr)"/><circle cx="364.5" cy="67.7" r="1.7" fill="url(#gb)"/><circle cx="371.2" cy="89.9" r="1.7" fill="url(#gb)"/><circle cx="413.6" cy="64.4" r="1.7" fill="url(#gb)"/><circle cx="363.6" cy="81.7" r="1.7" fill="url(#gr)"/><circle cx="442.8" cy="56.3" r="1.7" fill="url(#gr)"/><circle cx="459.9" cy="67.9" r="1.7" fill="url(#gr)"/><circle cx="436.6" cy="47.1" r="1.7" fill="url(#gr)"/><circle cx="398.3" cy="85" r="1.7" fill="url(#gb)"/><circle cx="408.4" cy="56.5" r="1.7" fill="url(#gb)"/><circle cx="387" cy="83" r="1.7" fill="url(#gr)"/><circle cx="362.3" cy="59" r="1.7" fill="url(#gb)"/><circle cx="386.3" cy="75.4" r="1.7" fill="url(#gb)"/><circle cx="441.3" cy="46.9" r="1.7" fill="url(#gr)"/><circle cx="358.5" cy="95.9" r="1.7" fill="url(#gr)"/><circle cx="386.9" cy="75.5" r="1.7" fill="url(#gb)"/><circle cx="441.3" cy="42.6" r="1.7" fill="url(#gr)"/><circle cx="380.2" cy="86.6" r="1.7" fill="url(#gr)"/><circle cx="429.5" cy="49.8" r="1.7" fill="url(#gr)"/><circle cx="470.3" cy="75.4" r="1.7" fill="url(#gr)"/><circle cx="430.5" cy="51" r="1.7" fill="url(#gr)"/><circle cx="419" cy="60.1" r="1.7" fill="url(#gr)"/><circle cx="352.1" cy="91.1" r="1.7" fill="url(#gr)"/><circle cx="450.9" cy="56.1" r="1.7" fill="url(#gr)"/><circle cx="397.1" cy="64.3" r="1.7" fill="url(#gb)"/><circle cx="390.1" cy="83.8" r="1.7" fill="url(#gr)"/><circle cx="352.2" cy="89.9" r="1.7" fill="url(#gr)"/><circle cx="464.5" cy="67.6" r="1.7" fill="url(#gr)"/><circle cx="371" cy="78.8" r="1.7" fill="url(#gb)"/><circle cx="412.6" cy="76.8" r="1.7" fill="url(#gr)"/><circle cx="409.3" cy="56.7" r="1.7" fill="url(#gb)"/><circle cx="387.4" cy="69.8" r="1.7" fill="url(#gb)"/><circle cx="389.9" cy="88.8" r="1.7" fill="url(#gr)"/><circle cx="370.3" cy="59.5" r="1.7" fill="url(#gb)"/><circle cx="396" cy="61.9" r="1.7" fill="url(#gb)"/><circle cx="384" cy="79.7" r="1.7" fill="url(#gr)"/><circle cx="485" cy="62.6" r="1.7" fill="url(#gr)"/><circle cx="417.5" cy="41.1" r="1.7" fill="url(#gb)"/><circle cx="367.9" cy="52.3" r="1.7" fill="url(#gb)"/><circle cx="369.7" cy="87.9" r="1.7" fill="url(#gb)"/><circle cx="487.1" cy="64.9" r="1.7" fill="url(#gr)"/><circle cx="393" cy="77.7" r="1.7" fill="url(#gb)"/><circle cx="401.1" cy="40.5" r="1.7" fill="url(#gb)"/><circle cx="409.2" cy="64.3" r="1.7" fill="url(#gb)"/><circle cx="356.5" cy="69.7" r="1.7" fill="url(#gb)"/><circle cx="419.2" cy="33.9" r="1.7" fill="url(#gb)"/><circle cx="382.3" cy="90.4" r="1.7" fill="url(#gr)"/><circle cx="369.7" cy="82.2" r="1.7" fill="url(#gr)"/><circle cx="406.8" cy="50.2" r="1.7" fill="url(#gb)"/><circle cx="463.3" cy="56.1" r="1.7" fill="url(#gr)"/><circle cx="386.9" cy="76.9" r="1.7" fill="url(#gr)"/><circle cx="402.4" cy="42.7" r="1.7" fill="url(#gb)"/><circle cx="410.3" cy="68.9" r="1.7" fill="url(#gb)"/><circle cx="443.1" cy="69.4" r="1.7" fill="url(#gr)"/><circle cx="475.8" cy="72.7" r="1.7" fill="url(#gr)"/><circle cx="441.8" cy="78.3" r="1.7" fill="url(#gr)"/><circle cx="393.6" cy="61.5" r="1.7" fill="url(#gb)"/><circle cx="349.9" cy="87.5" r="1.7" fill="url(#gr)"/><circle cx="441.6" cy="45.8" r="1.7" fill="url(#gr)"/><circle cx="365.2" cy="82.8" r="1.7" fill="url(#gb)"/><circle cx="449.5" cy="73.8" r="1.7" fill="url(#gr)"/><circle cx="471.6" cy="60.3" r="1.7" fill="url(#gr)"/><circle cx="425.7" cy="71.1" r="1.7" fill="url(#gb)"/><circle cx="348.1" cy="91.7" r="1.7" fill="url(#gr)"/><circle cx="436.5" cy="45.6" r="1.7" fill="url(#gr)"/><circle cx="352" cy="84.7" r="1.7" fill="url(#gr)"/><circle cx="487.5" cy="67" r="1.7" fill="url(#gr)"/><circle cx="482.7" cy="70" r="1.7" fill="url(#gr)"/><circle cx="398.1" cy="57.3" r="1.7" fill="url(#gb)"/><circle cx="362.8" cy="82.5" r="1.7" fill="url(#gb)"/><circle cx="390.5" cy="71" r="1.7" fill="url(#gb)"/><circle cx="355.6" cy="70.3" r="1.7" fill="url(#gb)"/><circle cx="383.4" cy="87.6" r="1.7" fill="url(#gb)"/><circle cx="426.4" cy="62.2" r="1.7" fill="url(#gr)"/><circle cx="443.4" cy="56" r="1.7" fill="url(#gr)"/><circle cx="374.2" cy="85.7" r="1.7" fill="url(#gb)"/><circle cx="419.8" cy="57.6" r="1.7" fill="url(#gr)"/><circle cx="427.3" cy="61.1" r="1.7" fill="url(#gr)"/><circle cx="442.6" cy="46.1" r="1.7" fill="url(#gr)"/><circle cx="365.9" cy="91.3" r="1.7" fill="url(#gr)"/><circle cx="459.2" cy="59.5" r="1.7" fill="url(#gr)"/><circle cx="440" cy="59.6" r="1.7" fill="url(#gr)"/><circle cx="365.2" cy="76.6" r="1.7" fill="url(#gr)"/><circle cx="435" cy="60.5" r="1.7" fill="url(#gr)"/><circle cx="437.4" cy="50.6" r="1.7" fill="url(#gb)"/><circle cx="412.1" cy="55.5" r="1.7" fill="url(#gr)"/><circle cx="434.4" cy="47.4" r="1.7" fill="url(#gr)"/><circle cx="416" cy="66.5" r="1.7" fill="url(#gb)"/><circle cx="352.2" cy="86" r="1.7" fill="url(#gr)"/><circle cx="353.4" cy="90.2" r="1.7" fill="url(#gr)"/><circle cx="475.8" cy="65.7" r="1.7" fill="url(#gr)"/><circle cx="440.7" cy="44.9" r="1.7" fill="url(#gr)"/><circle cx="400.8" cy="81.1" r="1.7" fill="url(#gr)"/><circle cx="393.2" cy="90" r="1.7" fill="url(#gr)"/><circle cx="377.5" cy="88.3" r="1.7" fill="url(#gr)"/><circle cx="395.5" cy="51.5" r="1.7" fill="url(#gb)"/><circle cx="473.8" cy="74.4" r="1.7" fill="url(#gr)"/><circle cx="417.6" cy="49" r="1.7" fill="url(#gb)"/><circle cx="398.2" cy="84.6" r="1.7" fill="url(#gr)"/><circle cx="426.8" cy="68.4" r="1.7" fill="url(#gb)"/><circle cx="368.5" cy="80" r="1.7" fill="url(#gr)"/><circle cx="415" cy="66.4" r="1.7" fill="url(#gb)"/><circle cx="371.1" cy="65.9" r="1.7" fill="url(#gb)"/><circle cx="391.6" cy="77.8" r="1.7" fill="url(#gb)"/><circle cx="466.1" cy="70.6" r="1.7" fill="url(#gr)"/><circle cx="355.3" cy="84.8" r="1.7" fill="url(#gr)"/><circle cx="451.3" cy="64.1" r="1.7" fill="url(#gr)"/><circle cx="421.1" cy="67.4" r="1.7" fill="url(#gb)"/><circle cx="454.3" cy="75.2" r="1.7" fill="url(#gr)"/><circle cx="426.1" cy="36.8" r="1.7" fill="url(#gb)"/><circle cx="474.3" cy="71.5" r="1.7" fill="url(#gr)"/><circle cx="376.6" cy="58.5" r="1.7" fill="url(#gb)"/><circle cx="450.3" cy="63.7" r="1.7" fill="url(#gr)"/><circle cx="361.3" cy="78.7" r="1.7" fill="url(#gb)"/><circle cx="455.2" cy="63.2" r="1.7" fill="url(#gr)"/><circle cx="425.2" cy="60.5" r="1.7" fill="url(#gb)"/><circle cx="460" cy="77.4" r="1.7" fill="url(#gr)"/><circle cx="369.5" cy="91.6" r="1.7" fill="url(#gr)"/><circle cx="360.7" cy="75.8" r="1.7" fill="url(#gb)"/><circle cx="428.5" cy="60.2" r="1.7" fill="url(#gr)"/><circle cx="450.2" cy="43.8" r="1.7" fill="url(#gr)"/><circle cx="469.4" cy="67.1" r="1.7" fill="url(#gr)"/><circle cx="368.8" cy="76.6" r="1.7" fill="url(#gr)"/><circle cx="388.8" cy="90.8" r="1.7" fill="url(#gr)"/><circle cx="397.2" cy="52.2" r="1.7" fill="url(#gb)"/><circle cx="426.5" cy="71.6" r="1.7" fill="url(#gr)"/><circle cx="375" cy="88.3" r="1.7" fill="url(#gr)"/><circle cx="349.3" cy="91.6" r="1.7" fill="url(#gr)"/><circle cx="442.4" cy="73" r="1.7" fill="url(#gr)"/><circle cx="414" cy="58.7" r="1.7" fill="url(#gb)"/><circle cx="385.7" cy="78.6" r="1.7" fill="url(#gb)"/><circle cx="444.6" cy="74.5" r="1.7" fill="url(#gr)"/><circle cx="473.2" cy="54.2" r="1.7" fill="url(#gr)"/><circle cx="401" cy="64.1" r="1.7" fill="url(#gb)"/><circle cx="433.2" cy="48.5" r="1.7" fill="url(#gr)"/><circle cx="383.7" cy="63.5" r="1.7" fill="url(#gb)"/><circle cx="440.2" cy="71.5" r="1.7" fill="url(#gr)"/><circle cx="395.3" cy="62.8" r="1.7" fill="url(#gb)"/><circle cx="417" cy="76.6" r="1.7" fill="url(#gb)"/><circle cx="426.2" cy="46.4" r="1.7" fill="url(#gb)"/><circle cx="437.6" cy="58.4" r="1.7" fill="url(#gr)"/><circle cx="356.4" cy="71.9" r="1.7" fill="url(#gb)"/><circle cx="429.2" cy="61.6" r="1.7" fill="url(#gr)"/><circle cx="444.2" cy="47.8" r="1.7" fill="url(#gr)"/><circle cx="463.5" cy="76" r="1.7" fill="url(#gr)"/><circle cx="391.3" cy="39.9" r="1.7" fill="url(#gb)"/><circle cx="439.6" cy="63.8" r="1.7" fill="url(#gr)"/><circle cx="434.9" cy="67.9" r="1.7" fill="url(#gr)"/><circle cx="401.6" cy="71.3" r="1.7" fill="url(#gb)"/><circle cx="443.7" cy="77.7" r="1.7" fill="url(#gr)"/><circle cx="437.3" cy="60.2" r="1.7" fill="url(#gr)"/><circle cx="362.7" cy="88.8" r="1.7" fill="url(#gr)"/><circle cx="374.1" cy="49.8" r="1.7" fill="url(#gb)"/><circle cx="464.3" cy="60.6" r="1.7" fill="url(#gr)"/><circle cx="358.9" cy="66" r="1.7" fill="url(#gb)"/><circle cx="383.1" cy="82.7" r="1.7" fill="url(#gr)"/><circle cx="371.9" cy="86.5" r="1.7" fill="url(#gb)"/><circle cx="376" cy="42" r="1.7" fill="url(#gb)"/><circle cx="406.8" cy="40.8" r="1.7" fill="url(#gb)"/><circle cx="464.3" cy="68.1" r="1.7" fill="url(#gr)"/><circle cx="393.7" cy="90.2" r="1.7" fill="url(#gb)"/><circle cx="389.4" cy="47.7" r="1.7" fill="url(#gb)"/><circle cx="384.4" cy="83.9" r="1.7" fill="url(#gr)"/><circle cx="454.6" cy="47.3" r="1.7" fill="url(#gr)"/><circle cx="398.3" cy="62.9" r="1.7" fill="url(#gr)"/><circle cx="437.2" cy="50.2" r="1.7" fill="url(#gr)"/><circle cx="377" cy="39.3" r="1.7" fill="url(#gb)"/><circle cx="390.4" cy="48.7" r="1.7" fill="url(#gb)"/><circle cx="466.3" cy="61.7" r="1.7" fill="url(#gr)"/><circle cx="381.3" cy="74.5" r="1.7" fill="url(#gr)"/><circle cx="381" cy="84.7" r="1.7" fill="url(#gb)"/><circle cx="484.3" cy="64.5" r="1.7" fill="url(#gr)"/><circle cx="355.8" cy="83.3" r="1.7" fill="url(#gb)"/><circle cx="392.4" cy="69.9" r="1.7" fill="url(#gb)"/><circle cx="427.6" cy="45.9" r="1.7" fill="url(#gb)"/><circle cx="448.2" cy="70.5" r="1.7" fill="url(#gr)"/><circle cx="450.4" cy="75.8" r="1.7" fill="url(#gr)"/><circle cx="399.6" cy="56.6" r="1.7" fill="url(#gb)"/><circle cx="452.9" cy="66.1" r="1.7" fill="url(#gr)"/><circle cx="356.8" cy="68.3" r="1.7" fill="url(#gb)"/><circle cx="452.7" cy="53" r="1.7" fill="url(#gr)"/><circle cx="458.7" cy="52.4" r="1.7" fill="url(#gr)"/><circle cx="460.3" cy="61.8" r="1.7" fill="url(#gr)"/><circle cx="451.3" cy="72.1" r="1.7" fill="url(#gr)"/><circle cx="354.9" cy="82.2" r="1.7" fill="url(#gb)"/><circle cx="470.8" cy="58.6" r="1.7" fill="url(#gr)"/><circle cx="392" cy="81.5" r="1.7" fill="url(#gb)"/><circle cx="391.6" cy="56.6" r="1.7" fill="url(#gb)"/><circle cx="469.7" cy="55.8" r="1.7" fill="url(#gr)"/><circle cx="390.1" cy="89.4" r="1.7" fill="url(#gr)"/><circle cx="460.2" cy="75.9" r="1.7" fill="url(#gr)"/><circle cx="408.8" cy="64.8" r="1.7" fill="url(#gb)"/><circle cx="447.2" cy="63" r="1.7" fill="url(#gr)"/><circle cx="401.3" cy="85.6" r="1.7" fill="url(#gb)"/><circle cx="439.6" cy="56.7" r="1.7" fill="url(#gr)"/><circle cx="358.9" cy="89.1" r="1.7" fill="url(#gr)"/><circle cx="377.3" cy="75.5" r="1.7" fill="url(#gr)"/><circle cx="451.2" cy="45.2" r="1.7" fill="url(#gr)"/><circle cx="379.2" cy="63.8" r="1.7" fill="url(#gb)"/><circle cx="362.4" cy="69.8" r="1.7" fill="url(#gb)"/><circle cx="377.9" cy="71" r="1.7" fill="url(#gb)"/><circle cx="413.8" cy="79.3" r="1.7" fill="url(#gb)"/><circle cx="445" cy="47.7" r="1.7" fill="url(#gr)"/><circle cx="364.8" cy="73.7" r="1.7" fill="url(#gb)"/><circle cx="435.8" cy="49.3" r="1.7" fill="url(#gr)"/><circle cx="414.4" cy="68.4" r="1.7" fill="url(#gb)"/><circle cx="484.8" cy="72.3" r="1.7" fill="url(#gr)"/><circle cx="401.5" cy="68.1" r="1.7" fill="url(#gb)"/><circle cx="451.4" cy="62.6" r="1.7" fill="url(#gr)"/><circle cx="434.4" cy="64.1" r="1.7" fill="url(#gr)"/><circle cx="384.5" cy="84.7" r="1.7" fill="url(#gb)"/><circle cx="358.2" cy="68.5" r="1.7" fill="url(#gb)"/><circle cx="447.9" cy="52.2" r="1.7" fill="url(#gr)"/><circle cx="468.5" cy="76.9" r="1.7" fill="url(#gr)"/><circle cx="406" cy="69.9" r="1.7" fill="url(#gr)"/><circle cx="471.2" cy="74" r="1.7" fill="url(#gr)"/><circle cx="405.1" cy="76.7" r="1.7" fill="url(#gb)"/><circle cx="429" cy="31" r="1.7" fill="url(#gr)"/><circle cx="417" cy="27.5" r="1.7" fill="url(#gb)"/><circle cx="360" cy="62" r="1.7" fill="url(#gr)"/><circle cx="393" cy="33" r="1.7" fill="url(#gb)"/><circle cx="426.8" cy="68.7" r="1.7" fill="url(#gb)"/><circle cx="380.1" cy="76.8" r="1.7" fill="url(#gb)"/><circle cx="426.5" cy="67.7" r="1.7" fill="url(#gb)"/><circle cx="451.2" cy="62.8" r="1.7" fill="url(#gr)"/><circle cx="367.9" cy="91.8" r="1.7" fill="url(#gr)"/><circle cx="421.6" cy="74.4" r="1.7" fill="url(#gr)"/><circle cx="411.2" cy="61.1" r="1.7" fill="url(#gb)"/><circle cx="415.6" cy="62.4" r="1.7" fill="url(#gr)"/><circle cx="387.4" cy="74.3" r="1.7" fill="url(#gr)"/><circle cx="373.1" cy="88.9" r="1.7" fill="url(#gb)"/><circle cx="366.2" cy="93.3" r="1.7" fill="url(#gr)"/><circle cx="435.3" cy="65.3" r="1.7" fill="url(#gb)"/><circle cx="445.9" cy="60.3" r="1.7" fill="url(#gr)"/><circle cx="412.8" cy="63.2" r="1.7" fill="url(#gr)"/><circle cx="439.1" cy="43.9" r="1.7" fill="url(#gr)"/><circle cx="376.1" cy="90.2" r="1.7" fill="url(#gr)"/><circle cx="387.1" cy="80" r="1.7" fill="url(#gr)"/><circle cx="431.2" cy="68.3" r="1.7" fill="url(#gr)"/><circle cx="366.8" cy="89" r="1.7" fill="url(#gb)"/><circle cx="436.1" cy="69.2" r="1.7" fill="url(#gr)"/><circle cx="362.2" cy="88.9" r="1.7" fill="url(#gr)"/><circle cx="374.7" cy="50.1" r="1.7" fill="url(#gb)"/><circle cx="367.5" cy="78" r="1.7" fill="url(#gr)"/><circle cx="451.4" cy="67.4" r="1.7" fill="url(#gr)"/><circle cx="407.2" cy="64.1" r="1.7" fill="url(#gr)"/><circle cx="355.8" cy="92.2" r="1.7" fill="url(#gr)"/><circle cx="355" cy="93.7" r="1.7" fill="url(#gr)"/><circle cx="477.2" cy="68.1" r="1.7" fill="url(#gr)"/><circle cx="404.3" cy="67.1" r="1.7" fill="url(#gb)"/><circle cx="446.1" cy="70.9" r="1.7" fill="url(#gr)"/><circle cx="451.4" cy="64.7" r="1.7" fill="url(#gr)"/><circle cx="434.2" cy="59.1" r="1.7" fill="url(#gb)"/><circle cx="438.8" cy="62.9" r="1.7" fill="url(#gr)"/><circle cx="381.1" cy="78.5" r="1.7" fill="url(#gb)"/><circle cx="412" cy="76" r="1.7" fill="url(#gr)"/><circle cx="378.8" cy="89.4" r="1.7" fill="url(#gr)"/><circle cx="416.9" cy="63.3" r="1.7" fill="url(#gr)"/><circle cx="381.4" cy="89" r="1.7" fill="url(#gr)"/><circle cx="384.5" cy="89.1" r="1.7" fill="url(#gb)"/><circle cx="456.3" cy="67.5" r="1.7" fill="url(#gr)"/><circle cx="442.1" cy="54.3" r="1.7" fill="url(#gr)"/><circle cx="371.7" cy="79.2" r="1.7" fill="url(#gr)"/><circle cx="392.7" cy="82.9" r="1.7" fill="url(#gr)"/><circle cx="374.5" cy="89.9" r="1.7" fill="url(#gr)"/><circle cx="366.5" cy="95" r="1.7" fill="url(#gr)"/><circle cx="397.7" cy="45.2" r="1.7" fill="url(#gb)"/><circle cx="387.9" cy="69.2" r="1.7" fill="url(#gb)"/><circle cx="377.6" cy="91.3" r="1.7" fill="url(#gr)"/><circle cx="398.3" cy="48.9" r="1.7" fill="url(#gb)"/><circle cx="471.5" cy="59.7" r="1.7" fill="url(#gr)"/><circle cx="477.5" cy="76" r="1.7" fill="url(#gr)"/><circle cx="418.6" cy="54.2" r="1.7" fill="url(#gb)"/><circle cx="376.8" cy="85.1" r="1.7" fill="url(#gr)"/><circle cx="388.6" cy="77.5" r="1.7" fill="url(#gr)"/><circle cx="462.8" cy="78.7" r="1.7" fill="url(#gr)"/><circle cx="429.1" cy="70" r="1.7" fill="url(#gb)"/><circle cx="425.8" cy="47.6" r="1.7" fill="url(#gr)"/><circle cx="356.6" cy="74.6" r="1.7" fill="url(#gb)"/><circle cx="431.6" cy="71.4" r="1.7" fill="url(#gr)"/><circle cx="445" cy="72.3" r="1.7" fill="url(#gr)"/><circle cx="415.8" cy="47.3" r="1.7" fill="url(#gb)"/><circle cx="403.2" cy="44.2" r="1.7" fill="url(#gb)"/><circle cx="388" cy="84.7" r="1.7" fill="url(#gb)"/><circle cx="473.8" cy="55.2" r="1.7" fill="url(#gr)"/><circle cx="427" cy="68.8" r="1.7" fill="url(#gr)"/><circle cx="428.4" cy="76.3" r="1.7" fill="url(#gr)"/><circle cx="378.2" cy="79.2" r="1.7" fill="url(#gb)"/><circle cx="421.5" cy="51.7" r="1.7" fill="url(#gb)"/><circle cx="435.7" cy="59.4" r="1.7" fill="url(#gr)"/><circle cx="423.6" cy="45.4" r="1.7" fill="url(#gb)"/><circle cx="391" cy="84" r="1.7" fill="url(#gb)"/><circle cx="470" cy="78.7" r="1.7" fill="url(#gr)"/><circle cx="362.2" cy="84.7" r="1.7" fill="url(#gb)"/><circle cx="381.1" cy="45.1" r="1.7" fill="url(#gb)"/><circle cx="434.8" cy="52" r="1.7" fill="url(#gr)"/><circle cx="395.9" cy="66.5" r="1.7" fill="url(#gb)"/><circle cx="392.2" cy="34.5" r="1.7" fill="url(#gb)"/><circle cx="356.6" cy="69" r="1.7" fill="url(#gb)"/><circle cx="431.4" cy="69.8" r="1.7" fill="url(#gr)"/><circle cx="466.2" cy="78.3" r="1.7" fill="url(#gr)"/><circle cx="396.9" cy="77.3" r="1.7" fill="url(#gr)"/><circle cx="378.2" cy="91.5" r="1.7" fill="url(#gr)"/><circle cx="432.5" cy="75.1" r="1.7" fill="url(#gr)"/><circle cx="377.6" cy="87.3" r="1.7" fill="url(#gb)"/><circle cx="383.6" cy="54.7" r="1.7" fill="url(#gb)"/><circle cx="468.6" cy="80" r="1.7" fill="url(#gr)"/><circle cx="470.7" cy="56" r="1.7" fill="url(#gr)"/><circle cx="385.4" cy="77.1" r="1.7" fill="url(#gb)"/><circle cx="379.3" cy="77.8" r="1.7" fill="url(#gr)"/><circle cx="352.9" cy="79.8" r="1.7" fill="url(#gb)"/><circle cx="459.9" cy="66.6" r="1.7" fill="url(#gr)"/><circle cx="444.3" cy="68.2" r="1.7" fill="url(#gr)"/><circle cx="400" cy="77.8" r="1.7" fill="url(#gb)"/><circle cx="431.1" cy="65.9" r="1.7" fill="url(#gr)"/><circle cx="461.6" cy="63.2" r="1.7" fill="url(#gr)"/><circle cx="479.7" cy="75.5" r="1.7" fill="url(#gr)"/><circle cx="365.7" cy="94.1" r="1.7" fill="url(#gr)"/><circle cx="423" cy="69.2" r="1.7" fill="url(#gb)"/><circle cx="386.3" cy="60.5" r="1.7" fill="url(#gb)"/><circle cx="357.3" cy="89.9" r="1.7" fill="url(#gr)"/><circle cx="365" cy="91.1" r="1.7" fill="url(#gr)"/><circle cx="356.1" cy="80" r="1.7" fill="url(#gb)"/><circle cx="385.8" cy="82.6" r="1.7" fill="url(#gb)"/><circle cx="411.3" cy="60.4" r="1.7" fill="url(#gb)"/><circle cx="439.8" cy="49" r="1.7" fill="url(#gr)"/><circle cx="417.7" cy="75.8" r="1.7" fill="url(#gb)"/><circle cx="440.8" cy="49.8" r="1.7" fill="url(#gr)"/><circle cx="376.3" cy="94" r="1.7" fill="url(#gr)"/><circle cx="447" cy="53.5" r="1.7" fill="url(#gr)"/><circle cx="462.7" cy="76.1" r="1.7" fill="url(#gr)"/><circle cx="398.8" cy="88.1" r="1.7" fill="url(#gr)"/><circle cx="465.7" cy="72.5" r="1.7" fill="url(#gr)"/><circle cx="369.2" cy="91.6" r="1.7" fill="url(#gr)"/><circle cx="449.4" cy="70.2" r="1.7" fill="url(#gr)"/><circle cx="424" cy="48.4" r="1.7" fill="url(#gb)"/><circle cx="377.2" cy="60.4" r="1.7" fill="url(#gb)"/><circle cx="389.4" cy="78.6" r="1.7" fill="url(#gr)"/><circle cx="476.3" cy="60.1" r="1.7" fill="url(#gr)"/><circle cx="425.3" cy="72.4" r="1.7" fill="url(#gb)"/><circle cx="392.5" cy="79.5" r="1.7" fill="url(#gb)"/><circle cx="384.2" cy="86.8" r="1.7" fill="url(#gb)"/><circle cx="395.9" cy="56.2" r="1.7" fill="url(#gb)"/><circle cx="359.5" cy="86.7" r="1.7" fill="url(#gr)"/><circle cx="367.7" cy="87" r="1.7" fill="url(#gb)"/><circle cx="408.9" cy="79.9" r="1.7" fill="url(#gr)"/><circle cx="434.2" cy="57.3" r="1.7" fill="url(#gb)"/><circle cx="390.8" cy="37.9" r="1.7" fill="url(#gb)"/><circle cx="425.8" cy="72.3" r="1.7" fill="url(#gb)"/><circle cx="402.9" cy="70.2" r="1.7" fill="url(#gb)"/><circle cx="435.7" cy="79.9" r="1.7" fill="url(#gr)"/><circle cx="405.2" cy="65" r="1.7" fill="url(#gr)"/><circle cx="352.2" cy="85.2" r="1.7" fill="url(#gr)"/><circle cx="356.2" cy="78" r="1.7" fill="url(#gb)"/><circle cx="376.9" cy="69.8" r="1.7" fill="url(#gb)"/><circle cx="378.5" cy="41.2" r="1.7" fill="url(#gb)"/><circle cx="386.8" cy="88.4" r="1.7" fill="url(#gb)"/><circle cx="394" cy="85.2" r="1.7" fill="url(#gr)"/><circle cx="389.7" cy="75.5" r="1.7" fill="url(#gr)"/><circle cx="368.6" cy="83.3" r="1.7" fill="url(#gb)"/><circle cx="413.3" cy="32" r="1.7" fill="url(#gb)"/><circle cx="377.6" cy="83.9" r="1.7" fill="url(#gb)"/><circle cx="371.9" cy="65.3" r="1.7" fill="url(#gb)"/><circle cx="368" cy="92.3" r="1.7" fill="url(#gr)"/><circle cx="406.6" cy="83.9" r="1.7" fill="url(#gr)"/><circle cx="465.1" cy="59.3" r="1.7" fill="url(#gr)"/><circle cx="471" cy="74.5" r="1.7" fill="url(#gr)"/><circle cx="407.8" cy="56.4" r="1.7" fill="url(#gb)"/><circle cx="373.7" cy="80.8" r="1.7" fill="url(#gb)"/><circle cx="468.7" cy="68.9" r="1.7" fill="url(#gr)"/><circle cx="434.6" cy="75.8" r="1.7" fill="url(#gr)"/><circle cx="382.3" cy="69.2" r="1.7" fill="url(#gb)"/><circle cx="379" cy="88.2" r="1.7" fill="url(#gr)"/><circle cx="414.2" cy="60.4" r="1.7" fill="url(#gb)"/><circle cx="439.5" cy="64.6" r="1.7" fill="url(#gr)"/><circle cx="396.9" cy="63.5" r="1.7" fill="url(#gb)"/><circle cx="473.6" cy="54.9" r="1.7" fill="url(#gr)"/><circle cx="377.5" cy="39.1" r="1.7" fill="url(#gb)"/><circle cx="398.4" cy="50.4" r="1.7" fill="url(#gb)"/><circle cx="478.3" cy="67.8" r="1.7" fill="url(#gr)"/><circle cx="383.8" cy="52.6" r="1.7" fill="url(#gb)"/><circle cx="436.5" cy="49.9" r="1.7" fill="url(#gr)"/><circle cx="390.8" cy="74.5" r="1.7" fill="url(#gb)"/><circle cx="365.5" cy="77.1" r="1.7" fill="url(#gb)"/><circle cx="376.5" cy="89.8" r="1.7" fill="url(#gr)"/><circle cx="365.7" cy="90.5" r="1.7" fill="url(#gb)"/><circle cx="386.7" cy="74.5" r="1.7" fill="url(#gr)"/><circle cx="406.8" cy="79.5" r="1.7" fill="url(#gb)"/><circle cx="418.9" cy="73.5" r="1.7" fill="url(#gb)"/><circle cx="444.1" cy="57.8" r="1.7" fill="url(#gr)"/><circle cx="382.7" cy="53.7" r="1.7" fill="url(#gb)"/><circle cx="381.5" cy="80.6" r="1.7" fill="url(#gb)"/><circle cx="469.3" cy="59.8" r="1.7" fill="url(#gr)"/><circle cx="390.2" cy="48.8" r="1.7" fill="url(#gb)"/><circle cx="373.5" cy="75.3" r="1.7" fill="url(#gr)"/><circle cx="458.8" cy="61.3" r="1.7" fill="url(#gr)"/><circle cx="443.3" cy="69.9" r="1.7" fill="url(#gr)"/><circle cx="370.3" cy="75.4" r="1.7" fill="url(#gb)"/><circle cx="365.3" cy="84.8" r="1.7" fill="url(#gr)"/><circle cx="351.3" cy="87.9" r="1.7" fill="url(#gr)"/><circle cx="427.1" cy="68.8" r="1.7" fill="url(#gr)"/><circle cx="381" cy="67" r="1.7" fill="url(#gb)"/><circle cx="407.2" cy="74.8" r="1.7" fill="url(#gb)"/><circle cx="378.3" cy="51.6" r="1.7" fill="url(#gb)"/><circle cx="367.6" cy="90.1" r="1.7" fill="url(#gb)"/><circle cx="438.6" cy="52.1" r="1.7" fill="url(#gr)"/><circle cx="422.7" cy="39.3" r="1.7" fill="url(#gb)"/><circle cx="398.4" cy="83.8" r="1.7" fill="url(#gr)"/><circle cx="407.5" cy="63.1" r="1.7" fill="url(#gr)"/><circle cx="446" cy="57.5" r="1.7" fill="url(#gr)"/><circle cx="370.9" cy="80.7" r="1.7" fill="url(#gr)"/><circle cx="402" cy="83.2" r="1.7" fill="url(#gr)"/><circle cx="392.7" cy="88.2" r="1.7" fill="url(#gb)"/><circle cx="439" cy="75.7" r="1.7" fill="url(#gr)"/><circle cx="483.1" cy="71.5" r="1.7" fill="url(#gr)"/><circle cx="481.9" cy="60.8" r="1.7" fill="url(#gr)"/><circle cx="419.5" cy="34.7" r="1.7" fill="url(#gb)"/><circle cx="388.2" cy="52.3" r="1.7" fill="url(#gb)"/><circle cx="392.9" cy="84.4" r="1.7" fill="url(#gr)"/><circle cx="475.7" cy="72" r="1.7" fill="url(#gr)"/><circle cx="470.1" cy="53.4" r="1.7" fill="url(#gr)"/><circle cx="416.6" cy="65" r="1.7" fill="url(#gb)"/><circle cx="395.7" cy="90.9" r="1.7" fill="url(#gr)"/><circle cx="464.3" cy="67.3" r="1.7" fill="url(#gr)"/><circle cx="465.7" cy="54.6" r="1.7" fill="url(#gr)"/><circle cx="472.4" cy="76.7" r="1.7" fill="url(#gr)"/><circle cx="358.1" cy="80.8" r="1.7" fill="url(#gr)"/><circle cx="377.8" cy="51.7" r="1.7" fill="url(#gb)"/><circle cx="382.9" cy="55.7" r="1.7" fill="url(#gb)"/><circle cx="433.1" cy="52.7" r="1.7" fill="url(#gr)"/><circle cx="362.7" cy="67.7" r="1.7" fill="url(#gb)"/><circle cx="366.4" cy="86.8" r="1.7" fill="url(#gr)"/><circle cx="368.7" cy="79.4" r="1.7" fill="url(#gb)"/><circle cx="374.9" cy="68" r="1.7" fill="url(#gb)"/><circle cx="451.9" cy="75.2" r="1.7" fill="url(#gr)"/><circle cx="401.5" cy="83.3" r="1.7" fill="url(#gb)"/><circle cx="357.9" cy="86.6" r="1.7" fill="url(#gb)"/><circle cx="478.4" cy="74.1" r="1.7" fill="url(#gr)"/><circle cx="430" cy="46.2" r="1.7" fill="url(#gr)"/><circle cx="426" cy="61.1" r="1.7" fill="url(#gb)"/><circle cx="461.1" cy="54.4" r="1.7" fill="url(#gr)"/><circle cx="355.8" cy="92.2" r="1.7" fill="url(#gr)"/><circle cx="415.3" cy="78" r="1.7" fill="url(#gb)"/><circle cx="485.7" cy="70.3" r="1.7" fill="url(#gr)"/><circle cx="423.6" cy="71.8" r="1.7" fill="url(#gr)"/><circle cx="430.6" cy="75.4" r="1.7" fill="url(#gr)"/><circle cx="380.7" cy="47" r="1.7" fill="url(#gb)"/><circle cx="372.5" cy="87.7" r="1.7" fill="url(#gb)"/><circle cx="379.8" cy="80.4" r="1.7" fill="url(#gb)"/><circle cx="347.4" cy="89.7" r="1.7" fill="url(#gr)"/><circle cx="437.5" cy="54" r="1.7" fill="url(#gb)"/><circle cx="454.6" cy="45.7" r="1.7" fill="url(#gr)"/><circle cx="376.1" cy="95" r="1.7" fill="url(#gb)"/><circle cx="464.8" cy="78.6" r="1.7" fill="url(#gr)"/><circle cx="372.4" cy="84.1" r="1.7" fill="url(#gr)"/><circle cx="415.5" cy="65" r="1.7" fill="url(#gr)"/><circle cx="417.4" cy="77.8" r="1.7" fill="url(#gr)"/><circle cx="415.8" cy="70.4" r="1.7" fill="url(#gb)"/><circle cx="458.1" cy="68.3" r="1.7" fill="url(#gr)"/><circle cx="395.6" cy="59.6" r="1.7" fill="url(#gb)"/><circle cx="479.7" cy="67.7" r="1.7" fill="url(#gr)"/><circle cx="454.9" cy="50.7" r="1.7" fill="url(#gr)"/><circle cx="453.5" cy="62.7" r="1.7" fill="url(#gr)"/><circle cx="460.7" cy="57" r="1.7" fill="url(#gr)"/><circle cx="438.5" cy="67.7" r="1.7" fill="url(#gr)"/><circle cx="454.3" cy="62.6" r="1.7" fill="url(#gr)"/><circle cx="406.2" cy="63.6" r="1.7" fill="url(#gr)"/><circle cx="466.2" cy="61.7" r="1.7" fill="url(#gr)"/><circle cx="371.5" cy="75.3" r="1.7" fill="url(#gb)"/><circle cx="362.3" cy="61.8" r="1.7" fill="url(#gb)"/><circle cx="412.5" cy="39.9" r="1.7" fill="url(#gb)"/><circle cx="444.7" cy="60.3" r="1.7" fill="url(#gr)"/><circle cx="434.4" cy="70.4" r="1.7" fill="url(#gr)"/><circle cx="416.5" cy="61" r="1.7" fill="url(#gb)"/><circle cx="460.4" cy="77.6" r="1.7" fill="url(#gr)"/><circle cx="389.5" cy="63.5" r="1.7" fill="url(#gb)"/><circle cx="388.3" cy="75.8" r="1.7" fill="url(#gb)"/><circle cx="418.7" cy="74.1" r="1.7" fill="url(#gb)"/><circle cx="430.9" cy="62.4" r="1.7" fill="url(#gr)"/><circle cx="355.6" cy="93.2" r="1.7" fill="url(#gr)"/><circle cx="447.9" cy="78.8" r="1.7" fill="url(#gr)"/><circle cx="345.6" cy="90.9" r="1.7" fill="url(#gr)"/><circle cx="377.1" cy="92.5" r="1.7" fill="url(#gr)"/><circle cx="402.3" cy="64.3" r="1.7" fill="url(#gb)"/><circle cx="411.9" cy="55.4" r="1.7" fill="url(#gb)"/><circle cx="449.5" cy="66.9" r="1.7" fill="url(#gr)"/><circle cx="379.3" cy="66.6" r="1.7" fill="url(#gb)"/><circle cx="459.1" cy="61.4" r="1.7" fill="url(#gr)"/><circle cx="353.4" cy="99.6" r="1.7" fill="url(#gb)"/><circle cx="360" cy="93.7" r="1.7" fill="url(#gb)"/><circle cx="371" cy="97.6" r="1.7" fill="url(#gb)"/><circle cx="410.9" cy="74.6" r="1.7" fill="url(#gr)"/><circle cx="390.6" cy="36.9" r="1.7" fill="url(#gb)"/><circle cx="437.6" cy="51.3" r="1.7" fill="url(#gb)"/><circle cx="456.8" cy="64.3" r="1.7" fill="url(#gr)"/><circle cx="347.1" cy="90.7" r="1.7" fill="url(#gr)"/><circle cx="475.7" cy="67" r="1.7" fill="url(#gr)"/><circle cx="398.2" cy="80.7" r="1.7" fill="url(#gr)"/><circle cx="395.3" cy="75.9" r="1.7" fill="url(#gr)"/><circle cx="354.1" cy="84.7" r="1.7" fill="url(#gr)"/><circle cx="446.7" cy="68.4" r="1.7" fill="url(#gr)"/><circle cx="483" cy="67.6" r="1.7" fill="url(#gr)"/><circle cx="407.3" cy="68.5" r="1.7" fill="url(#gb)"/><circle cx="448.5" cy="54" r="1.7" fill="url(#gr)"/><circle cx="434.7" cy="63" r="1.7" fill="url(#gr)"/><circle cx="373.3" cy="82.5" r="1.7" fill="url(#gr)"/><circle cx="382.4" cy="91.1" r="1.7" fill="url(#gr)"/><circle cx="376.2" cy="87.3" r="1.7" fill="url(#gr)"/><circle cx="389.8" cy="90.1" r="1.7" fill="url(#gr)"/><circle cx="461.6" cy="54" r="1.7" fill="url(#gr)"/><circle cx="396.5" cy="85.9" r="1.7" fill="url(#gr)"/><circle cx="394.1" cy="76.6" r="1.7" fill="url(#gr)"/><circle cx="413.3" cy="67.8" r="1.7" fill="url(#gb)"/><circle cx="410.9" cy="58.1" r="1.7" fill="url(#gb)"/><circle cx="379.4" cy="81.1" r="1.7" fill="url(#gb)"/><circle cx="348.5" cy="95.7" r="1.7" fill="url(#gr)"/><circle cx="391.9" cy="58.7" r="1.7" fill="url(#gb)"/><circle cx="349.6" cy="93.3" r="1.7" fill="url(#gr)"/><circle cx="355.4" cy="94.4" r="1.7" fill="url(#gr)"/><circle cx="432.7" cy="78.8" r="1.7" fill="url(#gr)"/><circle cx="374.5" cy="91.2" r="1.7" fill="url(#gb)"/><circle cx="418" cy="48.6" r="1.7" fill="url(#gb)"/><circle cx="441.4" cy="76" r="1.7" fill="url(#gr)"/><circle cx="391.3" cy="62.4" r="1.7" fill="url(#gb)"/><circle cx="445.4" cy="51.9" r="1.7" fill="url(#gr)"/><circle cx="451.9" cy="60.4" r="1.7" fill="url(#gr)"/><circle cx="462.9" cy="49.5" r="1.7" fill="url(#gr)"/><circle cx="428.6" cy="53.3" r="1.7" fill="url(#gr)"/><circle cx="436.8" cy="70.2" r="1.7" fill="url(#gr)"/><circle cx="426.2" cy="58.6" r="1.7" fill="url(#gb)"/><circle cx="381.4" cy="77.5" r="1.7" fill="url(#gr)"/><circle cx="371.8" cy="90.7" r="1.7" fill="url(#gr)"/><circle cx="400.7" cy="79.5" r="1.7" fill="url(#gb)"/><circle cx="406.6" cy="37.9" r="1.7" fill="url(#gb)"/><circle cx="425.4" cy="72.2" r="1.7" fill="url(#gr)"/><circle cx="430.8" cy="59.6" r="1.7" fill="url(#gb)"/><circle cx="439.8" cy="42.5" r="1.7" fill="url(#gr)"/><circle cx="481.3" cy="73.3" r="1.7" fill="url(#gr)"/><circle cx="393.4" cy="58.8" r="1.7" fill="url(#gb)"/><circle cx="393.5" cy="79.4" r="1.7" fill="url(#gr)"/><circle cx="483.2" cy="63.1" r="1.7" fill="url(#gr)"/><circle cx="383.9" cy="77" r="1.7" fill="url(#gb)"/><circle cx="384.5" cy="92.8" r="1.7" fill="url(#gr)"/><circle cx="443.5" cy="80.6" r="1.7" fill="url(#gr)"/><circle cx="357.1" cy="95.8" r="1.7" fill="url(#gr)"/><circle cx="399.5" cy="82.9" r="1.7" fill="url(#gb)"/><circle cx="392.2" cy="77.7" r="1.7" fill="url(#gr)"/><circle cx="435.7" cy="73" r="1.7" fill="url(#gr)"/><circle cx="375.2" cy="70.9" r="1.7" fill="url(#gb)"/><circle cx="418.7" cy="75.8" r="1.7" fill="url(#gb)"/><circle cx="348.9" cy="88.8" r="1.7" fill="url(#gr)"/><circle cx="478" cy="67.6" r="1.7" fill="url(#gr)"/><circle cx="433.4" cy="44.4" r="1.7" fill="url(#gr)"/><circle cx="393.8" cy="89.4" r="1.7" fill="url(#gr)"/><circle cx="386.7" cy="90" r="1.7" fill="url(#gb)"/><circle cx="434.7" cy="60.6" r="1.7" fill="url(#gr)"/><circle cx="428" cy="77.8" r="1.7" fill="url(#gr)"/><circle cx="409.4" cy="63.8" r="1.7" fill="url(#gb)"/><circle cx="377.9" cy="90" r="1.7" fill="url(#gr)"/><circle cx="400.2" cy="41.5" r="1.7" fill="url(#gb)"/><circle cx="373.6" cy="85.9" r="1.7" fill="url(#gr)"/><circle cx="449.8" cy="52.9" r="1.7" fill="url(#gr)"/><circle cx="367.6" cy="51.8" r="1.7" fill="url(#gb)"/><circle cx="411.2" cy="75.1" r="1.7" fill="url(#gr)"/><circle cx="427.5" cy="54.5" r="1.7" fill="url(#gr)"/><circle cx="374.9" cy="49.1" r="1.7" fill="url(#gb)"/><circle cx="384.2" cy="57.2" r="1.7" fill="url(#gb)"/><circle cx="436.4" cy="48.7" r="1.7" fill="url(#gb)"/><circle cx="413" cy="76.1" r="1.7" fill="url(#gb)"/><circle cx="406.1" cy="81.7" r="1.7" fill="url(#gr)"/><circle cx="377.1" cy="78.4" r="1.7" fill="url(#gr)"/><circle cx="394.4" cy="70.6" r="1.7" fill="url(#gb)"/><circle cx="387.7" cy="81.2" r="1.7" fill="url(#gb)"/><circle cx="436.5" cy="80.3" r="1.7" fill="url(#gr)"/><circle cx="379.2" cy="83.4" r="1.7" fill="url(#gr)"/><circle cx="385.2" cy="67.5" r="1.7" fill="url(#gb)"/><circle cx="474.7" cy="55.8" r="1.7" fill="url(#gr)"/><circle cx="359.2" cy="77.4" r="1.7" fill="url(#gb)"/><circle cx="398.2" cy="78.1" r="1.7" fill="url(#gr)"/><circle cx="350.7" cy="89.1" r="1.7" fill="url(#gr)"/><circle cx="350.3" cy="92.7" r="1.7" fill="url(#gr)"/><circle cx="428.1" cy="36.6" r="1.7" fill="url(#gb)"/><circle cx="369.4" cy="95.1" r="1.7" fill="url(#gb)"/><circle cx="401.7" cy="34.9" r="1.7" fill="url(#gb)"/><circle cx="374" cy="81.1" r="1.7" fill="url(#gr)"/><circle cx="396" cy="76.1" r="1.7" fill="url(#gb)"/><circle cx="449.2" cy="59.5" r="1.7" fill="url(#gr)"/><circle cx="468.1" cy="72.4" r="1.7" fill="url(#gr)"/><circle cx="390.3" cy="79.2" r="1.7" fill="url(#gb)"/><circle cx="406" cy="65.9" r="1.7" fill="url(#gr)"/><circle cx="378.5" cy="67.3" r="1.7" fill="url(#gb)"/><circle cx="389.3" cy="87.6" r="1.7" fill="url(#gr)"/><circle cx="478.2" cy="59.6" r="1.7" fill="url(#gr)"/><circle cx="447.8" cy="61.7" r="1.7" fill="url(#gr)"/><circle cx="386.8" cy="58.6" r="1.7" fill="url(#gb)"/><circle cx="393.3" cy="82" r="1.7" fill="url(#gb)"/><circle cx="373.1" cy="80.4" r="1.7" fill="url(#gr)"/><circle cx="437.1" cy="45.2" r="1.7" fill="url(#gr)"/><circle cx="386.6" cy="75.5" r="1.7" fill="url(#gr)"/><circle cx="446.1" cy="77.3" r="1.7" fill="url(#gr)"/><circle cx="442.6" cy="74.4" r="1.7" fill="url(#gr)"/><circle cx="478.5" cy="68.8" r="1.7" fill="url(#gr)"/><circle cx="350.9" cy="87.3" r="1.7" fill="url(#gr)"/><circle cx="353.2" cy="90.7" r="1.7" fill="url(#gb)"/><circle cx="479" cy="68.4" r="1.7" fill="url(#gr)"/><circle cx="377.4" cy="76.8" r="1.7" fill="url(#gb)"/><circle cx="451.3" cy="74.6" r="1.7" fill="url(#gr)"/><circle cx="436.4" cy="59.9" r="1.7" fill="url(#gr)"/><circle cx="419.8" cy="39.8" r="1.7" fill="url(#gb)"/><circle cx="456.5" cy="61.1" r="1.7" fill="url(#gr)"/><circle cx="367.3" cy="74.6" r="1.7" fill="url(#gb)"/><circle cx="400" cy="71" r="1.7" fill="url(#gb)"/><circle cx="439.9" cy="47" r="1.7" fill="url(#gr)"/><circle cx="429.3" cy="44.4" r="1.7" fill="url(#gr)"/><circle cx="480" cy="64.7" r="1.7" fill="url(#gr)"/><circle cx="360.7" cy="87.6" r="1.7" fill="url(#gr)"/><circle cx="437.8" cy="78.2" r="1.7" fill="url(#gr)"/><circle cx="448" cy="44" r="1.7" fill="url(#gr)"/><circle cx="352.7" cy="93.7" r="1.7" fill="url(#gb)"/><circle cx="430.4" cy="45" r="1.7" fill="url(#gb)"/><circle cx="475" cy="72.4" r="1.7" fill="url(#gr)"/><circle cx="357.8" cy="72.6" r="1.7" fill="url(#gb)"/><circle cx="403" cy="63.6" r="1.7" fill="url(#gb)"/><circle cx="414.4" cy="65.7" r="1.7" fill="url(#gb)"/><circle cx="409.8" cy="63.2" r="1.7" fill="url(#gb)"/><circle cx="372.4" cy="59.1" r="1.7" fill="url(#gb)"/><circle cx="362.9" cy="56.2" r="1.7" fill="url(#gb)"/><circle cx="395.5" cy="83.3" r="1.7" fill="url(#gb)"/><circle cx="400.8" cy="77.5" r="1.7" fill="url(#gr)"/><circle cx="471.6" cy="78.3" r="1.7" fill="url(#gr)"/><circle cx="432.9" cy="50.3" r="1.7" fill="url(#gb)"/><circle cx="471.6" cy="73.7" r="1.7" fill="url(#gr)"/><circle cx="419.8" cy="46.3" r="1.7" fill="url(#gb)"/><circle cx="411.2" cy="48" r="1.7" fill="url(#gb)"/><circle cx="382.9" cy="83.8" r="1.7" fill="url(#gr)"/><circle cx="408.5" cy="82.3" r="1.7" fill="url(#gr)"/><circle cx="412.7" cy="57.9" r="1.7" fill="url(#gb)"/><circle cx="436.7" cy="53.5" r="1.7" fill="url(#gr)"/><circle cx="404.1" cy="50.2" r="1.7" fill="url(#gb)"/><circle cx="371.7" cy="60.7" r="1.7" fill="url(#gb)"/><circle cx="365.7" cy="85.7" r="1.7" fill="url(#gr)"/><circle cx="384.8" cy="92.4" r="1.7" fill="url(#gr)"/><circle cx="362" cy="65.7" r="1.7" fill="url(#gb)"/><circle cx="433" cy="64.9" r="1.7" fill="url(#gr)"/><circle cx="422.3" cy="49.1" r="1.7" fill="url(#gb)"/><circle cx="463.4" cy="66.2" r="1.7" fill="url(#gr)"/><circle cx="433.7" cy="45.5" r="1.7" fill="url(#gb)"/><circle cx="452.7" cy="66.6" r="1.7" fill="url(#gr)"/><circle cx="407.5" cy="49.4" r="1.7" fill="url(#gb)"/><circle cx="364.9" cy="89.7" r="1.7" fill="url(#gr)"/><circle cx="459.3" cy="69.6" r="1.7" fill="url(#gr)"/><circle cx="380.3" cy="81" r="1.7" fill="url(#gr)"/><circle cx="393.2" cy="91.4" r="1.7" fill="url(#gr)"/><circle cx="423.4" cy="47.7" r="1.7" fill="url(#gb)"/><circle cx="361.5" cy="81.8" r="1.7" fill="url(#gb)"/><circle cx="444" cy="58.4" r="1.7" fill="url(#gr)"/><circle cx="387.1" cy="90" r="1.7" fill="url(#gb)"/><circle cx="440.6" cy="53.5" r="1.7" fill="url(#gr)"/><circle cx="387.8" cy="88.2" r="1.7" fill="url(#gr)"/><circle cx="374" cy="97" r="1.7" fill="url(#gb)"/><circle cx="432.2" cy="75" r="1.7" fill="url(#gr)"/><circle cx="446.6" cy="45.5" r="1.7" fill="url(#gr)"/><circle cx="450.6" cy="77.9" r="1.7" fill="url(#gr)"/><circle cx="405.5" cy="81.8" r="1.7" fill="url(#gr)"/><circle cx="389.4" cy="60.6" r="1.7" fill="url(#gb)"/><circle cx="401.6" cy="79" r="1.7" fill="url(#gr)"/><circle cx="370.6" cy="94.5" r="1.7" fill="url(#gb)"/><circle cx="424.4" cy="39.7" r="1.7" fill="url(#gb)"/><circle cx="432.2" cy="43.9" r="1.7" fill="url(#gr)"/><circle cx="434.4" cy="61" r="1.7" fill="url(#gr)"/><circle cx="481" cy="70" r="1.7" fill="url(#gr)"/><circle cx="470.4" cy="75.2" r="1.7" fill="url(#gr)"/><circle cx="460.2" cy="49.7" r="1.7" fill="url(#gr)"/><circle cx="364.9" cy="95.1" r="1.7" fill="url(#gr)"/><circle cx="373.3" cy="67.5" r="1.7" fill="url(#gb)"/><circle cx="356.7" cy="68.8" r="1.7" fill="url(#gb)"/><circle cx="361" cy="98.2" r="1.7" fill="url(#gb)"/><circle cx="381.1" cy="63.7" r="1.7" fill="url(#gb)"/><circle cx="464.8" cy="61" r="1.7" fill="url(#gr)"/><circle cx="366.8" cy="89.8" r="1.7" fill="url(#gb)"/><circle cx="366.3" cy="78.6" r="1.7" fill="url(#gr)"/><circle cx="354.7" cy="76" r="1.7" fill="url(#gb)"/><circle cx="374.9" cy="53.4" r="1.7" fill="url(#gb)"/><circle cx="415.6" cy="62.6" r="1.7" fill="url(#gb)"/><circle cx="452.3" cy="64" r="1.7" fill="url(#gr)"/><circle cx="350.7" cy="85.8" r="1.7" fill="url(#gr)"/><circle cx="363.5" cy="83.1" r="1.7" fill="url(#gb)"/><circle cx="385.8" cy="83.3" r="1.7" fill="url(#gr)"/><circle cx="398.9" cy="89.7" r="1.7" fill="url(#gr)"/><circle cx="371" cy="42" r="1.7" fill="url(#gb)"/><circle cx="449.7" cy="51.7" r="1.7" fill="url(#gr)"/><circle cx="376.3" cy="90.1" r="1.7" fill="url(#gr)"/><circle cx="420.8" cy="40.9" r="1.7" fill="url(#gb)"/><circle cx="371.6" cy="61.5" r="1.7" fill="url(#gb)"/><circle cx="399.8" cy="35.2" r="1.7" fill="url(#gb)"/><circle cx="468.9" cy="77.5" r="1.7" fill="url(#gr)"/><circle cx="358" cy="88.9" r="1.7" fill="url(#gr)"/><circle cx="372.3" cy="83.4" r="1.7" fill="url(#gr)"/><circle cx="372.1" cy="77.4" r="1.7" fill="url(#gb)"/><circle cx="438.2" cy="54.5" r="1.7" fill="url(#gr)"/><circle cx="345.7" cy="91.5" r="1.7" fill="url(#gr)"/><circle cx="371" cy="75.5" r="1.7" fill="url(#gb)"/><circle cx="447.5" cy="75.9" r="1.7" fill="url(#gr)"/><circle cx="456" cy="56.4" r="1.7" fill="url(#gr)"/><circle cx="361.7" cy="90.2" r="1.7" fill="url(#gr)"/><circle cx="472.7" cy="68.7" r="1.7" fill="url(#gr)"/><circle cx="435.2" cy="56.4" r="1.7" fill="url(#gr)"/><circle cx="403.1" cy="43.2" r="1.7" fill="url(#gb)"/><circle cx="391" cy="79.2" r="1.7" fill="url(#gb)"/><circle cx="407.4" cy="76" r="1.7" fill="url(#gr)"/><circle cx="464.9" cy="56.7" r="1.7" fill="url(#gr)"/><circle cx="352" cy="85.1" r="1.7" fill="url(#gb)"/><circle cx="433.7" cy="51" r="1.7" fill="url(#gb)"/><circle cx="457.9" cy="79.2" r="1.7" fill="url(#gr)"/><circle cx="369.6" cy="84.1" r="1.7" fill="url(#gr)"/><circle cx="393.4" cy="80.2" r="1.7" fill="url(#gr)"/><circle cx="425.9" cy="71.3" r="1.7" fill="url(#gr)"/><circle cx="357.1" cy="87.1" r="1.7" fill="url(#gr)"/><circle cx="414.4" cy="49.9" r="1.7" fill="url(#gb)"/><circle cx="394.5" cy="80" r="1.7" fill="url(#gr)"/><circle cx="438.7" cy="65.8" r="1.7" fill="url(#gr)"/><circle cx="365.1" cy="81.5" r="1.7" fill="url(#gb)"/><circle cx="453.9" cy="72.7" r="1.7" fill="url(#gr)"/><circle cx="370.6" cy="86.4" r="1.7" fill="url(#gb)"/><circle cx="426.7" cy="38.2" r="1.7" fill="url(#gb)"/><circle cx="412.1" cy="47.6" r="1.7" fill="url(#gb)"/><circle cx="419.3" cy="60.7" r="1.7" fill="url(#gb)"/><circle cx="410.2" cy="59.9" r="1.7" fill="url(#gb)"/><circle cx="350.4" cy="84.6" r="1.7" fill="url(#gr)"/><circle cx="366.6" cy="92.3" r="1.7" fill="url(#gb)"/><circle cx="435" cy="64.8" r="1.7" fill="url(#gr)"/><circle cx="475.9" cy="71.2" r="1.7" fill="url(#gr)"/><circle cx="427.2" cy="74" r="1.7" fill="url(#gr)"/><circle cx="436.8" cy="64.1" r="1.7" fill="url(#gr)"/><circle cx="375.1" cy="87.2" r="1.7" fill="url(#gb)"/><circle cx="451.1" cy="63.7" r="1.7" fill="url(#gr)"/><circle cx="420.3" cy="74.6" r="1.7" fill="url(#gr)"/><circle cx="359.2" cy="89.4" r="1.7" fill="url(#gr)"/><circle cx="364.4" cy="80.4" r="1.7" fill="url(#gr)"/><circle cx="441.9" cy="68.1" r="1.7" fill="url(#gr)"/><circle cx="392.8" cy="89.9" r="1.7" fill="url(#gr)"/><circle cx="440.2" cy="79.6" r="1.7" fill="url(#gr)"/><circle cx="474.9" cy="58.4" r="1.7" fill="url(#gr)"/><circle cx="404.8" cy="71.2" r="1.7" fill="url(#gr)"/><circle cx="370.9" cy="55.6" r="1.7" fill="url(#gb)"/><circle cx="354" cy="95.4" r="1.7" fill="url(#gr)"/><circle cx="354.8" cy="71.6" r="1.7" fill="url(#gb)"/><circle cx="396.9" cy="88.7" r="1.7" fill="url(#gr)"/><circle cx="434.6" cy="62.5" r="1.7" fill="url(#gb)"/><circle cx="392.8" cy="78.8" r="1.7" fill="url(#gr)"/><circle cx="425.2" cy="69.9" r="1.7" fill="url(#gr)"/><circle cx="372.9" cy="58.7" r="1.7" fill="url(#gb)"/><circle cx="381.5" cy="47.6" r="1.7" fill="url(#gb)"/><circle cx="436" cy="58.1" r="1.7" fill="url(#gb)"/><circle cx="448" cy="49.4" r="1.7" fill="url(#gr)"/><circle cx="378.9" cy="67.2" r="1.7" fill="url(#gb)"/><circle cx="350.5" cy="85.2" r="1.7" fill="url(#gb)"/><circle cx="418.7" cy="34.8" r="1.7" fill="url(#gb)"/><circle cx="376.1" cy="90" r="1.7" fill="url(#gb)"/><circle cx="362.8" cy="90.4" r="1.7" fill="url(#gr)"/><circle cx="395.2" cy="84.5" r="1.7" fill="url(#gb)"/><circle cx="392.5" cy="83" r="1.7" fill="url(#gb)"/><circle cx="479.9" cy="63.9" r="1.7" fill="url(#gr)"/><circle cx="423.1" cy="39.8" r="1.7" fill="url(#gb)"/><circle cx="379.3" cy="91" r="1.7" fill="url(#gr)"/><circle cx="379.9" cy="78" r="1.7" fill="url(#gb)"/><circle cx="453.5" cy="72.9" r="1.7" fill="url(#gr)"/><circle cx="369.1" cy="86.2" r="1.7" fill="url(#gb)"/><circle cx="353" cy="89.4" r="1.7" fill="url(#gr)"/><circle cx="369.6" cy="60.7" r="1.7" fill="url(#gb)"/><circle cx="483.7" cy="67.9" r="1.7" fill="url(#gr)"/><circle cx="456.4" cy="71.5" r="1.7" fill="url(#gr)"/><circle cx="460.7" cy="72.4" r="1.7" fill="url(#gr)"/><circle cx="399.1" cy="73.5" r="1.7" fill="url(#gr)"/><circle cx="455.3" cy="76.6" r="1.7" fill="url(#gr)"/><circle cx="480.1" cy="69.6" r="1.7" fill="url(#gr)"/><circle cx="425.5" cy="35.3" r="1.7" fill="url(#gb)"/><circle cx="470.8" cy="67.3" r="1.7" fill="url(#gr)"/><circle cx="374.7" cy="67.3" r="1.7" fill="url(#gb)"/><circle cx="361" cy="75" r="1.7" fill="url(#gb)"/><circle cx="394.7" cy="60.5" r="1.7" fill="url(#gb)"/><circle cx="403.4" cy="75.6" r="1.7" fill="url(#gb)"/><circle cx="433.9" cy="67.1" r="1.7" fill="url(#gr)"/><circle cx="391" cy="56.8" r="1.7" fill="url(#gb)"/><circle cx="396.2" cy="54.3" r="1.7" fill="url(#gb)"/><circle cx="457.7" cy="78.4" r="1.7" fill="url(#gr)"/><circle cx="403.4" cy="81.8" r="1.7" fill="url(#gr)"/><circle cx="362.1" cy="93.8" r="1.7" fill="url(#gr)"/><circle cx="401.5" cy="88.2" r="1.7" fill="url(#gr)"/><circle cx="441.9" cy="46.3" r="1.7" fill="url(#gr)"/><circle cx="435.1" cy="57" r="1.7" fill="url(#gr)"/><circle cx="443.2" cy="48.4" r="1.7" fill="url(#gr)"/><circle cx="352.1" cy="89.6" r="1.7" fill="url(#gr)"/><circle cx="447.4" cy="46.1" r="1.7" fill="url(#gr)"/><circle cx="454" cy="54.7" r="1.7" fill="url(#gr)"/><circle cx="401" cy="66.6" r="1.7" fill="url(#gr)"/><circle cx="412.2" cy="63.7" r="1.7" fill="url(#gr)"/><circle cx="372.1" cy="85" r="1.7" fill="url(#gr)"/><circle cx="465.5" cy="73.8" r="1.7" fill="url(#gr)"/><circle cx="478" cy="65.9" r="1.7" fill="url(#gr)"/><circle cx="447.2" cy="43.9" r="1.7" fill="url(#gr)"/><circle cx="443" cy="44.9" r="1.7" fill="url(#gr)"/><circle cx="448.7" cy="60.8" r="1.7" fill="url(#gr)"/><circle cx="408.2" cy="60.9" r="1.7" fill="url(#gr)"/><circle cx="422.4" cy="54.8" r="1.7" fill="url(#gr)"/><circle cx="362.6" cy="89.8" r="1.7" fill="url(#gr)"/><circle cx="454.1" cy="72.8" r="1.7" fill="url(#gr)"/><circle cx="375.3" cy="79.8" r="1.7" fill="url(#gr)"/><circle cx="445.7" cy="44.8" r="1.7" fill="url(#gr)"/><circle cx="441.3" cy="73.2" r="1.7" fill="url(#gr)"/><circle cx="346.4" cy="94.7" r="1.7" fill="url(#gr)"/><circle cx="474.9" cy="54.7" r="1.7" fill="url(#gr)"/><circle cx="487.5" cy="68.1" r="1.7" fill="url(#gr)"/><circle cx="387.6" cy="82.4" r="1.7" fill="url(#gr)"/><circle cx="438.2" cy="59.9" r="1.7" fill="url(#gr)"/><circle cx="441.1" cy="47.6" r="1.7" fill="url(#gr)"/><circle cx="446.8" cy="48.8" r="1.7" fill="url(#gr)"/><circle cx="380.1" cy="82" r="1.7" fill="url(#gr)"/><circle cx="401.2" cy="74.9" r="1.7" fill="url(#gr)"/><circle cx="374.9" cy="93" r="1.7" fill="url(#gb)"/><circle cx="473.6" cy="58.5" r="1.7" fill="url(#gr)"/><circle cx="432.6" cy="44.1" r="1.7" fill="url(#gr)"/><circle cx="443.1" cy="51.7" r="1.7" fill="url(#gr)"/><circle cx="469.3" cy="78.2" r="1.7" fill="url(#gr)"/><circle cx="457.1" cy="48.6" r="1.7" fill="url(#gr)"/><circle cx="441.7" cy="44" r="1.7" fill="url(#gr)"/><circle cx="419.1" cy="63.6" r="1.7" fill="url(#gr)"/><circle cx="445.7" cy="73.8" r="1.7" fill="url(#gr)"/><circle cx="414.7" cy="60.6" r="1.7" fill="url(#gr)"/><circle cx="486.7" cy="66.2" r="1.7" fill="url(#gr)"/><circle cx="418.5" cy="51.4" r="1.7" fill="url(#gr)"/><circle cx="486.6" cy="68.8" r="1.7" fill="url(#gr)"/><circle cx="382.5" cy="81.4" r="1.7" fill="url(#gr)"/><circle cx="424.7" cy="75.8" r="1.7" fill="url(#gr)"/><circle cx="460.3" cy="52.7" r="1.7" fill="url(#gr)"/><circle cx="443.5" cy="48.4" r="1.7" fill="url(#gr)"/><circle cx="462.7" cy="77.5" r="1.7" fill="url(#gr)"/><circle cx="451.9" cy="80.8" r="1.7" fill="url(#gr)"/><circle cx="353.2" cy="94.9" r="1.7" fill="url(#gr)"/><circle cx="393.9" cy="84.6" r="1.7" fill="url(#gr)"/><circle cx="451.6" cy="62.2" r="1.7" fill="url(#gr)"/><circle cx="378.3" cy="91.6" r="1.7" fill="url(#gr)"/><circle cx="446.7" cy="77.1" r="1.7" fill="url(#gr)"/><circle cx="454.4" cy="57.7" r="1.7" fill="url(#gr)"/><circle cx="363.2" cy="85.5" r="1.7" fill="url(#gr)"/><circle cx="480.2" cy="58.4" r="1.7" fill="url(#gr)"/><circle cx="402.8" cy="83.9" r="1.7" fill="url(#gr)"/><circle cx="467.8" cy="78.2" r="1.7" fill="url(#gr)"/><circle cx="465.9" cy="67" r="1.7" fill="url(#gr)"/><circle cx="460.6" cy="69.2" r="1.7" fill="url(#gr)"/><circle cx="472.8" cy="61.8" r="1.7" fill="url(#gr)"/><circle cx="461.1" cy="56.4" r="1.7" fill="url(#gr)"/><circle cx="425.1" cy="74.3" r="1.7" fill="url(#gr)"/><circle cx="459.2" cy="64.7" r="1.7" fill="url(#gr)"/><circle cx="436.7" cy="44" r="1.7" fill="url(#gr)"/><circle cx="436.7" cy="70.2" r="1.7" fill="url(#gr)"/><circle cx="471.1" cy="70.7" r="1.7" fill="url(#gr)"/><circle cx="443.4" cy="76.5" r="1.7" fill="url(#gr)"/><circle cx="465.6" cy="56.9" r="1.7" fill="url(#gr)"/><circle cx="365.2" cy="92.3" r="1.7" fill="url(#gb)"/><circle cx="441.8" cy="60" r="1.7" fill="url(#gr)"/><circle cx="445.4" cy="68.6" r="1.7" fill="url(#gr)"/><circle cx="481.1" cy="66.7" r="1.7" fill="url(#gr)"/><circle cx="385" cy="94" r="1.7" fill="url(#gb)"/><circle cx="452.2" cy="67.5" r="1.7" fill="url(#gr)"/><circle cx="481.1" cy="72" r="1.7" fill="url(#gr)"/><circle cx="455.5" cy="60.1" r="1.7" fill="url(#gr)"/><circle cx="461.5" cy="65.7" r="1.7" fill="url(#gr)"/><circle cx="453.6" cy="65.9" r="1.7" fill="url(#gr)"/><circle cx="457.2" cy="73" r="1.7" fill="url(#gr)"/><circle cx="452.4" cy="77.6" r="1.7" fill="url(#gr)"/><circle cx="467.2" cy="75" r="1.7" fill="url(#gr)"/><circle cx="471.7" cy="60.6" r="1.7" fill="url(#gr)"/><circle cx="477.6" cy="60.4" r="1.7" fill="url(#gr)"/><circle cx="454.2" cy="47.9" r="1.7" fill="url(#gr)"/><circle cx="450.9" cy="71.5" r="1.7" fill="url(#gr)"/><circle cx="475.1" cy="63.7" r="1.7" fill="url(#gr)"/><circle cx="458.9" cy="73.7" r="1.7" fill="url(#gr)"/><circle cx="479.5" cy="58.6" r="1.7" fill="url(#gr)"/><circle cx="445.7" cy="69.9" r="1.7" fill="url(#gr)"/><circle cx="478.3" cy="76.5" r="1.7" fill="url(#gr)"/><circle cx="461.6" cy="60.1" r="1.7" fill="url(#gr)"/><circle cx="474.7" cy="75.4" r="1.7" fill="url(#gr)"/><circle cx="447.7" cy="77.2" r="1.7" fill="url(#gr)"/><circle cx="446.7" cy="60.2" r="1.7" fill="url(#gr)"/><circle cx="440.4" cy="78.6" r="1.7" fill="url(#gr)"/><circle cx="449.1" cy="70.7" r="1.7" fill="url(#gr)"/><circle cx="432.5" cy="59.3" r="1.7" fill="url(#gr)"/><circle cx="358.5" cy="97.1" r="1.7" fill="url(#gb)"/><circle cx="432.4" cy="63.7" r="1.7" fill="url(#gr)"/><circle cx="453.9" cy="69.5" r="1.7" fill="url(#gr)"/><circle cx="478" cy="65.1" r="1.7" fill="url(#gr)"/><circle cx="481.3" cy="61.3" r="1.7" fill="url(#gr)"/><circle cx="445.6" cy="48.9" r="1.7" fill="url(#gr)"/><circle cx="387.1" cy="92.9" r="1.7" fill="url(#gb)"/><circle cx="475.1" cy="61.5" r="1.7" fill="url(#gr)"/><circle cx="443.7" cy="42.6" r="1.7" fill="url(#gr)"/><circle cx="429.9" cy="50.7" r="1.7" fill="url(#gr)"/><circle cx="442.8" cy="68.2" r="1.7" fill="url(#gr)"/><circle cx="456.1" cy="62.7" r="1.7" fill="url(#gr)"/><circle cx="431.4" cy="54.9" r="1.7" fill="url(#gr)"/><circle cx="426.3" cy="72.1" r="1.7" fill="url(#gr)"/><circle cx="442.4" cy="64.6" r="1.7" fill="url(#gr)"/><circle cx="448.8" cy="79.5" r="1.7" fill="url(#gr)"/><circle cx="448.4" cy="79.2" r="1.7" fill="url(#gr)"/><circle cx="460.2" cy="72.2" r="1.7" fill="url(#gr)"/><circle cx="446.8" cy="59.9" r="1.7" fill="url(#gr)"/><circle cx="461.2" cy="57.8" r="1.7" fill="url(#gr)"/><circle cx="477.6" cy="67.5" r="1.7" fill="url(#gr)"/><circle cx="449.9" cy="54.5" r="1.7" fill="url(#gr)"/><circle cx="372" cy="94.5" r="1.7" fill="url(#gb)"/><circle cx="360" cy="98.6" r="1.7" fill="url(#gb)"/><circle cx="433.2" cy="77.3" r="1.7" fill="url(#gr)"/><circle cx="457.3" cy="53.8" r="1.7" fill="url(#gr)"/><circle cx="477.8" cy="63.4" r="1.7" fill="url(#gr)"/><circle cx="469.7" cy="76.8" r="1.7" fill="url(#gr)"/><circle cx="442.5" cy="66" r="1.7" fill="url(#gr)"/><circle cx="352.9" cy="94.5" r="1.7" fill="url(#gb)"/><circle cx="448.6" cy="61.7" r="1.7" fill="url(#gr)"/><circle cx="444" cy="73.1" r="1.7" fill="url(#gr)"/><circle cx="444" cy="65" r="1.7" fill="url(#gr)"/><circle cx="451.4" cy="46.9" r="1.7" fill="url(#gr)"/><circle cx="451.7" cy="51.2" r="1.7" fill="url(#gr)"/><circle cx="453.7" cy="59.7" r="1.7" fill="url(#gr)"/><circle cx="374" cy="93.6" r="1.7" fill="url(#gb)"/><circle cx="362.7" cy="95.9" r="1.7" fill="url(#gb)"/><circle cx="366.9" cy="94.6" r="1.7" fill="url(#gb)"/><circle cx="357.6" cy="97.8" r="1.7" fill="url(#gb)"/><circle cx="358.1" cy="98.5" r="1.7" fill="url(#gb)"/><circle cx="363" cy="98.5" r="1.7" fill="url(#gb)"/><circle cx="357.7" cy="97.8" r="1.7" fill="url(#gb)"/><circle cx="367.6" cy="95.7" r="1.7" fill="url(#gb)"/><circle cx="351.3" cy="99.3" r="1.7" fill="url(#gb)"/><circle cx="349.4" cy="96" r="1.7" fill="url(#gb)"/><circle cx="344.8" cy="93.6" r="1.7" fill="url(#gb)"/><circle cx="352.9" cy="97.8" r="1.7" fill="url(#gb)"/></g>
<line x1="336.8" y1="108.8" x2="503.6" y2="77.5" stroke="#a0a0a0" stroke-width="1"/>
<g><circle cx="378" cy="115.8" r="1.7" fill="url(#gg)"/><circle cx="381.3" cy="111.5" r="1.7" fill="url(#gg)"/><circle cx="385.2" cy="112.5" r="1.7" fill="url(#gg)"/><circle cx="476.1" cy="88.8" r="1.7" fill="url(#gp)"/><circle cx="482.5" cy="99.2" r="1.7" fill="url(#gg)"/><circle cx="431.1" cy="118.6" r="1.7" fill="url(#gg)"/><circle cx="419.1" cy="115.6" r="1.7" fill="url(#gp)"/><circle cx="373.3" cy="114.3" r="1.7" fill="url(#gg)"/><circle cx="439.9" cy="107.2" r="1.7" fill="url(#gp)"/><circle cx="428.4" cy="97.3" r="1.7" fill="url(#gg)"/><circle cx="413.6" cy="112.5" r="1.7" fill="url(#gp)"/><circle cx="412.2" cy="100.7" r="1.7" fill="url(#gg)"/><circle cx="472.9" cy="96.4" r="1.7" fill="url(#gp)"/><circle cx="366.9" cy="113.2" r="1.7" fill="url(#gp)"/><circle cx="423.6" cy="114.8" r="1.7" fill="url(#gg)"/><circle cx="493.4" cy="91.9" r="1.7" fill="url(#gp)"/><circle cx="435" cy="123.4" r="1.7" fill="url(#gp)"/><circle cx="440" cy="105.6" r="1.7" fill="url(#gg)"/><circle cx="370" cy="103.3" r="1.7" fill="url(#gg)"/><circle cx="430.5" cy="109.6" r="1.7" fill="url(#gp)"/><circle cx="454.7" cy="100.5" r="1.7" fill="url(#gp)"/><circle cx="465" cy="95.3" r="1.7" fill="url(#gp)"/><circle cx="405.5" cy="119.5" r="1.7" fill="url(#gg)"/><circle cx="432.6" cy="112.5" r="1.7" fill="url(#gp)"/><circle cx="370" cy="118.1" r="1.7" fill="url(#gg)"/><circle cx="425.9" cy="103.7" r="1.7" fill="url(#gg)"/><circle cx="410.1" cy="112" r="1.7" fill="url(#gg)"/><circle cx="419.3" cy="114.5" r="1.7" fill="url(#gg)"/><circle cx="379.5" cy="102.6" r="1.7" fill="url(#gg)"/><circle cx="382.9" cy="120.3" r="1.7" fill="url(#gg)"/><circle cx="411.6" cy="119.7" r="1.7" fill="url(#gg)"/><circle cx="434.4" cy="120" r="1.7" fill="url(#gp)"/><circle cx="428.3" cy="114.8" r="1.7" fill="url(#gp)"/><circle cx="456.7" cy="112.1" r="1.7" fill="url(#gp)"/><circle cx="418.4" cy="116.5" r="1.7" fill="url(#gp)"/><circle cx="433.1" cy="96.9" r="1.7" fill="url(#gg)"/><circle cx="416.4" cy="104" r="1.7" fill="url(#gg)"/><circle cx="408.7" cy="101.7" r="1.7" fill="url(#gp)"/><circle cx="390.6" cy="101.8" r="1.7" fill="url(#gg)"/><circle cx="467.4" cy="95.1" r="1.7" fill="url(#gp)"/><circle cx="438" cy="117.6" r="1.7" fill="url(#gp)"/><circle cx="473.3" cy="104.5" r="1.7" fill="url(#gp)"/><circle cx="446" cy="101.9" r="1.7" fill="url(#gg)"/><circle cx="421.7" cy="108.4" r="1.7" fill="url(#gg)"/><circle cx="387.2" cy="101.6" r="1.7" fill="url(#gg)"/><circle cx="425.7" cy="118.1" r="1.7" fill="url(#gg)"/><circle cx="464.6" cy="101.2" r="1.7" fill="url(#gp)"/><circle cx="449.9" cy="94.3" r="1.7" fill="url(#gg)"/><circle cx="389.3" cy="112.6" r="1.7" fill="url(#gp)"/><circle cx="426.2" cy="104" r="1.7" fill="url(#gg)"/><circle cx="384.9" cy="108.7" r="1.7" fill="url(#gg)"/><circle cx="404.7" cy="102.4" r="1.7" fill="url(#gg)"/><circle cx="403" cy="115.9" r="1.7" fill="url(#gg)"/><circle cx="408.7" cy="114.6" r="1.7" fill="url(#gg)"/><circle cx="420.6" cy="115.2" r="1.7" fill="url(#gp)"/><circle cx="408.5" cy="126.8" r="1.7" fill="url(#gp)"/><circle cx="385.1" cy="123.9" r="1.7" fill="url(#gp)"/><circle cx="427.2" cy="122" r="1.7" fill="url(#gp)"/><circle cx="432.9" cy="95.9" r="1.7" fill="url(#gg)"/><circle cx="477.7" cy="97.2" r="1.7" fill="url(#gg)"/><circle cx="390.2" cy="117.5" r="1.7" fill="url(#gg)"/><circle cx="382.3" cy="116.3" r="1.7" fill="url(#gp)"/><circle cx="474.4" cy="102.1" r="1.7" fill="url(#gg)"/><circle cx="415" cy="127.3" r="1.7" fill="url(#gp)"/><circle cx="493.3" cy="88.7" r="1.7" fill="url(#gp)"/><circle cx="461.2" cy="104.3" r="1.7" fill="url(#gp)"/><circle cx="433.7" cy="114.7" r="1.7" fill="url(#gp)"/><circle cx="434.5" cy="112.2" r="1.7" fill="url(#gp)"/><circle cx="385.7" cy="117.6" r="1.7" fill="url(#gp)"/><circle cx="408.9" cy="116" r="1.7" fill="url(#gg)"/><circle cx="425.9" cy="102.1" r="1.7" fill="url(#gp)"/><circle cx="363.2" cy="110.2" r="1.7" fill="url(#gg)"/><circle cx="366.7" cy="107.4" r="1.7" fill="url(#gg)"/><circle cx="489.4" cy="89.8" r="1.7" fill="url(#gp)"/><circle cx="384.2" cy="106.1" r="1.7" fill="url(#gg)"/><circle cx="408.5" cy="127.7" r="1.7" fill="url(#gp)"/><circle cx="417.4" cy="115.1" r="1.7" fill="url(#gg)"/><circle cx="401.6" cy="113.7" r="1.7" fill="url(#gp)"/><circle cx="376.6" cy="102" r="1.7" fill="url(#gp)"/><circle cx="420.8" cy="119.5" r="1.7" fill="url(#gg)"/><circle cx="425" cy="103.8" r="1.7" fill="url(#gg)"/><circle cx="395.4" cy="113" r="1.7" fill="url(#gp)"/><circle cx="412.5" cy="120.3" r="1.7" fill="url(#gg)"/><circle cx="373.8" cy="112.6" r="1.7" fill="url(#gp)"/><circle cx="426.9" cy="116.9" r="1.7" fill="url(#gp)"/><circle cx="374.5" cy="112.8" r="1.7" fill="url(#gp)"/><circle cx="478.6" cy="104.1" r="1.7" fill="url(#gg)"/><circle cx="434.4" cy="106.8" r="1.7" fill="url(#gg)"/><circle cx="385.6" cy="111.7" r="1.7" fill="url(#gg)"/><circle cx="391.4" cy="113.7" r="1.7" fill="url(#gg)"/><circle cx="407.6" cy="106.4" r="1.7" fill="url(#gg)"/><circle cx="400.1" cy="113.2" r="1.7" fill="url(#gg)"/><circle cx="415.8" cy="130.6" r="1.7" fill="url(#gg)"/><circle cx="389.4" cy="115" r="1.7" fill="url(#gg)"/><circle cx="464.8" cy="98.1" r="1.7" fill="url(#gp)"/><circle cx="490.9" cy="92.3" r="1.7" fill="url(#gp)"/><circle cx="389.8" cy="121.9" r="1.7" fill="url(#gg)"/><circle cx="415.9" cy="102.5" r="1.7" fill="url(#gg)"/><circle cx="455.5" cy="99.5" r="1.7" fill="url(#gp)"/><circle cx="458.1" cy="103.1" r="1.7" fill="url(#gg)"/><circle cx="415.6" cy="107.9" r="1.7" fill="url(#gg)"/><circle cx="491.9" cy="97.1" r="1.7" fill="url(#gp)"/><circle cx="368.4" cy="113" r="1.7" fill="url(#gg)"/><circle cx="429.9" cy="95.9" r="1.7" fill="url(#gg)"/><circle cx="486.1" cy="92.1" r="1.7" fill="url(#gp)"/><circle cx="379.5" cy="109" r="1.7" fill="url(#gg)"/><circle cx="442.4" cy="94" r="1.7" fill="url(#gp)"/><circle cx="403.5" cy="121.1" r="1.7" fill="url(#gp)"/><circle cx="451.1" cy="103.7" r="1.7" fill="url(#gg)"/><circle cx="443.3" cy="115.5" r="1.7" fill="url(#gp)"/><circle cx="436.1" cy="122.6" r="1.7" fill="url(#gp)"/><circle cx="450.2" cy="123.1" r="1.7" fill="url(#gp)"/><circle cx="417.1" cy="102.5" r="1.7" fill="url(#gg)"/><circle cx="450.5" cy="119.7" r="1.7" fill="url(#gg)"/><circle cx="469" cy="92.3" r="1.7" fill="url(#gg)"/><circle cx="444.9" cy="92.7" r="1.7" fill="url(#gp)"/><circle cx="480" cy="104.5" r="1.7" fill="url(#gp)"/><circle cx="439.6" cy="100.5" r="1.7" fill="url(#gg)"/><circle cx="447" cy="127" r="1.7" fill="url(#gg)"/><circle cx="473.9" cy="88.1" r="1.7" fill="url(#gp)"/><circle cx="465.8" cy="100.6" r="1.7" fill="url(#gp)"/><circle cx="465.9" cy="95.5" r="1.7" fill="url(#gp)"/><circle cx="435.1" cy="116.7" r="1.7" fill="url(#gg)"/><circle cx="392.2" cy="109" r="1.7" fill="url(#gg)"/><circle cx="416.3" cy="113.6" r="1.7" fill="url(#gg)"/><circle cx="442.9" cy="115.3" r="1.7" fill="url(#gg)"/><circle cx="470.2" cy="88.1" r="1.7" fill="url(#gp)"/><circle cx="475.1" cy="97.7" r="1.7" fill="url(#gp)"/><circle cx="410.1" cy="113.4" r="1.7" fill="url(#gp)"/><circle cx="476.6" cy="88.4" r="1.7" fill="url(#gp)"/><circle cx="416.9" cy="100" r="1.7" fill="url(#gg)"/><circle cx="374.8" cy="112.1" r="1.7" fill="url(#gg)"/><circle cx="482.1" cy="100.5" r="1.7" fill="url(#gp)"/><circle cx="451.6" cy="110.4" r="1.7" fill="url(#gg)"/><circle cx="375.7" cy="110.1" r="1.7" fill="url(#gg)"/><circle cx="446" cy="103" r="1.7" fill="url(#gg)"/><circle cx="386.7" cy="125.5" r="1.7" fill="url(#gg)"/><circle cx="405.2" cy="97.3" r="1.7" fill="url(#gg)"/><circle cx="399.8" cy="119.9" r="1.7" fill="url(#gp)"/><circle cx="401.8" cy="112" r="1.7" fill="url(#gg)"/><circle cx="435.9" cy="102.6" r="1.7" fill="url(#gp)"/><circle cx="428.2" cy="125.2" r="1.7" fill="url(#gp)"/><circle cx="435.3" cy="120.2" r="1.7" fill="url(#gg)"/><circle cx="410.6" cy="109.4" r="1.7" fill="url(#gg)"/><circle cx="418.4" cy="115" r="1.7" fill="url(#gg)"/><circle cx="399" cy="107.8" r="1.7" fill="url(#gg)"/><circle cx="405.2" cy="114" r="1.7" fill="url(#gg)"/><circle cx="380.6" cy="123.5" r="1.7" fill="url(#gg)"/><circle cx="485.3" cy="101.8" r="1.7" fill="url(#gp)"/><circle cx="441.6" cy="121.7" r="1.7" fill="url(#gp)"/><circle cx="411.6" cy="104.6" r="1.7" fill="url(#gg)"/><circle cx="449.2" cy="114.1" r="1.7" fill="url(#gp)"/><circle cx="451.3" cy="95.6" r="1.7" fill="url(#gp)"/><circle cx="428.3" cy="106.5" r="1.7" fill="url(#gg)"/><circle cx="405.6" cy="112" r="1.7" fill="url(#gp)"/><circle cx="439.7" cy="113.3" r="1.7" fill="url(#gg)"/><circle cx="450.3" cy="95.7" r="1.7" fill="url(#gg)"/><circle cx="422.5" cy="117" r="1.7" fill="url(#gg)"/><circle cx="472.8" cy="93.5" r="1.7" fill="url(#gp)"/><circle cx="465.1" cy="95.8" r="1.7" fill="url(#gp)"/><circle cx="441.8" cy="109" r="1.7" fill="url(#gp)"/><circle cx="438.1" cy="120.2" r="1.7" fill="url(#gp)"/><circle cx="429.6" cy="114.7" r="1.7" fill="url(#gp)"/><circle cx="394.2" cy="107.7" r="1.7" fill="url(#gp)"/><circle cx="432.3" cy="120.5" r="1.7" fill="url(#gp)"/><circle cx="482.1" cy="91.4" r="1.7" fill="url(#gg)"/><circle cx="437" cy="118.2" r="1.7" fill="url(#gp)"/><circle cx="425.7" cy="111.6" r="1.7" fill="url(#gg)"/><circle cx="409" cy="121.9" r="1.7" fill="url(#gp)"/><circle cx="421.3" cy="127" r="1.7" fill="url(#gg)"/><circle cx="471.6" cy="88.4" r="1.7" fill="url(#gp)"/><circle cx="426.2" cy="108" r="1.7" fill="url(#gg)"/><circle cx="459.8" cy="103.9" r="1.7" fill="url(#gp)"/><circle cx="434.9" cy="107.7" r="1.7" fill="url(#gg)"/><circle cx="396.3" cy="110.6" r="1.7" fill="url(#gg)"/><circle cx="429.9" cy="123.8" r="1.7" fill="url(#gp)"/><circle cx="481.9" cy="101.6" r="1.7" fill="url(#gp)"/><circle cx="395.7" cy="100.4" r="1.7" fill="url(#gg)"/><circle cx="379" cy="111.3" r="1.7" fill="url(#gg)"/><circle cx="443.1" cy="103.1" r="1.7" fill="url(#gg)"/><circle cx="378.2" cy="111.8" r="1.7" fill="url(#gp)"/><circle cx="483.5" cy="101.2" r="1.7" fill="url(#gp)"/><circle cx="417.5" cy="105.2" r="1.7" fill="url(#gg)"/><circle cx="402.1" cy="122" r="1.7" fill="url(#gp)"/><circle cx="392" cy="112.4" r="1.7" fill="url(#gg)"/><circle cx="475.9" cy="106.1" r="1.7" fill="url(#gp)"/><circle cx="483.5" cy="94.4" r="1.7" fill="url(#gp)"/><circle cx="439.1" cy="92.2" r="1.7" fill="url(#gp)"/><circle cx="385.6" cy="105.7" r="1.7" fill="url(#gg)"/><circle cx="421.3" cy="111.2" r="1.7" fill="url(#gg)"/><circle cx="423.9" cy="121.4" r="1.7" fill="url(#gp)"/><circle cx="431" cy="99.3" r="1.7" fill="url(#gg)"/><circle cx="450.6" cy="124.4" r="1.7" fill="url(#gp)"/><circle cx="437.5" cy="97.4" r="1.7" fill="url(#gg)"/><circle cx="446.2" cy="110.2" r="1.7" fill="url(#gp)"/><circle cx="398.4" cy="103.8" r="1.7" fill="url(#gg)"/><circle cx="455.8" cy="97.6" r="1.7" fill="url(#gp)"/><circle cx="459.5" cy="111" r="1.7" fill="url(#gp)"/><circle cx="409.3" cy="114.6" r="1.7" fill="url(#gg)"/><circle cx="454.2" cy="93.6" r="1.7" fill="url(#gg)"/><circle cx="458.5" cy="92.8" r="1.7" fill="url(#gg)"/><circle cx="398" cy="126.7" r="1.7" fill="url(#gp)"/><circle cx="446.1" cy="110.1" r="1.7" fill="url(#gg)"/><circle cx="447.3" cy="113.7" r="1.7" fill="url(#gg)"/><circle cx="458.1" cy="93.4" r="1.7" fill="url(#gg)"/><circle cx="454.6" cy="100.3" r="1.7" fill="url(#gp)"/><circle cx="462.7" cy="107.6" r="1.7" fill="url(#gp)"/><circle cx="430" cy="117.6" r="1.7" fill="url(#gg)"/><circle cx="434.1" cy="115.2" r="1.7" fill="url(#gg)"/><circle cx="439.5" cy="124.4" r="1.7" fill="url(#gp)"/><circle cx="405.5" cy="101" r="1.7" fill="url(#gg)"/><circle cx="388.4" cy="119.9" r="1.7" fill="url(#gg)"/><circle cx="373.5" cy="115.5" r="1.7" fill="url(#gp)"/><circle cx="446.8" cy="103.8" r="1.7" fill="url(#gg)"/><circle cx="421" cy="124" r="1.7" fill="url(#gp)"/><circle cx="373" cy="114.8" r="1.7" fill="url(#gp)"/><circle cx="456.4" cy="99.8" r="1.7" fill="url(#gp)"/><circle cx="378.1" cy="109.1" r="1.7" fill="url(#gg)"/><circle cx="430.4" cy="108.1" r="1.7" fill="url(#gg)"/><circle cx="393.9" cy="102.9" r="1.7" fill="url(#gg)"/><circle cx="441" cy="98.2" r="1.7" fill="url(#gp)"/><circle cx="391.9" cy="118.2" r="1.7" fill="url(#gp)"/><circle cx="449.3" cy="118" r="1.7" fill="url(#gp)"/><circle cx="441.4" cy="115.8" r="1.7" fill="url(#gp)"/><circle cx="398.8" cy="109.8" r="1.7" fill="url(#gg)"/><circle cx="370.5" cy="112.2" r="1.7" fill="url(#gp)"/><circle cx="424.1" cy="118" r="1.7" fill="url(#gp)"/><circle cx="467.6" cy="98" r="1.7" fill="url(#gg)"/><circle cx="388.7" cy="114.2" r="1.7" fill="url(#gg)"/><circle cx="463.2" cy="103.3" r="1.7" fill="url(#gg)"/><circle cx="412.5" cy="119.3" r="1.7" fill="url(#gp)"/><circle cx="412.2" cy="115.9" r="1.7" fill="url(#gp)"/><circle cx="399.4" cy="118.2" r="1.7" fill="url(#gp)"/><circle cx="455.6" cy="115.3" r="1.7" fill="url(#gp)"/><circle cx="438.7" cy="93.3" r="1.7" fill="url(#gg)"/><circle cx="402.7" cy="112.3" r="1.7" fill="url(#gp)"/><circle cx="387.3" cy="111.1" r="1.7" fill="url(#gg)"/><circle cx="435" cy="117.4" r="1.7" fill="url(#gg)"/><circle cx="458.5" cy="135.7" r="1.7" fill="url(#gg)"/><circle cx="420.2" cy="107.7" r="1.7" fill="url(#gg)"/><circle cx="442.3" cy="109.3" r="1.7" fill="url(#gg)"/><circle cx="449.9" cy="124.2" r="1.7" fill="url(#gp)"/><circle cx="371.2" cy="114.7" r="1.7" fill="url(#gp)"/><circle cx="415.4" cy="127.7" r="1.7" fill="url(#gp)"/><circle cx="385.7" cy="111.5" r="1.7" fill="url(#gg)"/><circle cx="412.8" cy="103.8" r="1.7" fill="url(#gg)"/><circle cx="415.9" cy="125.8" r="1.7" fill="url(#gg)"/><circle cx="403.1" cy="104.5" r="1.7" fill="url(#gg)"/><circle cx="425" cy="110.2" r="1.7" fill="url(#gg)"/><circle cx="430.1" cy="125.7" r="1.7" fill="url(#gp)"/><circle cx="481.9" cy="92.4" r="1.7" fill="url(#gg)"/><circle cx="444.9" cy="109.4" r="1.7" fill="url(#gg)"/><circle cx="401.5" cy="99.6" r="1.7" fill="url(#gg)"/><circle cx="480.4" cy="88.5" r="1.7" fill="url(#gg)"/><circle cx="418.9" cy="106.3" r="1.7" fill="url(#gg)"/><circle cx="433.9" cy="113.8" r="1.7" fill="url(#gg)"/><circle cx="443.3" cy="121.3" r="1.7" fill="url(#gp)"/><circle cx="429.2" cy="125.1" r="1.7" fill="url(#gg)"/><circle cx="362.3" cy="105.1" r="1.7" fill="url(#gg)"/><circle cx="424.7" cy="125.6" r="1.7" fill="url(#gg)"/><circle cx="390.2" cy="113.4" r="1.7" fill="url(#gg)"/><circle cx="438.3" cy="98.5" r="1.7" fill="url(#gg)"/><circle cx="397.5" cy="117.8" r="1.7" fill="url(#gg)"/><circle cx="458.9" cy="101.6" r="1.7" fill="url(#gp)"/><circle cx="479.4" cy="101.6" r="1.7" fill="url(#gp)"/><circle cx="399.5" cy="109.1" r="1.7" fill="url(#gg)"/><circle cx="406.4" cy="111.5" r="1.7" fill="url(#gg)"/><circle cx="419.3" cy="111.3" r="1.7" fill="url(#gg)"/><circle cx="440.8" cy="124.5" r="1.7" fill="url(#gp)"/><circle cx="405.2" cy="106.5" r="1.7" fill="url(#gg)"/><circle cx="478.4" cy="89.6" r="1.7" fill="url(#gp)"/><circle cx="428.3" cy="120.9" r="1.7" fill="url(#gp)"/><circle cx="394.8" cy="115.6" r="1.7" fill="url(#gg)"/><circle cx="437.4" cy="122.8" r="1.7" fill="url(#gp)"/><circle cx="386.9" cy="113.3" r="1.7" fill="url(#gg)"/><circle cx="476" cy="89.6" r="1.7" fill="url(#gp)"/><circle cx="441.8" cy="92.7" r="1.7" fill="url(#gp)"/><circle cx="443.3" cy="117.7" r="1.7" fill="url(#gp)"/><circle cx="408.5" cy="112" r="1.7" fill="url(#gg)"/><circle cx="435.9" cy="109.2" r="1.7" fill="url(#gg)"/><circle cx="483.7" cy="96" r="1.7" fill="url(#gp)"/><circle cx="437.2" cy="100.3" r="1.7" fill="url(#gg)"/><circle cx="423.3" cy="113.5" r="1.7" fill="url(#gg)"/><circle cx="475.9" cy="99.6" r="1.7" fill="url(#gp)"/><circle cx="492.9" cy="92.6" r="1.7" fill="url(#gg)"/><circle cx="370.3" cy="115.5" r="1.7" fill="url(#gg)"/><circle cx="449.7" cy="110.6" r="1.7" fill="url(#gg)"/><circle cx="421.6" cy="119.6" r="1.7" fill="url(#gg)"/><circle cx="452.5" cy="114.4" r="1.7" fill="url(#gp)"/><circle cx="434.9" cy="114.3" r="1.7" fill="url(#gg)"/><circle cx="416.1" cy="104" r="1.7" fill="url(#gg)"/><circle cx="401.3" cy="125.8" r="1.7" fill="url(#gp)"/><circle cx="421.9" cy="125.1" r="1.7" fill="url(#gg)"/><circle cx="417.8" cy="116.6" r="1.7" fill="url(#gp)"/><circle cx="488.2" cy="98.7" r="1.7" fill="url(#gp)"/><circle cx="446.4" cy="115.5" r="1.7" fill="url(#gg)"/><circle cx="392.7" cy="123.7" r="1.7" fill="url(#gg)"/><circle cx="439.4" cy="99.4" r="1.7" fill="url(#gg)"/><circle cx="387.5" cy="109.9" r="1.7" fill="url(#gg)"/><circle cx="386.8" cy="124.3" r="1.7" fill="url(#gp)"/><circle cx="382.6" cy="103.1" r="1.7" fill="url(#gg)"/><circle cx="488.2" cy="92.5" r="1.7" fill="url(#gp)"/><circle cx="402.7" cy="114.4" r="1.7" fill="url(#gg)"/><circle cx="482.4" cy="88.2" r="1.7" fill="url(#gp)"/><circle cx="493" cy="88.2" r="1.7" fill="url(#gp)"/><circle cx="400" cy="116.5" r="1.7" fill="url(#gp)"/><circle cx="397.5" cy="125.2" r="1.7" fill="url(#gp)"/><circle cx="376.1" cy="115.9" r="1.7" fill="url(#gp)"/><circle cx="439" cy="115.2" r="1.7" fill="url(#gg)"/><circle cx="413.3" cy="113.3" r="1.7" fill="url(#gg)"/><circle cx="409.7" cy="112.9" r="1.7" fill="url(#gp)"/><circle cx="413.1" cy="108.4" r="1.7" fill="url(#gg)"/><circle cx="477.7" cy="89.3" r="1.7" fill="url(#gp)"/><circle cx="426.9" cy="116.6" r="1.7" fill="url(#gg)"/><circle cx="406.1" cy="112.6" r="1.7" fill="url(#gg)"/><circle cx="425.2" cy="118.5" r="1.7" fill="url(#gg)"/><circle cx="444.1" cy="100.4" r="1.7" fill="url(#gp)"/><circle cx="363.5" cy="107.1" r="1.7" fill="url(#gp)"/><circle cx="463.7" cy="100.2" r="1.7" fill="url(#gg)"/><circle cx="376" cy="116.4" r="1.7" fill="url(#gp)"/><circle cx="431.5" cy="113.8" r="1.7" fill="url(#gg)"/><circle cx="378.8" cy="109.2" r="1.7" fill="url(#gg)"/><circle cx="453.5" cy="98.3" r="1.7" fill="url(#gp)"/><circle cx="371.3" cy="107" r="1.7" fill="url(#gg)"/><circle cx="422.7" cy="112.8" r="1.7" fill="url(#gg)"/><circle cx="425" cy="101.6" r="1.7" fill="url(#gg)"/><circle cx="480.3" cy="105.4" r="1.7" fill="url(#gp)"/><circle cx="402.8" cy="104.3" r="1.7" fill="url(#gg)"/><circle cx="453.8" cy="115.6" r="1.7" fill="url(#gp)"/><circle cx="462.1" cy="102.8" r="1.7" fill="url(#gp)"/><circle cx="393.3" cy="98.3" r="1.7" fill="url(#gg)"/><circle cx="424.1" cy="108.3" r="1.7" fill="url(#gg)"/><circle cx="462.5" cy="94.2" r="1.7" fill="url(#gp)"/><circle cx="363.8" cy="112.2" r="1.7" fill="url(#gg)"/><circle cx="418.1" cy="114.8" r="1.7" fill="url(#gg)"/><circle cx="481.5" cy="91.4" r="1.7" fill="url(#gp)"/><circle cx="390.8" cy="123.3" r="1.7" fill="url(#gp)"/><circle cx="401.5" cy="116.8" r="1.7" fill="url(#gg)"/><circle cx="473.5" cy="93.1" r="1.7" fill="url(#gp)"/><circle cx="428.3" cy="117.1" r="1.7" fill="url(#gg)"/><circle cx="432.4" cy="118.3" r="1.7" fill="url(#gg)"/><circle cx="379.4" cy="110.3" r="1.7" fill="url(#gg)"/><circle cx="435" cy="114" r="1.7" fill="url(#gg)"/><circle cx="393.2" cy="118.3" r="1.7" fill="url(#gg)"/><circle cx="382.4" cy="112" r="1.7" fill="url(#gg)"/><circle cx="367" cy="115.3" r="1.7" fill="url(#gp)"/><circle cx="405.2" cy="104.1" r="1.7" fill="url(#gg)"/><circle cx="487" cy="87.4" r="1.7" fill="url(#gp)"/><circle cx="436" cy="100.1" r="1.7" fill="url(#gg)"/><circle cx="438.2" cy="98" r="1.7" fill="url(#gg)"/><circle cx="385" cy="115.7" r="1.7" fill="url(#gp)"/><circle cx="443.4" cy="123.7" r="1.7" fill="url(#gg)"/><circle cx="436.8" cy="118.4" r="1.7" fill="url(#gp)"/><circle cx="382.3" cy="112.4" r="1.7" fill="url(#gg)"/><circle cx="392.5" cy="99" r="1.7" fill="url(#gg)"/><circle cx="406.7" cy="100.6" r="1.7" fill="url(#gg)"/><circle cx="483.4" cy="90.9" r="1.7" fill="url(#gg)"/><circle cx="414.8" cy="106" r="1.7" fill="url(#gg)"/><circle cx="407.8" cy="125.7" r="1.7" fill="url(#gp)"/><circle cx="439.2" cy="113.4" r="1.7" fill="url(#gg)"/><circle cx="410.5" cy="114" r="1.7" fill="url(#gg)"/><circle cx="393.7" cy="110.7" r="1.7" fill="url(#gg)"/><circle cx="400.6" cy="125.4" r="1.7" fill="url(#gg)"/><circle cx="455.7" cy="101.7" r="1.7" fill="url(#gg)"/><circle cx="419.7" cy="119.5" r="1.7" fill="url(#gg)"/><circle cx="476.7" cy="95.5" r="1.7" fill="url(#gp)"/><circle cx="402.2" cy="105.2" r="1.7" fill="url(#gg)"/><circle cx="371.1" cy="113.3" r="1.7" fill="url(#gp)"/><circle cx="425.7" cy="114.3" r="1.7" fill="url(#gp)"/><circle cx="450.3" cy="96.8" r="1.7" fill="url(#gp)"/><circle cx="422.5" cy="110.9" r="1.7" fill="url(#gp)"/><circle cx="457.1" cy="98.2" r="1.7" fill="url(#gp)"/><circle cx="438.5" cy="120.2" r="1.7" fill="url(#gp)"/><circle cx="396.5" cy="116.3" r="1.7" fill="url(#gp)"/><circle cx="460.8" cy="104.3" r="1.7" fill="url(#gg)"/><circle cx="386" cy="113.7" r="1.7" fill="url(#gp)"/><circle cx="466.6" cy="105" r="1.7" fill="url(#gp)"/><circle cx="422.8" cy="97.5" r="1.7" fill="url(#gg)"/><circle cx="471.6" cy="95.9" r="1.7" fill="url(#gg)"/><circle cx="472.6" cy="106" r="1.7" fill="url(#gp)"/><circle cx="445.1" cy="113.6" r="1.7" fill="url(#gp)"/><circle cx="428.1" cy="126.2" r="1.7" fill="url(#gg)"/><circle cx="445.1" cy="102.5" r="1.7" fill="url(#gg)"/><circle cx="450" cy="92.3" r="1.7" fill="url(#gp)"/><circle cx="415" cy="105.3" r="1.7" fill="url(#gg)"/><circle cx="414.8" cy="111.1" r="1.7" fill="url(#gg)"/><circle cx="438.9" cy="98.3" r="1.7" fill="url(#gg)"/><circle cx="400.1" cy="103.4" r="1.7" fill="url(#gg)"/><circle cx="490.7" cy="90.2" r="1.7" fill="url(#gp)"/><circle cx="481.1" cy="91.7" r="1.7" fill="url(#gp)"/><circle cx="408.9" cy="115.9" r="1.7" fill="url(#gg)"/><circle cx="384.3" cy="99.4" r="1.7" fill="url(#gp)"/><circle cx="422.4" cy="116.9" r="1.7" fill="url(#gg)"/><circle cx="381.6" cy="116.7" r="1.7" fill="url(#gg)"/><circle cx="438.3" cy="123.4" r="1.7" fill="url(#gp)"/><circle cx="465.1" cy="92.3" r="1.7" fill="url(#gp)"/><circle cx="427.8" cy="126.6" r="1.7" fill="url(#gp)"/><circle cx="374.5" cy="121.9" r="1.7" fill="url(#gp)"/><circle cx="433.3" cy="100.7" r="1.7" fill="url(#gg)"/><circle cx="403.9" cy="110.3" r="1.7" fill="url(#gg)"/><circle cx="444.3" cy="100.8" r="1.7" fill="url(#gg)"/><circle cx="490.5" cy="90.1" r="1.7" fill="url(#gg)"/><circle cx="438.2" cy="106" r="1.7" fill="url(#gg)"/><circle cx="466.9" cy="97" r="1.7" fill="url(#gp)"/><circle cx="427.6" cy="113.5" r="1.7" fill="url(#gp)"/><circle cx="478" cy="95.9" r="1.7" fill="url(#gp)"/><circle cx="476.3" cy="88.3" r="1.7" fill="url(#gp)"/><circle cx="370.2" cy="113.4" r="1.7" fill="url(#gg)"/><circle cx="434.9" cy="107.8" r="1.7" fill="url(#gg)"/><circle cx="404" cy="119.8" r="1.7" fill="url(#gg)"/><circle cx="398.3" cy="101" r="1.7" fill="url(#gg)"/><circle cx="481" cy="118" r="1.7" fill="url(#gg)"/><circle cx="436.1" cy="116" r="1.7" fill="url(#gg)"/><circle cx="367" cy="111.2" r="1.7" fill="url(#gg)"/><circle cx="480.7" cy="101.1" r="1.7" fill="url(#gp)"/><circle cx="444.2" cy="93.6" r="1.7" fill="url(#gp)"/><circle cx="435.7" cy="117.8" r="1.7" fill="url(#gg)"/><circle cx="411" cy="121.3" r="1.7" fill="url(#gp)"/><circle cx="387.8" cy="118.3" r="1.7" fill="url(#gp)"/><circle cx="403" cy="111.7" r="1.7" fill="url(#gp)"/><circle cx="477" cy="91" r="1.7" fill="url(#gp)"/><circle cx="471.5" cy="96.6" r="1.7" fill="url(#gp)"/><circle cx="454" cy="119.6" r="1.7" fill="url(#gp)"/><circle cx="438.6" cy="124.9" r="1.7" fill="url(#gg)"/><circle cx="429.3" cy="115.8" r="1.7" fill="url(#gg)"/><circle cx="379.5" cy="107.2" r="1.7" fill="url(#gg)"/><circle cx="414.8" cy="116.6" r="1.7" fill="url(#gg)"/><circle cx="431.1" cy="116.9" r="1.7" fill="url(#gg)"/><circle cx="474.2" cy="87" r="1.7" fill="url(#gp)"/><circle cx="431.8" cy="117" r="1.7" fill="url(#gg)"/><circle cx="423.6" cy="111.8" r="1.7" fill="url(#gp)"/><circle cx="408.6" cy="122.3" r="1.7" fill="url(#gp)"/><circle cx="456.4" cy="116.6" r="1.7" fill="url(#gp)"/><circle cx="362.1" cy="108.6" r="1.7" fill="url(#gg)"/><circle cx="439.5" cy="113" r="1.7" fill="url(#gg)"/><circle cx="439.4" cy="121.6" r="1.7" fill="url(#gp)"/><circle cx="375.2" cy="115.5" r="1.7" fill="url(#gg)"/><circle cx="476.2" cy="105.4" r="1.7" fill="url(#gp)"/><circle cx="468.4" cy="91" r="1.7" fill="url(#gg)"/><circle cx="398.3" cy="101.9" r="1.7" fill="url(#gg)"/><circle cx="412.8" cy="120.7" r="1.7" fill="url(#gg)"/><circle cx="382.3" cy="120.6" r="1.7" fill="url(#gp)"/><circle cx="414.3" cy="113.5" r="1.7" fill="url(#gg)"/><circle cx="426" cy="116.1" r="1.7" fill="url(#gp)"/><circle cx="404.3" cy="110.3" r="1.7" fill="url(#gg)"/><circle cx="478.8" cy="94.4" r="1.7" fill="url(#gp)"/><circle cx="421.9" cy="101" r="1.7" fill="url(#gg)"/><circle cx="448.4" cy="112.5" r="1.7" fill="url(#gg)"/><circle cx="459.5" cy="106.2" r="1.7" fill="url(#gp)"/><circle cx="427.1" cy="99.2" r="1.7" fill="url(#gg)"/><circle cx="444.2" cy="122.6" r="1.7" fill="url(#gp)"/><circle cx="450.5" cy="92.2" r="1.7" fill="url(#gp)"/><circle cx="375.8" cy="107.3" r="1.7" fill="url(#gg)"/><circle cx="368.3" cy="113.7" r="1.7" fill="url(#gg)"/><circle cx="407.3" cy="100.8" r="1.7" fill="url(#gg)"/><circle cx="435.9" cy="127.4" r="1.7" fill="url(#gp)"/><circle cx="438.2" cy="113.7" r="1.7" fill="url(#gg)"/><circle cx="460.9" cy="92.4" r="1.7" fill="url(#gg)"/><circle cx="410.5" cy="103.4" r="1.7" fill="url(#gp)"/><circle cx="392.4" cy="103.3" r="1.7" fill="url(#gg)"/><circle cx="381" cy="124.1" r="1.7" fill="url(#gp)"/><circle cx="461.3" cy="103.9" r="1.7" fill="url(#gp)"/><circle cx="482.3" cy="89.1" r="1.7" fill="url(#gp)"/><circle cx="471.8" cy="91.1" r="1.7" fill="url(#gg)"/><circle cx="437.9" cy="112.9" r="1.7" fill="url(#gg)"/><circle cx="400.6" cy="113.9" r="1.7" fill="url(#gg)"/><circle cx="446.5" cy="114.6" r="1.7" fill="url(#gp)"/><circle cx="479.2" cy="91.7" r="1.7" fill="url(#gp)"/><circle cx="378.2" cy="113" r="1.7" fill="url(#gp)"/><circle cx="381" cy="116.9" r="1.7" fill="url(#gp)"/><circle cx="476.6" cy="96.4" r="1.7" fill="url(#gg)"/><circle cx="434" cy="103.9" r="1.7" fill="url(#gg)"/><circle cx="454.6" cy="110.6" r="1.7" fill="url(#gp)"/><circle cx="485.8" cy="94.8" r="1.7" fill="url(#gp)"/><circle cx="446.9" cy="109.5" r="1.7" fill="url(#gp)"/><circle cx="435.3" cy="109" r="1.7" fill="url(#gp)"/><circle cx="365.8" cy="107.3" r="1.7" fill="url(#gp)"/><circle cx="412.1" cy="110.6" r="1.7" fill="url(#gg)"/><circle cx="410.5" cy="113.6" r="1.7" fill="url(#gp)"/><circle cx="412.9" cy="108.3" r="1.7" fill="url(#gg)"/><circle cx="391.8" cy="126.2" r="1.7" fill="url(#gp)"/><circle cx="442.8" cy="106.5" r="1.7" fill="url(#gp)"/><circle cx="444.1" cy="96.5" r="1.7" fill="url(#gg)"/><circle cx="374.8" cy="114.4" r="1.7" fill="url(#gp)"/><circle cx="451.8" cy="110.1" r="1.7" fill="url(#gg)"/><circle cx="448.3" cy="120" r="1.7" fill="url(#gp)"/><circle cx="436.1" cy="102" r="1.7" fill="url(#gg)"/><circle cx="461.5" cy="95.6" r="1.7" fill="url(#gp)"/><circle cx="413.7" cy="113.7" r="1.7" fill="url(#gp)"/><circle cx="402" cy="103.6" r="1.7" fill="url(#gg)"/><circle cx="453.2" cy="109.5" r="1.7" fill="url(#gg)"/><circle cx="385.6" cy="117.1" r="1.7" fill="url(#gp)"/><circle cx="492.9" cy="96.7" r="1.7" fill="url(#gg)"/><circle cx="414" cy="98" r="1.7" fill="url(#gg)"/><circle cx="363.7" cy="107" r="1.7" fill="url(#gg)"/><circle cx="412.3" cy="120" r="1.7" fill="url(#gp)"/><circle cx="464.1" cy="95.6" r="1.7" fill="url(#gp)"/><circle cx="424.1" cy="116.4" r="1.7" fill="url(#gg)"/><circle cx="433.2" cy="111.4" r="1.7" fill="url(#gg)"/><circle cx="396.1" cy="124.5" r="1.7" fill="url(#gg)"/><circle cx="400.6" cy="114.2" r="1.7" fill="url(#gg)"/><circle cx="448.3" cy="121.6" r="1.7" fill="url(#gg)"/><circle cx="434.2" cy="94.5" r="1.7" fill="url(#gg)"/><circle cx="382" cy="117.6" r="1.7" fill="url(#gp)"/><circle cx="457.9" cy="92.6" r="1.7" fill="url(#gp)"/><circle cx="385.3" cy="117.4" r="1.7" fill="url(#gg)"/><circle cx="441.1" cy="124.9" r="1.7" fill="url(#gp)"/><circle cx="376" cy="122.2" r="1.7" fill="url(#gp)"/><circle cx="384.1" cy="118.7" r="1.7" fill="url(#gp)"/><circle cx="456.5" cy="100.4" r="1.7" fill="url(#gg)"/><circle cx="386.7" cy="117.5" r="1.7" fill="url(#gg)"/><circle cx="394.8" cy="104.4" r="1.7" fill="url(#gg)"/><circle cx="414.5" cy="106.1" r="1.7" fill="url(#gg)"/><circle cx="444" cy="94.2" r="1.7" fill="url(#gg)"/><circle cx="418.5" cy="110.3" r="1.7" fill="url(#gp)"/><circle cx="377.8" cy="108.8" r="1.7" fill="url(#gg)"/><circle cx="370.9" cy="111.2" r="1.7" fill="url(#gg)"/><circle cx="470.5" cy="88.5" r="1.7" fill="url(#gp)"/><circle cx="439.1" cy="104" r="1.7" fill="url(#gg)"/><circle cx="408.4" cy="114.9" r="1.7" fill="url(#gp)"/><circle cx="469.3" cy="96" r="1.7" fill="url(#gp)"/><circle cx="443" cy="125" r="1.7" fill="url(#gp)"/><circle cx="393.5" cy="119" r="1.7" fill="url(#gp)"/><circle cx="387.8" cy="117.8" r="1.7" fill="url(#gp)"/><circle cx="467.2" cy="107.2" r="1.7" fill="url(#gp)"/><circle cx="379.3" cy="123" r="1.7" fill="url(#gg)"/><circle cx="395.2" cy="105.2" r="1.7" fill="url(#gg)"/><circle cx="434.1" cy="118.4" r="1.7" fill="url(#gg)"/><circle cx="396.8" cy="106.9" r="1.7" fill="url(#gg)"/><circle cx="482.1" cy="99.4" r="1.7" fill="url(#gp)"/><circle cx="413.3" cy="126" r="1.7" fill="url(#gg)"/><circle cx="467.2" cy="92.8" r="1.7" fill="url(#gp)"/><circle cx="452.1" cy="94.7" r="1.7" fill="url(#gg)"/><circle cx="408.6" cy="113.9" r="1.7" fill="url(#gp)"/><circle cx="370.5" cy="117.2" r="1.7" fill="url(#gp)"/><circle cx="423.5" cy="119.6" r="1.7" fill="url(#gg)"/><circle cx="431.4" cy="121.8" r="1.7" fill="url(#gp)"/><circle cx="429.6" cy="98.3" r="1.7" fill="url(#gp)"/><circle cx="422.9" cy="113.7" r="1.7" fill="url(#gg)"/><circle cx="390.5" cy="99.2" r="1.7" fill="url(#gp)"/><circle cx="437.4" cy="125.8" r="1.7" fill="url(#gp)"/><circle cx="370.3" cy="119.9" r="1.7" fill="url(#gp)"/><circle cx="489.4" cy="96.9" r="1.7" fill="url(#gp)"/><circle cx="411.2" cy="99.4" r="1.7" fill="url(#gg)"/><circle cx="451" cy="117.5" r="1.7" fill="url(#gp)"/><circle cx="484.5" cy="101.8" r="1.7" fill="url(#gp)"/><circle cx="466.8" cy="100.8" r="1.7" fill="url(#gg)"/><circle cx="394.9" cy="108.7" r="1.7" fill="url(#gg)"/><circle cx="407.6" cy="123.4" r="1.7" fill="url(#gp)"/><circle cx="376.3" cy="118.4" r="1.7" fill="url(#gp)"/><circle cx="406.1" cy="99.6" r="1.7" fill="url(#gg)"/><circle cx="428.1" cy="105.8" r="1.7" fill="url(#gg)"/><circle cx="445.3" cy="108" r="1.7" fill="url(#gg)"/><circle cx="382" cy="122.3" r="1.7" fill="url(#gp)"/><circle cx="462.5" cy="93.3" r="1.7" fill="url(#gg)"/><circle cx="454.6" cy="123.6" r="1.7" fill="url(#gp)"/><circle cx="484.1" cy="96.6" r="1.7" fill="url(#gp)"/><circle cx="434.4" cy="109.2" r="1.7" fill="url(#gp)"/><circle cx="444.3" cy="119.4" r="1.7" fill="url(#gp)"/><circle cx="440.6" cy="124.4" r="1.7" fill="url(#gp)"/><circle cx="384.9" cy="112.9" r="1.7" fill="url(#gg)"/><circle cx="431.8" cy="106.4" r="1.7" fill="url(#gg)"/><circle cx="420.7" cy="96.9" r="1.7" fill="url(#gp)"/><circle cx="398.9" cy="109.9" r="1.7" fill="url(#gg)"/><circle cx="463.9" cy="94.1" r="1.7" fill="url(#gp)"/><circle cx="427.4" cy="114.7" r="1.7" fill="url(#gp)"/><circle cx="394.9" cy="115.3" r="1.7" fill="url(#gg)"/><circle cx="406.6" cy="109.8" r="1.7" fill="url(#gp)"/><circle cx="406.7" cy="108.9" r="1.7" fill="url(#gg)"/><circle cx="387.6" cy="102.8" r="1.7" fill="url(#gg)"/><circle cx="381.9" cy="120.4" r="1.7" fill="url(#gp)"/><circle cx="391.5" cy="108.9" r="1.7" fill="url(#gg)"/><circle cx="418.6" cy="99.9" r="1.7" fill="url(#gp)"/><circle cx="377.4" cy="108.2" r="1.7" fill="url(#gg)"/><circle cx="366.4" cy="117.4" r="1.7" fill="url(#gp)"/><circle cx="381" cy="106.7" r="1.7" fill="url(#gg)"/><circle cx="375.5" cy="114.6" r="1.7" fill="url(#gp)"/><circle cx="432.6" cy="117" r="1.7" fill="url(#gp)"/><circle cx="392.8" cy="100.6" r="1.7" fill="url(#gg)"/><circle cx="436.4" cy="108.8" r="1.7" fill="url(#gg)"/><circle cx="396" cy="100.7" r="1.7" fill="url(#gg)"/><circle cx="404" cy="127" r="1.7" fill="url(#gg)"/><circle cx="458.5" cy="104.3" r="1.7" fill="url(#gg)"/><circle cx="473" cy="104.6" r="1.7" fill="url(#gp)"/><circle cx="431.8" cy="120" r="1.7" fill="url(#gg)"/><circle cx="432.8" cy="105.4" r="1.7" fill="url(#gg)"/><circle cx="381.3" cy="112.7" r="1.7" fill="url(#gg)"/><circle cx="419.2" cy="106.5" r="1.7" fill="url(#gg)"/><circle cx="470" cy="91.6" r="1.7" fill="url(#gp)"/><circle cx="454.3" cy="113.3" r="1.7" fill="url(#gp)"/><circle cx="432.6" cy="112" r="1.7" fill="url(#gg)"/><circle cx="435" cy="120.3" r="1.7" fill="url(#gp)"/><circle cx="475.5" cy="105.5" r="1.7" fill="url(#gp)"/><circle cx="379.9" cy="107.6" r="1.7" fill="url(#gg)"/><circle cx="380.4" cy="114.2" r="1.7" fill="url(#gp)"/><circle cx="437.3" cy="109.4" r="1.7" fill="url(#gg)"/><circle cx="417.3" cy="100.7" r="1.7" fill="url(#gg)"/><circle cx="477.6" cy="94.9" r="1.7" fill="url(#gp)"/><circle cx="487.7" cy="89.7" r="1.7" fill="url(#gp)"/><circle cx="452.4" cy="111.1" r="1.7" fill="url(#gg)"/><circle cx="395" cy="123.6" r="1.7" fill="url(#gp)"/><circle cx="491.2" cy="95.8" r="1.7" fill="url(#gp)"/><circle cx="386.6" cy="114.9" r="1.7" fill="url(#gg)"/><circle cx="435.1" cy="98.1" r="1.7" fill="url(#gg)"/><circle cx="456.6" cy="104.1" r="1.7" fill="url(#gg)"/><circle cx="433.8" cy="118.8" r="1.7" fill="url(#gg)"/><circle cx="468.4" cy="99.2" r="1.7" fill="url(#gp)"/><circle cx="391.1" cy="109.3" r="1.7" fill="url(#gg)"/><circle cx="482.4" cy="99.8" r="1.7" fill="url(#gg)"/><circle cx="439.2" cy="117.5" r="1.7" fill="url(#gp)"/><circle cx="448" cy="111.5" r="1.7" fill="url(#gp)"/><circle cx="434.6" cy="104.5" r="1.7" fill="url(#gg)"/><circle cx="448.5" cy="112.9" r="1.7" fill="url(#gp)"/><circle cx="429.7" cy="112.2" r="1.7" fill="url(#gg)"/><circle cx="371.9" cy="118" r="1.7" fill="url(#gp)"/><circle cx="458.9" cy="115" r="1.7" fill="url(#gg)"/><circle cx="409" cy="121.6" r="1.7" fill="url(#gp)"/><circle cx="439.9" cy="106.1" r="1.7" fill="url(#gg)"/><circle cx="388" cy="113.3" r="1.7" fill="url(#gp)"/><circle cx="405.6" cy="100.8" r="1.7" fill="url(#gg)"/><circle cx="368.1" cy="113.3" r="1.7" fill="url(#gp)"/><circle cx="371.5" cy="113.4" r="1.7" fill="url(#gg)"/><circle cx="419.5" cy="120.3" r="1.7" fill="url(#gp)"/><circle cx="399.4" cy="126.5" r="1.7" fill="url(#gp)"/><circle cx="455" cy="94.7" r="1.7" fill="url(#gp)"/><circle cx="485.2" cy="96.7" r="1.7" fill="url(#gp)"/><circle cx="452.6" cy="119.7" r="1.7" fill="url(#gp)"/><circle cx="411.4" cy="99.5" r="1.7" fill="url(#gg)"/><circle cx="385.2" cy="102.3" r="1.7" fill="url(#gg)"/><circle cx="424.3" cy="98.3" r="1.7" fill="url(#gg)"/><circle cx="420.8" cy="133" r="1.7" fill="url(#gg)"/><circle cx="381.4" cy="119.4" r="1.7" fill="url(#gp)"/><circle cx="391.2" cy="117.3" r="1.7" fill="url(#gp)"/><circle cx="485.9" cy="101.8" r="1.7" fill="url(#gp)"/><circle cx="371.2" cy="115.7" r="1.7" fill="url(#gp)"/><circle cx="457.8" cy="100.4" r="1.7" fill="url(#gg)"/><circle cx="416.6" cy="120" r="1.7" fill="url(#gp)"/><circle cx="448.1" cy="112.4" r="1.7" fill="url(#gp)"/><circle cx="401.8" cy="120.9" r="1.7" fill="url(#gp)"/><circle cx="486.8" cy="99.6" r="1.7" fill="url(#gg)"/><circle cx="433.4" cy="100.6" r="1.7" fill="url(#gg)"/><circle cx="452.5" cy="98.8" r="1.7" fill="url(#gg)"/><circle cx="402.1" cy="108.8" r="1.7" fill="url(#gg)"/><circle cx="426.9" cy="95.1" r="1.7" fill="url(#gg)"/><circle cx="474.2" cy="95.6" r="1.7" fill="url(#gp)"/><circle cx="384.3" cy="108.2" r="1.7" fill="url(#gg)"/><circle cx="454.8" cy="112.2" r="1.7" fill="url(#gp)"/><circle cx="373.1" cy="101.4" r="1.7" fill="url(#gg)"/><circle cx="394.1" cy="122.6" r="1.7" fill="url(#gp)"/><circle cx="447.6" cy="112.3" r="1.7" fill="url(#gg)"/><circle cx="388.2" cy="110.9" r="1.7" fill="url(#gp)"/><circle cx="391.3" cy="115.1" r="1.7" fill="url(#gg)"/><circle cx="411.9" cy="115.6" r="1.7" fill="url(#gg)"/><circle cx="461" cy="130.6" r="1.7" fill="url(#gg)"/><circle cx="433.5" cy="106.6" r="1.7" fill="url(#gg)"/><circle cx="422.6" cy="109.9" r="1.7" fill="url(#gg)"/><circle cx="492.9" cy="88.1" r="1.7" fill="url(#gp)"/><circle cx="457.5" cy="107.3" r="1.7" fill="url(#gg)"/><circle cx="434.7" cy="102.7" r="1.7" fill="url(#gp)"/><circle cx="453.1" cy="113.1" r="1.7" fill="url(#gp)"/><circle cx="440" cy="107.9" r="1.7" fill="url(#gp)"/><circle cx="404.2" cy="105.2" r="1.7" fill="url(#gg)"/><circle cx="407.5" cy="119.6" r="1.7" fill="url(#gp)"/><circle cx="379.5" cy="119.4" r="1.7" fill="url(#gg)"/><circle cx="395.3" cy="100.4" r="1.7" fill="url(#gg)"/><circle cx="491.2" cy="89.1" r="1.7" fill="url(#gp)"/><circle cx="432.5" cy="122.9" r="1.7" fill="url(#gp)"/><circle cx="485.2" cy="91.1" r="1.7" fill="url(#gp)"/><circle cx="432.7" cy="109.1" r="1.7" fill="url(#gg)"/><circle cx="459.4" cy="116.3" r="1.7" fill="url(#gp)"/><circle cx="403.2" cy="122.4" r="1.7" fill="url(#gg)"/><circle cx="470.9" cy="104.7" r="1.7" fill="url(#gg)"/><circle cx="420.7" cy="125.9" r="1.7" fill="url(#gg)"/><circle cx="451.5" cy="122.3" r="1.7" fill="url(#gp)"/><circle cx="435.2" cy="115.7" r="1.7" fill="url(#gg)"/><circle cx="447.9" cy="109.3" r="1.7" fill="url(#gg)"/><circle cx="451.3" cy="113.2" r="1.7" fill="url(#gp)"/><circle cx="382.8" cy="117.6" r="1.7" fill="url(#gp)"/><circle cx="381.3" cy="124.3" r="1.7" fill="url(#gp)"/><circle cx="408.2" cy="122.1" r="1.7" fill="url(#gp)"/><circle cx="380.4" cy="110.4" r="1.7" fill="url(#gg)"/><circle cx="430.1" cy="108.1" r="1.7" fill="url(#gg)"/><circle cx="370.5" cy="104.7" r="1.7" fill="url(#gg)"/><circle cx="405.8" cy="120.8" r="1.7" fill="url(#gp)"/><circle cx="490.4" cy="93" r="1.7" fill="url(#gp)"/><circle cx="472.6" cy="105" r="1.7" fill="url(#gp)"/><circle cx="428.5" cy="110.7" r="1.7" fill="url(#gp)"/><circle cx="455.8" cy="114.9" r="1.7" fill="url(#gp)"/><circle cx="468.1" cy="98.2" r="1.7" fill="url(#gp)"/><circle cx="491.2" cy="95.1" r="1.7" fill="url(#gp)"/><circle cx="413" cy="100.5" r="1.7" fill="url(#gg)"/><circle cx="362.3" cy="106.3" r="1.7" fill="url(#gg)"/><circle cx="435.9" cy="111.9" r="1.7" fill="url(#gp)"/><circle cx="417.1" cy="116" r="1.7" fill="url(#gp)"/><circle cx="480" cy="88.6" r="1.7" fill="url(#gp)"/><circle cx="430.9" cy="118.6" r="1.7" fill="url(#gg)"/><circle cx="431.1" cy="123.1" r="1.7" fill="url(#gg)"/><circle cx="393.8" cy="101.4" r="1.7" fill="url(#gg)"/><circle cx="406" cy="118.3" r="1.7" fill="url(#gp)"/><circle cx="407.9" cy="112.4" r="1.7" fill="url(#gp)"/><circle cx="462.4" cy="95.2" r="1.7" fill="url(#gp)"/><circle cx="487.6" cy="94.5" r="1.7" fill="url(#gp)"/><circle cx="398" cy="111.7" r="1.7" fill="url(#gp)"/><circle cx="440.2" cy="108.5" r="1.7" fill="url(#gg)"/><circle cx="370.2" cy="107.2" r="1.7" fill="url(#gg)"/><circle cx="399.3" cy="119.5" r="1.7" fill="url(#gp)"/><circle cx="432.3" cy="110.1" r="1.7" fill="url(#gg)"/><circle cx="461.1" cy="100.3" r="1.7" fill="url(#gg)"/><circle cx="387.8" cy="112.8" r="1.7" fill="url(#gg)"/><circle cx="429.3" cy="124.4" r="1.7" fill="url(#gp)"/><circle cx="368.9" cy="120.3" r="1.7" fill="url(#gp)"/><circle cx="386.8" cy="104" r="1.7" fill="url(#gp)"/><circle cx="431.3" cy="123.4" r="1.7" fill="url(#gp)"/><circle cx="384.8" cy="113.2" r="1.7" fill="url(#gg)"/><circle cx="388.4" cy="112.7" r="1.7" fill="url(#gp)"/><circle cx="393.3" cy="118.1" r="1.7" fill="url(#gg)"/><circle cx="419.5" cy="105.2" r="1.7" fill="url(#gg)"/><circle cx="450.3" cy="115.9" r="1.7" fill="url(#gg)"/><circle cx="391.7" cy="110.6" r="1.7" fill="url(#gg)"/><circle cx="420.5" cy="118.8" r="1.7" fill="url(#gg)"/><circle cx="402.3" cy="118.3" r="1.7" fill="url(#gg)"/><circle cx="411.9" cy="127.1" r="1.7" fill="url(#gp)"/><circle cx="464.4" cy="97.5" r="1.7" fill="url(#gp)"/><circle cx="444.1" cy="117.1" r="1.7" fill="url(#gg)"/><circle cx="424.3" cy="122.2" r="1.7" fill="url(#gp)"/><circle cx="393.8" cy="117.9" r="1.7" fill="url(#gp)"/><circle cx="389.6" cy="103.2" r="1.7" fill="url(#gg)"/><circle cx="409.6" cy="100.1" r="1.7" fill="url(#gg)"/><circle cx="493" cy="96.6" r="1.7" fill="url(#gp)"/><circle cx="375.1" cy="116.5" r="1.7" fill="url(#gp)"/><circle cx="405" cy="122.9" r="1.7" fill="url(#gp)"/><circle cx="409.3" cy="110" r="1.7" fill="url(#gg)"/><circle cx="421.4" cy="127.6" r="1.7" fill="url(#gp)"/><circle cx="370.8" cy="111.4" r="1.7" fill="url(#gg)"/><circle cx="394.1" cy="115.4" r="1.7" fill="url(#gp)"/><circle cx="365.6" cy="111.7" r="1.7" fill="url(#gg)"/><circle cx="485.5" cy="99.4" r="1.7" fill="url(#gp)"/><circle cx="477.7" cy="94.4" r="1.7" fill="url(#gp)"/><circle cx="485.8" cy="92.2" r="1.7" fill="url(#gp)"/><circle cx="440.1" cy="114.5" r="1.7" fill="url(#gp)"/><circle cx="463.1" cy="102.7" r="1.7" fill="url(#gp)"/><circle cx="454" cy="120.3" r="1.7" fill="url(#gp)"/><circle cx="433.7" cy="110.4" r="1.7" fill="url(#gg)"/><circle cx="387" cy="107.4" r="1.7" fill="url(#gg)"/><circle cx="460.8" cy="91.8" r="1.7" fill="url(#gg)"/><circle cx="433.7" cy="111.2" r="1.7" fill="url(#gp)"/><circle cx="450.3" cy="116.3" r="1.7" fill="url(#gp)"/><circle cx="438.5" cy="103.3" r="1.7" fill="url(#gg)"/><circle cx="477.2" cy="91" r="1.7" fill="url(#gg)"/><circle cx="373.8" cy="113.1" r="1.7" fill="url(#gg)"/><circle cx="418.9" cy="125.2" r="1.7" fill="url(#gp)"/><circle cx="423.7" cy="119.4" r="1.7" fill="url(#gg)"/><circle cx="488.9" cy="96.6" r="1.7" fill="url(#gg)"/><circle cx="443.6" cy="104.4" r="1.7" fill="url(#gg)"/><circle cx="476.2" cy="103.6" r="1.7" fill="url(#gp)"/><circle cx="486.5" cy="92.5" r="1.7" fill="url(#gg)"/><circle cx="419.5" cy="108.2" r="1.7" fill="url(#gp)"/><circle cx="410.2" cy="96.3" r="1.7" fill="url(#gg)"/><circle cx="401.6" cy="119.1" r="1.7" fill="url(#gp)"/><circle cx="464.5" cy="104.5" r="1.7" fill="url(#gp)"/><circle cx="380.4" cy="113.6" r="1.7" fill="url(#gg)"/><circle cx="450" cy="124.6" r="1.7" fill="url(#gp)"/><circle cx="434.2" cy="95.7" r="1.7" fill="url(#gg)"/><circle cx="446.2" cy="110.6" r="1.7" fill="url(#gp)"/><circle cx="404.6" cy="112.6" r="1.7" fill="url(#gg)"/><circle cx="484.3" cy="100.7" r="1.7" fill="url(#gp)"/><circle cx="417.5" cy="96.3" r="1.7" fill="url(#gg)"/><circle cx="407.7" cy="116.3" r="1.7" fill="url(#gp)"/><circle cx="429.1" cy="122.5" r="1.7" fill="url(#gp)"/><circle cx="402.8" cy="119.2" r="1.7" fill="url(#gg)"/><circle cx="430.2" cy="95.2" r="1.7" fill="url(#gg)"/><circle cx="367.2" cy="111.3" r="1.7" fill="url(#gg)"/><circle cx="457.4" cy="102.2" r="1.7" fill="url(#gp)"/><circle cx="412.6" cy="123.6" r="1.7" fill="url(#gg)"/><circle cx="427.2" cy="119.7" r="1.7" fill="url(#gg)"/><circle cx="479.6" cy="99.2" r="1.7" fill="url(#gp)"/><circle cx="370.8" cy="111.7" r="1.7" fill="url(#gg)"/><circle cx="474.6" cy="94.5" r="1.7" fill="url(#gp)"/><circle cx="396.4" cy="112.7" r="1.7" fill="url(#gp)"/><circle cx="396.4" cy="98.4" r="1.7" fill="url(#gp)"/><circle cx="461.8" cy="101.4" r="1.7" fill="url(#gp)"/><circle cx="439.3" cy="110.4" r="1.7" fill="url(#gg)"/><circle cx="447.6" cy="100.9" r="1.7" fill="url(#gg)"/><circle cx="487.7" cy="96.8" r="1.7" fill="url(#gp)"/><circle cx="442.3" cy="118.3" r="1.7" fill="url(#gg)"/><circle cx="401.3" cy="114.9" r="1.7" fill="url(#gp)"/><circle cx="453.8" cy="122.4" r="1.7" fill="url(#gp)"/><circle cx="438.5" cy="110.5" r="1.7" fill="url(#gg)"/><circle cx="445.5" cy="122.1" r="1.7" fill="url(#gg)"/><circle cx="475.8" cy="102.9" r="1.7" fill="url(#gp)"/><circle cx="480.1" cy="87.9" r="1.7" fill="url(#gg)"/><circle cx="379.8" cy="103.5" r="1.7" fill="url(#gg)"/><circle cx="465.7" cy="92.7" r="1.7" fill="url(#gp)"/><circle cx="406.6" cy="124.8" r="1.7" fill="url(#gp)"/><circle cx="471.2" cy="100.1" r="1.7" fill="url(#gp)"/><circle cx="421.5" cy="117.8" r="1.7" fill="url(#gg)"/><circle cx="467.8" cy="104.5" r="1.7" fill="url(#gp)"/><circle cx="433.8" cy="118.3" r="1.7" fill="url(#gp)"/><circle cx="455.7" cy="94.9" r="1.7" fill="url(#gp)"/><circle cx="370.1" cy="115.9" r="1.7" fill="url(#gg)"/><circle cx="459.4" cy="110.7" r="1.7" fill="url(#gg)"/><circle cx="445.9" cy="121.8" r="1.7" fill="url(#gp)"/><circle cx="411.2" cy="96.8" r="1.7" fill="url(#gg)"/><circle cx="367.5" cy="107.7" r="1.7" fill="url(#gg)"/><circle cx="479.6" cy="87.1" r="1.7" fill="url(#gp)"/><circle cx="468.4" cy="102.4" r="1.7" fill="url(#gp)"/><circle cx="474.5" cy="104.4" r="1.7" fill="url(#gp)"/><circle cx="422" cy="125.3" r="1.7" fill="url(#gp)"/><circle cx="456.9" cy="92.3" r="1.7" fill="url(#gg)"/><circle cx="445.3" cy="123.4" r="1.7" fill="url(#gp)"/><circle cx="463.9" cy="103.3" r="1.7" fill="url(#gp)"/><circle cx="373" cy="107.3" r="1.7" fill="url(#gg)"/><circle cx="439.4" cy="114.6" r="1.7" fill="url(#gp)"/><circle cx="482.1" cy="98.3" r="1.7" fill="url(#gp)"/><circle cx="397.8" cy="114.1" r="1.7" fill="url(#gp)"/><circle cx="389.9" cy="108.9" r="1.7" fill="url(#gp)"/><circle cx="414.9" cy="119.8" r="1.7" fill="url(#gp)"/><circle cx="444.9" cy="124" r="1.7" fill="url(#gp)"/><circle cx="458.3" cy="94.5" r="1.7" fill="url(#gp)"/><circle cx="443.3" cy="111.4" r="1.7" fill="url(#gg)"/><circle cx="373.9" cy="106.6" r="1.7" fill="url(#gg)"/><circle cx="419.4" cy="112" r="1.7" fill="url(#gp)"/><circle cx="402.2" cy="98.9" r="1.7" fill="url(#gg)"/><circle cx="401.1" cy="113.2" r="1.7" fill="url(#gp)"/><circle cx="386.6" cy="113.4" r="1.7" fill="url(#gp)"/><circle cx="448.6" cy="119.7" r="1.7" fill="url(#gp)"/><circle cx="453.9" cy="104.1" r="1.7" fill="url(#gg)"/><circle cx="389.5" cy="113.9" r="1.7" fill="url(#gg)"/><circle cx="429.3" cy="94.2" r="1.7" fill="url(#gg)"/><circle cx="421.5" cy="104.4" r="1.7" fill="url(#gg)"/><circle cx="377.2" cy="107.8" r="1.7" fill="url(#gp)"/><circle cx="474.4" cy="94" r="1.7" fill="url(#gp)"/><circle cx="451.4" cy="124.5" r="1.7" fill="url(#gp)"/><circle cx="409" cy="125.5" r="1.7" fill="url(#gp)"/><circle cx="412.6" cy="116.4" r="1.7" fill="url(#gg)"/><circle cx="474.3" cy="99.8" r="1.7" fill="url(#gp)"/><circle cx="467" cy="100" r="1.7" fill="url(#gg)"/><circle cx="396.5" cy="111.8" r="1.7" fill="url(#gg)"/><circle cx="450.9" cy="116.1" r="1.7" fill="url(#gp)"/><circle cx="459.7" cy="116" r="1.7" fill="url(#gp)"/><circle cx="476.2" cy="96.8" r="1.7" fill="url(#gp)"/><circle cx="402.1" cy="117.3" r="1.7" fill="url(#gp)"/><circle cx="447.7" cy="117.9" r="1.7" fill="url(#gg)"/><circle cx="426.8" cy="116.3" r="1.7" fill="url(#gp)"/><circle cx="463.6" cy="101.2" r="1.7" fill="url(#gp)"/><circle cx="462.7" cy="100.6" r="1.7" fill="url(#gg)"/><circle cx="376.1" cy="108.8" r="1.7" fill="url(#gp)"/><circle cx="430.1" cy="109.3" r="1.7" fill="url(#gg)"/><circle cx="430" cy="94.6" r="1.7" fill="url(#gg)"/><circle cx="405.6" cy="107.7" r="1.7" fill="url(#gg)"/><circle cx="405.8" cy="114" r="1.7" fill="url(#gg)"/><circle cx="412.3" cy="102.1" r="1.7" fill="url(#gg)"/><circle cx="416.4" cy="110.6" r="1.7" fill="url(#gg)"/><circle cx="409.2" cy="122.6" r="1.7" fill="url(#gg)"/><circle cx="411" cy="106.5" r="1.7" fill="url(#gg)"/><circle cx="448.7" cy="119.1" r="1.7" fill="url(#gg)"/><circle cx="425.4" cy="119.7" r="1.7" fill="url(#gp)"/><circle cx="434.6" cy="111.2" r="1.7" fill="url(#gg)"/><circle cx="370.9" cy="103.9" r="1.7" fill="url(#gp)"/><circle cx="391.2" cy="111.2" r="1.7" fill="url(#gp)"/><circle cx="462.2" cy="105.5" r="1.7" fill="url(#gp)"/><circle cx="458.1" cy="94.9" r="1.7" fill="url(#gp)"/><circle cx="480.3" cy="90.4" r="1.7" fill="url(#gp)"/><circle cx="391.1" cy="125.9" r="1.7" fill="url(#gp)"/><circle cx="409.7" cy="123.3" r="1.7" fill="url(#gp)"/><circle cx="485.9" cy="88.9" r="1.7" fill="url(#gp)"/><circle cx="425" cy="114.7" r="1.7" fill="url(#gp)"/><circle cx="370.7" cy="111.1" r="1.7" fill="url(#gp)"/><circle cx="372.5" cy="115.1" r="1.7" fill="url(#gg)"/><circle cx="479.5" cy="86.3" r="1.7" fill="url(#gp)"/><circle cx="368.9" cy="111.2" r="1.7" fill="url(#gg)"/><circle cx="392.2" cy="116.4" r="1.7" fill="url(#gg)"/><circle cx="423.8" cy="104.3" r="1.7" fill="url(#gg)"/><circle cx="405.6" cy="119" r="1.7" fill="url(#gp)"/><circle cx="412.9" cy="119.9" r="1.7" fill="url(#gp)"/><circle cx="447.8" cy="113.4" r="1.7" fill="url(#gp)"/><circle cx="436.6" cy="116.2" r="1.7" fill="url(#gp)"/><circle cx="443.1" cy="103.3" r="1.7" fill="url(#gp)"/><circle cx="452.9" cy="114" r="1.7" fill="url(#gp)"/><circle cx="463.3" cy="100.5" r="1.7" fill="url(#gp)"/><circle cx="373.5" cy="103.6" r="1.7" fill="url(#gg)"/><circle cx="461.6" cy="94.5" r="1.7" fill="url(#gg)"/><circle cx="376.4" cy="122" r="1.7" fill="url(#gp)"/><circle cx="416.7" cy="101.3" r="1.7" fill="url(#gg)"/><circle cx="481.5" cy="101.4" r="1.7" fill="url(#gg)"/><circle cx="424.9" cy="108.2" r="1.7" fill="url(#gg)"/><circle cx="378.5" cy="114.1" r="1.7" fill="url(#gp)"/><circle cx="435.2" cy="94.6" r="1.7" fill="url(#gg)"/><circle cx="488.3" cy="88.7" r="1.7" fill="url(#gp)"/><circle cx="455.2" cy="98.7" r="1.7" fill="url(#gp)"/><circle cx="438.7" cy="107.3" r="1.7" fill="url(#gg)"/><circle cx="441.9" cy="114.1" r="1.7" fill="url(#gg)"/><circle cx="405" cy="125.1" r="1.7" fill="url(#gg)"/><circle cx="404.4" cy="121.2" r="1.7" fill="url(#gp)"/><circle cx="396.8" cy="113.4" r="1.7" fill="url(#gg)"/><circle cx="370" cy="109.4" r="1.7" fill="url(#gg)"/><circle cx="438.6" cy="108.4" r="1.7" fill="url(#gp)"/><circle cx="461.1" cy="99.9" r="1.7" fill="url(#gg)"/><circle cx="484.2" cy="93.4" r="1.7" fill="url(#gp)"/><circle cx="383" cy="101.3" r="1.7" fill="url(#gg)"/><circle cx="486.1" cy="98.1" r="1.7" fill="url(#gg)"/><circle cx="408.9" cy="115" r="1.7" fill="url(#gg)"/><circle cx="404.4" cy="109.4" r="1.7" fill="url(#gg)"/><circle cx="369.3" cy="113.4" r="1.7" fill="url(#gp)"/><circle cx="402.7" cy="103.5" r="1.7" fill="url(#gp)"/><circle cx="372.6" cy="113.2" r="1.7" fill="url(#gp)"/><circle cx="423.5" cy="119.8" r="1.7" fill="url(#gp)"/></g>
<line x1="397.5" y1="85.2" x2="503.7" y2="104.6" stroke="#e850e8" stroke-width="1.1"/>
<line x1="432.6" y1="20.9" x2="432.6" y2="140" stroke="#5a64e6" stroke-width="1.1" stroke-opacity="0.9"/>
<text x="41" y="199" font-size="10.8" font-weight="bold" stroke="#000" stroke-width="0.22">D</text>
<ellipse cx="104.7" cy="289" rx="63" ry="66" fill="#ebebeb"/>
<circle cx="52.6" cy="280.6" r="13.6" fill="#ff0000" fill-opacity="0.56"/>
<circle cx="53" cy="308" r="16.8" fill="#0000ff" fill-opacity="0.54"/>
<circle cx="170.3" cy="279" r="9.7" fill="#8000a0" fill-opacity="0.5"/>
<circle cx="170.9" cy="305" r="16.4" fill="#009000" fill-opacity="0.53"/>
<text x="112" y="204.7" font-size="12.9" stroke="#000" stroke-width="0.22">CpG island</text>
<text x="112" y="220.3" font-size="12.9" stroke="#000" stroke-width="0.22">residues</text>
<line x1="164.8" y1="210.7" x2="127.3" y2="258.7" stroke="#222" stroke-width="0.8"/>
<text x="13.6" y="249.9" font-size="12.9" stroke="#000" stroke-width="0.22">DMC 1</text>
<line x1="33.5" y1="253" x2="45.3" y2="269.5" stroke="#222" stroke-width="0.8"/>
<text x="18" y="348" font-size="12.9" stroke="#000" stroke-width="0.22">DMC 2</text>
<line x1="45" y1="321.5" x2="36.5" y2="332" stroke="#222" stroke-width="0.8"/>
<text x="175.4" y="249.8" font-size="12.9" stroke="#000" stroke-width="0.22">DMC 4</text>
<line x1="195.5" y1="256" x2="176.8" y2="271" stroke="#222" stroke-width="0.8"/>
<text x="163.2" y="352.5" font-size="12.9" stroke="#000" stroke-width="0.22">DMC 3</text>
<line x1="177.5" y1="312.4" x2="183.8" y2="336.5" stroke="#222" stroke-width="0.8"/>
<text x="56.2" y="286.4" font-size="12.4" text-anchor="middle" fill="#2a0606" stroke="#2a0606" stroke-width="0.22">95%</text>
<text x="57.2" y="313" font-size="12.4" text-anchor="middle" fill="#0c0c40" stroke="#0c0c40" stroke-width="0.22">80%</text>
<text x="176.2" y="283.8" font-size="12.3" text-anchor="middle" fill="#200820" stroke="#200820" stroke-width="0.22">29%</text>
<text x="175.3" y="308.6" font-size="12.3" text-anchor="middle" fill="#062006" stroke="#062006" stroke-width="0.22">24%</text>
<text x="261.4" y="199" font-size="10.8" font-weight="bold" stroke="#000" stroke-width="0.22">E</text>
<rect x="277.5" y="203.3" width="177.8" height="137.3" fill="none" stroke="#dcdcdc" stroke-width="1"/>
<path d="M288.8 206V337H452.6" stroke="#ececec" stroke-width="0.8" fill="none"/>
<text x="283.4" y="208.5" font-size="3.6" text-anchor="middle" fill="#888" stroke="#888" stroke-width="0.22">0.6</text>
<text x="283.4" y="252" font-size="3.6" text-anchor="middle" fill="#888" stroke="#888" stroke-width="0.22">0.5</text>
<text x="283.4" y="294.5" font-size="3.6" text-anchor="middle" fill="#888" stroke="#888" stroke-width="0.22">0.4</text>
<text x="283.4" y="338.5" font-size="3.6" text-anchor="middle" fill="#888" stroke="#888" stroke-width="0.22">0.3</text>
<text transform="translate(275.9,272.8) rotate(-90)" font-size="11.4" text-anchor="middle" stroke="#000" stroke-width="0.22">Average Beta</text>
<path stroke="#6f8fc8" stroke-width="0.9" d="M329.3 281.6h2.4M366.8 283.5h2.4M371.1 279.8h2.4M371.5 288.4h2.4M322.9 280.3h2.4M409.4 279.9h2.4M412.2 286.7h2.4M375.5 281.1h2.4M328.9 284.8h2.4M295.4 283h2.4M343.6 283.8h2.4M339.7 273h2.4M327.9 285h2.4M403 291.4h2.4M400.1 280.9h2.4M384.2 283h2.4M403.8 293.3h2.4M363.7 288h2.4M402.6 282.4h2.4M330.6 286h2.4M323.5 287.7h2.4M299.7 284.1h2.4M417 286.8h2.4M350.2 287.4h2.4M342.9 278.7h2.4M321.1 285.5h2.4M291.4 278.1h2.4M365.8 278.4h2.4M324.8 278.1h2.4M335.1 276.2h2.4M405.1 284.3h2.4M315.7 276.2h2.4M421.8 285.4h2.4M292.4 286.2h2.4M328.4 277.3h2.4M417.3 283.9h2.4M332.6 281.5h2.4M346.5 285.9h2.4M336.3 294.2h2.4M319.1 281.8h2.4M333.6 289.2h2.4M354.6 283.9h2.4M296.3 288.1h2.4M297.1 287h2.4M413.9 285.9h2.4M356.1 277.4h2.4M393.5 279h2.4M420.8 286.8h2.4M367.5 278.7h2.4M386.7 278.4h2.4M290.2 284.2h2.4M310.4 283.5h2.4M299.7 286.5h2.4M311.7 283h2.4M414.4 283.8h2.4M300.1 280.6h2.4M368 282.8h2.4M320.3 279.4h2.4M341.1 278h2.4M301.5 283.8h2.4M337.2 278h2.4M401.6 286h2.4M370.6 274.9h2.4M302.6 293.2h2.4M312.4 285.6h2.4M380.8 281.2h2.4M411.4 286.3h2.4M329.4 277.9h2.4M416.8 287.6h2.4M331.2 284.5h2.4M303.5 278.5h2.4M329.1 276.9h2.4M359.5 288.2h2.4M391 284.6h2.4M357.4 287.3h2.4M332.2 285.9h2.4M403.5 293.9h2.4M337.9 274.8h2.4M349.9 282.6h2.4M340.1 282.6h2.4M385.1 280.8h2.4M338.4 287.9h2.4M337.6 283.9h2.4M407.2 288.2h2.4M333.6 278.1h2.4M319.1 277.7h2.4M328.9 285h2.4M327.6 280.6h2.4M370.3 278.6h2.4M400.7 282.2h2.4M396 286.3h2.4M389.9 287.2h2.4M384.8 280.4h2.4M363.6 288.8h2.4M385.4 279.3h2.4M366.7 276.8h2.4M390.7 280.5h2.4M295 285.3h2.4M296.8 279.3h2.4M325.7 285.4h2.4M388 281.8h2.4M326.9 279h2.4M336.1 275.1h2.4M359.2 290.7h2.4M339.6 281.4h2.4M357.4 284.8h2.4M354.5 288.1h2.4M323.9 280.7h2.4M360.8 274.7h2.4M414.7 281.8h2.4M315.2 283h2.4M419.6 280.7h2.4M323 281.8h2.4M311.7 278.4h2.4M359.1 280.7h2.4M332.7 275.7h2.4M399.2 289.7h2.4M387.5 294.6h2.4M391.9 283h2.4M376.7 285.3h2.4M318.1 280.9h2.4M296.1 281.1h2.4M409.6 283.3h2.4M299.6 281h2.4M388 286.6h2.4M416.5 281.2h2.4M295 277h2.4M334.9 283h2.4M321.6 288h2.4M333 278.9h2.4M340.9 293.4h2.4M410.9 277.5h2.4M362.4 284.2h2.4M381.7 290h2.4M326 277h2.4M313.2 246.6h2.4M311.2 250.5h2.4M314.5 260.3h2.4M325.8 264.2h2.4M337.6 267.2h2.4M339.8 272.7h2.4M301.8 268h2.4M294.8 271h2.4"/>
<path stroke="#3ab060" stroke-width="1" d="M425.3 287.5h2.4M427.3 288.5h2.4M429.8 289.5h2.4M432.3 289.7h2.4M434.8 289.5h2.4"/>
<polyline points="289.5,297 342.5,312.5 425.4,292.6" fill="none" stroke="#444" stroke-width="0.9"/>
<line x1="409" y1="313" x2="429.3" y2="293" stroke="#444" stroke-width="0.9"/>
<rect x="326.3" y="313.3" width="33.2" height="16.2" fill="#fff" stroke="#555" stroke-width="0.9"/>
<text x="342.6" y="325" font-size="8.2" text-anchor="middle" fill="#3a6ab0" stroke="#3a6ab0" stroke-width="0.22">AML</text>
<rect x="371.3" y="313" width="74.1" height="16.7" fill="#fff" stroke="#555" stroke-width="0.9"/>
<text x="408.3" y="324.7" font-size="8.45" text-anchor="middle" fill="#2aa860" stroke="#2aa860" stroke-width="0.22">Normal controls</text>
</g>
</svg></body></html>
